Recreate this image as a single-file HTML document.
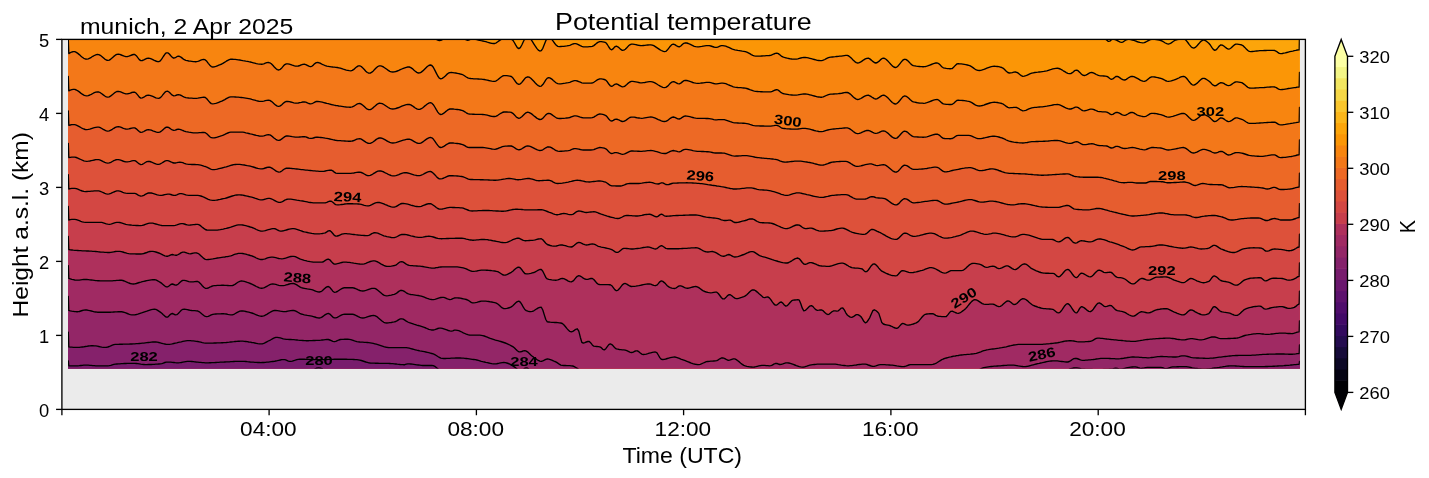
<!DOCTYPE html>
<html><head><meta charset="utf-8"><title>Potential temperature</title>
<style>html,body{margin:0;padding:0;background:#fff}body{width:1429px;height:478px;position:relative;overflow:hidden;font-family:"Liberation Sans",sans-serif}</style>
</head><body>
<svg width="1429" height="478" viewBox="0 0 1429 478" style="position:absolute;left:0;top:0;will-change:transform;transform:translateZ(0)">
<defs><clipPath id="dc"><rect x="68.0" y="39.4" width="1231.8" height="329.20000000000005"/></clipPath></defs>
<rect x="61.9" y="39.4" width="1243.5" height="370.0" fill="#ebebeb"/>
<g clip-path="url(#dc)">
<rect x="68.0" y="39.4" width="1231.8" height="329.20000000000005" fill="#fca50a"/>
<g stroke="#000" stroke-width="1.35" stroke-linejoin="round">
<path fill="#fb9606" d="M50,-34.3L68.3,-34.3L68.8,-20L70.3,-20L71.8,-20L73.3,-19.9L74.8,-19.9L76.3,-19.9L77.8,-19.9L79.3,-19.9L80.8,-19.9L82.3,-19.9L83.8,-19.8L85.3,-19.8L86.8,-19.8L88.3,-19.8L89.8,-19.8L91.3,-19.8L92.8,-19.7L94.3,-19.7L95.8,-19.7L97.3,-19.7L98.8,-19.7L100.3,-19.7L101.8,-19.7L103.3,-19.6L104.8,-19.6L106.3,-19.6L107.8,-19.6L109.3,-19.6L110.8,-19.6L112.3,-19.5L113.8,-19.5L115.3,-19.5L116.8,-19.5L118.3,-19.5L119.8,-19.4L121.3,-19.4L122.8,-19.4L124.3,-19.4L125.8,-19.4L127.3,-19.4L128.8,-19.3L130.3,-19.3L131.8,-19.3L133.3,-19.3L134.8,-19.3L136.3,-19.2L137.8,-19.2L139.3,-19.2L140.8,-19.2L142.3,-19.2L143.8,-19.1L145.3,-19.1L146.8,-19.1L148.3,-19.1L149.8,-19.1L151.3,-19L152.8,-19L154.3,-19L155.8,-19L157.3,-19L158.8,-18.9L160.3,-18.9L161.8,-18.9L163.3,-18.9L164.8,-18.9L166.3,-18.8L167.8,-18.8L169.3,-18.8L170.8,-18.8L172.3,-18.8L173.8,-18.7L175.3,-18.7L176.8,-18.7L178.3,-18.7L179.8,-18.7L181.3,-18.6L182.8,-18.6L184.3,-18.6L185.8,-18.6L187.3,-18.5L188.8,-18.5L190.3,-18.5L191.8,-18.5L193.3,-18.5L194.8,-18.4L196.3,-18.4L197.8,-18.4L199.3,-18.4L200.8,-18.3L202.3,-18.3L203.8,-18.3L205.3,-18.3L206.8,-18.3L208.3,-18.2L209.8,-18.2L211.3,-18.2L212.8,-18.2L214.3,-18.1L215.8,-18.1L217.3,-18.1L218.8,-18.1L220.3,-18L221.8,-18L223.3,-18L224.8,-18L226.3,-17.9L227.8,-17.9L229.3,-17.9L230.8,-17.9L232.3,-17.8L233.8,-17.8L235.3,-17.8L236.8,-17.8L238.3,-17.7L239.8,-17.7L241.3,-17.7L242.8,-17.7L244.3,-17.6L245.8,-17.6L247.3,-17.6L248.8,-17.6L250.3,-17.5L251.8,-17.5L253.3,-17.5L254.8,-17.5L256.3,-17.4L257.8,-17.4L259.3,-17.4L260.8,-17.4L262.3,-17.3L263.8,-17.3L265.3,-17.3L266.8,-17.3L268.3,-17.2L269.8,-17.2L271.3,-17.2L272.8,-17.2L274.3,-17.1L275.8,-17.1L277.3,-17.1L278.8,-17L280.3,-17L281.8,-17L283.3,-17L284.8,-16.9L286.3,-16.9L287.8,-16.9L289.3,-16.9L290.8,-16.8L292.3,-16.8L293.8,-16.8L295.3,-16.7L296.8,-16.7L298.3,-16.7L299.8,-16.7L301.3,-16.6L302.8,-16.6L304.3,-16.6L305.8,-16.6L307.3,-16.5L308.8,-16.5L310.3,-16.5L311.8,-16.4L313.3,-16.4L314.8,-16.4L316.3,-16.4L317.8,-16.3L319.3,-16.3L320.8,-16.3L322.3,-16.2L323.8,-16.2L325.3,-16.2L326.8,-16.1L328.3,-16.1L329.8,-16.1L331.3,-16.1L332.8,-16L334.3,-16L335.8,-16L337.3,-15.9L338.8,-15.9L340.3,-15.9L341.8,-15.9L343.3,-15.8L344.8,-15.8L346.3,-15.8L347.8,-15.7L349.3,-15.7L350.8,-15.7L352.3,-15.6L353.8,-15.6L355.3,-15.6L356.8,-15.6L358.3,-15.5L359.8,-15.5L361.3,-15.5L362.8,-15.4L364.3,-15.4L365.8,-15.4L367.3,-15.3L368.8,-15.3L370.3,-15.3L371.8,-15.2L373.3,-15.2L374.8,-15.2L376.3,-15.2L377.8,-15.1L379.3,-15.1L380.8,-15.1L382.3,-15L383.8,-15L385.3,-15L386.8,-14.9L388.3,-14.9L389.8,-14.9L391.3,-14.8L392.8,-14.8L394.3,-14.8L395.8,-14.7L397.3,-14.7L398.8,-14.7L400.3,-14.6L401.8,-14.6L403.3,-14.6L404.8,-14.6L406.3,-14.5L407.8,-14.5L409.3,-14.5L410.8,-14.4L412.3,-14.4L413.8,-14.4L415.3,-14.3L416.8,-14.3L418.3,-14.3L419.8,-14.2L421.3,-14.2L422.8,-14.2L424.3,-14.1L425.8,-14.1L427.3,-14.1L428.8,-14L430.3,-14L431.8,-14L433.3,-13.9L434.8,-13.9L436.3,-13.9L437.8,-13.8L439.3,-13.8L440.8,-13.8L442.3,-13.7L443.8,-13.7L445.3,-13.7L446.8,-13.6L448.3,-13.6L449.8,-13.6L451.3,-13.5L452.8,-13.5L454.3,-13.5L455.8,-13.4L457.3,-13.4L458.8,-13.4L460.3,-13.3L461.8,-13.3L463.3,-13.3L464.8,-13.2L466.3,-13.2L467.8,-13.2L469.3,-13.1L470.8,-13.1L472.3,-13.1L473.8,-13L475.3,-13L476.8,-12.9L478.3,-12.9L479.8,-12.9L481.3,-12.8L482.8,-12.8L484.3,-12.8L485.8,-12.7L487.3,-12.7L488.8,-12.7L490.3,-12.6L491.8,-12.6L493.3,-12.6L494.8,-12.5L496.3,-12.5L497.8,-12.5L499.3,-12.4L500.8,-12.4L502.3,-12.4L503.8,-12.3L505.3,-12.3L506.8,-12.2L508.3,-12.2L509.8,-12.2L511.3,-12.1L512.8,-12.1L514.3,-12.1L515.8,-12L517.3,-12L518.8,-12L520.3,-11.9L521.8,-11.9L523.3,-11.9L524.8,-11.8L526.3,-11.8L527.8,-11.8L529.3,-11.7L530.8,-11.7L532.3,-11.6L533.8,-11.6L535.3,-11.6L536.8,-11.5L538.3,-11.5L539.8,-11.5L541.3,-11.4L542.8,-11.4L544.3,-11.4L545.8,-11.3L547.3,-11.3L548.8,-11.2L550.3,-11.2L551.8,-11.2L553.3,-11.1L554.8,-11.1L556.3,-11.1L557.8,-11L559.3,-11L560.8,-11L562.3,-10.9L563.8,-10.9L565.3,-10.9L566.8,-10.8L568.3,-10.8L569.8,-10.7L571.3,-10.7L572.8,-10.7L574.3,-10.6L575.8,-10.6L577.3,-10.6L578.8,-10.5L580.3,-10.5L581.8,-10.4L583.3,-10.4L584.8,-10.4L586.3,-10.3L587.8,-10.3L589.3,-10.3L590.8,-10.2L592.3,-10.2L593.8,-10.2L595.3,-10.1L596.8,-10.1L598.3,-10L599.8,-10L601.3,-10L602.8,-9.9L604.3,-9.9L605.8,-9.9L607.3,-9.8L608.8,-9.8L610.3,-9.7L611.8,-9.7L613.3,-9.7L614.8,-9.6L616.3,-9.6L617.8,-9.5L619.3,-9.5L620.8,-9.5L622.3,-9.4L623.8,-9.4L625.3,-9.3L626.8,-9.3L628.3,-9.3L629.8,-9.2L631.3,-9.2L632.8,-9.1L634.3,-9.1L635.8,-9L637.3,-9L638.8,-9L640.3,-8.9L641.8,-8.9L643.3,-8.8L644.8,-8.8L646.3,-8.7L647.8,-8.7L649.3,-8.6L650.8,-8.6L652.3,-8.5L653.8,-8.5L655.3,-8.5L656.8,-8.4L658.3,-8.4L659.8,-8.3L661.3,-8.3L662.8,-8.2L664.3,-8.2L665.8,-8.1L667.3,-8.1L668.8,-8L670.3,-8L671.8,-7.9L673.3,-7.9L674.8,-7.8L676.3,-7.8L677.8,-7.7L679.3,-7.7L680.8,-7.6L682.3,-7.6L683.8,-7.5L685.3,-7.5L686.8,-7.4L688.3,-7.4L689.8,-7.4L691.3,-7.3L692.8,-7.2L694.3,-7.2L695.8,-7.1L697.3,-7.1L698.8,-7L700.3,-7L701.8,-6.9L703.3,-6.9L704.8,-6.8L706.3,-6.8L707.8,-6.7L709.3,-6.7L710.8,-6.6L712.3,-6.6L713.8,-6.5L715.3,-6.5L716.8,-6.4L718.3,-6.4L719.8,-6.3L721.3,-6.3L722.8,-6.2L724.3,-6.2L725.8,-6.1L727.3,-6.1L728.8,-6L730.3,-6L731.8,-5.9L733.3,-5.8L734.8,-5.8L736.3,-5.7L737.8,-5.7L739.3,-5.6L740.8,-5.6L742.3,-5.5L743.8,-5.5L745.3,-5.4L746.8,-5.4L748.3,-5.3L749.8,-5.3L751.3,-5.2L752.8,-5.1L754.3,-5.1L755.8,-5L757.3,-5L758.8,-4.9L760.3,-4.9L761.8,-4.8L763.3,-4.8L764.8,-4.7L766.3,-4.7L767.8,-4.6L769.3,-4.6L770.8,-4.5L772.3,-4.4L773.8,-4.4L775.3,-4.3L776.8,-4.3L778.3,-4.2L779.8,-4.2L781.3,-4.1L782.8,-4.1L784.3,-4L785.8,-4L787.3,-3.9L788.8,-3.8L790.3,-3.8L791.8,-3.7L793.3,-3.7L794.8,-3.6L796.3,-3.6L797.8,-3.5L799.3,-3.5L800.8,-3.4L802.3,-3.4L803.8,-3.3L805.3,-3.2L806.8,-3.2L808.3,-3.1L809.8,-3.1L811.3,-3L812.8,-3L814.3,-2.9L815.8,-2.9L817.3,-2.8L818.8,-2.8L820.3,-2.7L821.8,-2.7L823.3,-2.6L824.8,-2.5L826.3,-2.5L827.8,-2.4L829.3,-2.4L830.8,-2.3L832.3,-2.3L833.8,-2.2L835.3,-2.2L836.8,-2.1L838.3,-2.1L839.8,-2L841.3,-2L842.8,-1.9L844.3,-1.9L845.8,-1.8L847.3,-1.8L848.8,-1.7L850.3,-1.6L851.8,-1.6L853.3,-1.5L854.8,-1.5L856.3,-1.4L857.8,-1.4L859.3,-1.3L860.8,-1.3L862.3,-1.2L863.8,-1.2L865.3,-1.1L866.8,-1.1L868.3,-1L869.8,-1L871.3,-0.9L872.8,-0.9L874.3,-0.8L875.8,-0.8L877.3,-0.7L878.8,-0.7L880.3,-0.6L881.8,-0.6L883.3,-0.5L884.8,-0.5L886.3,-0.4L887.8,-0.4L889.3,-0.3L890.8,-0.3L892.3,-0.2L893.8,-0.2L895.3,-0.1L896.8,-0.1L898.3,-0.1L899.8,-0L901.3,0L902.8,0.1L904.3,0.1L905.8,0.2L907.3,0.2L908.8,0.3L910.3,0.3L911.8,0.4L913.3,0.4L914.8,0.4L916.3,0.5L917.8,0.5L919.3,0.6L920.8,0.6L922.3,0.7L923.8,0.7L925.3,0.7L926.8,0.8L928.3,0.8L929.8,0.9L931.3,0.9L932.8,0.9L934.3,1L935.8,1L937.3,1.1L938.8,1.1L940.3,1.1L941.8,1.2L943.3,1.2L944.8,1.3L946.3,1.3L947.8,1.3L949.3,1.4L950.8,1.4L952.3,1.5L953.8,1.5L955.3,1.5L956.8,1.6L958.3,1.6L959.8,1.7L961.3,1.7L962.8,1.8L964.3,1.8L965.8,1.8L967.3,1.9L968.8,1.9L970.3,2L971.8,2L973.3,2.1L974.8,2.1L976.3,2.2L977.8,2.2L979.3,2.3L980.8,2.3L982.3,2.4L983.8,2.4L985.3,2.5L986.8,2.5L988.3,2.6L989.8,2.6L991.3,2.7L992.8,2.7L994.3,2.8L995.8,2.8L997.3,2.9L998.8,3L1000.3,3L1001.8,3.1L1003.3,3.1L1004.8,3.2L1006.3,3.2L1007.8,3.3L1009.3,3.3L1010.8,3.4L1012.3,3.4L1013.8,3.4L1015.3,3.5L1016.8,3.5L1018.3,3.5L1019.8,3.6L1021.3,3.6L1022.8,3.6L1024.3,3.7L1025.8,3.7L1027.3,3.8L1028.8,3.8L1030.3,3.8L1031.8,3.9L1033.3,3.9L1034.8,3.9L1036.3,4L1037.8,4L1039.3,4.1L1040.8,4.1L1042.3,4.2L1043.8,4.2L1045.3,4.3L1046.8,4.3L1048.3,4.4L1049.8,4.4L1051.3,4.5L1052.8,4.6L1054.3,4.6L1055.8,4.7L1057.3,4.8L1058.8,4.9L1060.3,5L1061.8,5.1L1063.3,5.2L1064.8,5.3L1066.3,5.4L1067.8,5.5L1069.3,5.6L1070.8,5.8L1072.3,5.9L1073.8,6L1075.3,6.2L1076.8,6.3L1078.3,6.5L1079.8,6.7L1081.3,6.8L1082.8,7L1084.3,7.2L1085.8,7.4L1087.3,7.6L1088.8,7.8L1090.3,8.2L1091.8,12.4L1093.3,20.2L1094.8,28.9L1096.3,36.1L1097.8,39L1099.3,39L1100.8,39L1102.3,39L1103.8,39L1105.3,39L1106.8,40.1L1108.3,41.4L1109.8,41.2L1111.3,39.8L1112.8,39L1114.3,39.3L1115.8,39.9L1117.3,40.6L1118.8,41.4L1120.3,42.1L1121.8,42.3L1123.3,41.8L1124.8,40.8L1126.3,39.8L1127.8,39.3L1129.3,39.3L1130.8,39.6L1132.3,40L1133.8,40.4L1135.3,40.9L1136.8,41.5L1138.3,42L1139.8,42.4L1141.3,42.7L1142.8,42.8L1144.3,42.6L1145.8,42L1147.3,41.2L1148.8,40.3L1150.3,39.6L1151.8,39.3L1153.3,39.3L1154.8,39.4L1156.3,39.7L1157.8,39.9L1159.3,40.2L1160.8,40.5L1162.3,41.1L1163.8,42L1165.3,43L1166.8,43.7L1168.3,44.1L1169.8,43.7L1171.3,42.9L1172.8,41.8L1174.3,40.7L1175.8,40L1177.3,39.7L1178.8,39.3L1180.3,39L1181.8,38.9L1183.3,38.8L1184.8,39.2L1186.3,40.6L1187.8,42.5L1189.3,44.6L1190.8,46.4L1192.3,47.7L1193.8,48.1L1195.3,47.4L1196.8,46.1L1198.3,44.3L1199.8,42.6L1201.3,41.1L1202.8,40.2L1204.3,40.1L1205.8,40.8L1207.3,42L1208.8,43.2L1210.3,45L1211.8,47.4L1213.3,49.4L1214.8,50.4L1216.3,49.7L1217.8,47.9L1219.3,46L1220.8,44.9L1222.3,45.1L1223.8,46L1225.3,47.2L1226.8,48.4L1228.3,49.1L1229.8,48.8L1231.3,47.8L1232.8,46.3L1234.3,44.9L1235.8,44.1L1237.3,44.1L1238.8,44.3L1240.3,44.6L1241.8,45L1243.3,45.9L1244.8,47.4L1246.3,49.1L1247.8,50.5L1249.3,51.4L1250.8,51.6L1252.3,51.5L1253.8,51.4L1255.3,51.2L1256.8,51L1258.3,50.9L1259.8,50.7L1261.3,50.6L1262.8,50.6L1264.3,50.5L1265.8,50.5L1267.3,50.4L1268.8,50.4L1270.3,50.4L1271.8,50.4L1273.3,50.4L1274.8,50.5L1276.3,51.3L1277.8,52.4L1279.3,53.4L1280.8,53.6L1282.3,53.5L1283.8,53.2L1285.3,52.9L1286.8,52.5L1288.3,52.1L1289.8,51.7L1291.3,51.4L1292.8,51.1L1294.3,50.7L1295.8,50.4L1297.3,50L1298.8,49.9L1299.2,49.9L1299.5,35.1L1320,35.1L1320,500L50,500Z"/>
<path fill="#f8850f" d="M50,-0.3L68.3,-0.3L68.8,14L70.3,14L71.8,14L73.3,14L74.8,14L76.3,14L77.8,14L79.3,14L80.8,14L82.3,14L83.8,14L85.3,14L86.8,14.1L88.3,14.1L89.8,14.1L91.3,14.1L92.8,14.1L94.3,14.1L95.8,14.1L97.3,14.1L98.8,14.1L100.3,14.2L101.8,14.2L103.3,14.2L104.8,14.2L106.3,14.2L107.8,14.2L109.3,14.3L110.8,14.3L112.3,14.3L113.8,14.3L115.3,14.3L116.8,14.3L118.3,14.4L119.8,14.4L121.3,14.4L122.8,14.4L124.3,14.5L125.8,14.5L127.3,14.5L128.8,14.5L130.3,14.6L131.8,14.6L133.3,14.6L134.8,14.6L136.3,14.7L137.8,14.7L139.3,14.7L140.8,14.7L142.3,14.8L143.8,14.8L145.3,14.8L146.8,14.9L148.3,14.9L149.8,14.9L151.3,15L152.8,15L154.3,15L155.8,15.1L157.3,15.1L158.8,15.1L160.3,15.2L161.8,15.2L163.3,15.2L164.8,15.3L166.3,15.3L167.8,15.4L169.3,15.4L170.8,15.4L172.3,15.5L173.8,15.5L175.3,15.5L176.8,15.6L178.3,15.6L179.8,15.7L181.3,15.7L182.8,15.8L184.3,15.8L185.8,15.8L187.3,15.9L188.8,15.9L190.3,16L191.8,16L193.3,16.1L194.8,16.1L196.3,16.1L197.8,16.2L199.3,16.2L200.8,16.3L202.3,16.3L203.8,16.4L205.3,16.4L206.8,16.5L208.3,16.5L209.8,16.6L211.3,16.6L212.8,16.7L214.3,16.7L215.8,16.8L217.3,16.8L218.8,16.9L220.3,16.9L221.8,17L223.3,17L224.8,17.1L226.3,17.1L227.8,17.2L229.3,17.2L230.8,17.3L232.3,17.3L233.8,17.4L235.3,17.5L236.8,17.5L238.3,17.6L239.8,17.6L241.3,17.7L242.8,17.7L244.3,17.8L245.8,17.8L247.3,17.9L248.8,18L250.3,18L251.8,18.1L253.3,18.1L254.8,18.2L256.3,18.2L257.8,18.3L259.3,18.4L260.8,18.4L262.3,18.5L263.8,18.5L265.3,18.6L266.8,18.6L268.3,18.7L269.8,18.8L271.3,18.8L272.8,18.9L274.3,18.9L275.8,19L277.3,19.1L278.8,19.1L280.3,19.2L281.8,19.2L283.3,19.3L284.8,19.4L286.3,19.4L287.8,19.5L289.3,19.6L290.8,19.6L292.3,19.7L293.8,19.7L295.3,19.8L296.8,19.9L298.3,19.9L299.8,20L301.3,20.1L302.8,20.1L304.3,20.2L305.8,20.2L307.3,20.3L308.8,20.4L310.3,20.5L311.8,20.5L313.3,20.6L314.8,20.7L316.3,20.7L317.8,20.8L319.3,20.9L320.8,21L322.3,21L323.8,21.1L325.3,21.2L326.8,21.3L328.3,21.4L329.8,21.4L331.3,21.5L332.8,21.6L334.3,21.7L335.8,21.8L337.3,21.9L338.8,22L340.3,22.1L341.8,22.2L343.3,22.3L344.8,22.4L346.3,22.5L347.8,22.6L349.3,22.7L350.8,22.8L352.3,22.9L353.8,23L355.3,23.1L356.8,23.2L358.3,23.3L359.8,23.4L361.3,23.6L362.8,23.7L364.3,23.8L365.8,23.9L367.3,24.1L368.8,24.2L370.3,24.3L371.8,24.4L373.3,24.6L374.8,24.7L376.3,24.9L377.8,25L379.3,25.1L380.8,25.3L382.3,25.4L383.8,25.6L385.3,25.7L386.8,25.9L388.3,26L389.8,26.2L391.3,26.4L392.8,26.5L394.3,26.7L395.8,26.9L397.3,27L398.8,27.2L400.3,27.4L401.8,27.6L403.3,27.8L404.8,28L406.3,28.1L407.8,28.3L409.3,28.5L410.8,28.7L412.3,28.9L413.8,29.1L415.3,29.3L416.8,29.5L418.3,29.8L419.8,30L421.3,30.2L422.8,30.4L424.3,30.7L425.8,31L427.3,31.3L428.8,31.7L430.3,32.3L431.8,32.9L433.3,34.5L434.8,37.4L436.3,39.4L437.8,40.1L439.3,40.5L440.8,40.4L442.3,39.7L443.8,39L445.3,39L446.8,39L448.3,39L449.8,39L451.3,39L452.8,39L454.3,39L455.8,39L457.3,39L458.8,39L460.3,39L461.8,39L463.3,39L464.8,39.1L466.3,39.8L467.8,40.3L469.3,39.9L470.8,39.2L472.3,39L473.8,39.1L475.3,39.3L476.8,39.6L478.3,40L479.8,40.3L481.3,40.7L482.8,41L484.3,41.3L485.8,41.7L487.3,42.2L488.8,42.6L490.3,43L491.8,43.3L493.3,43.5L494.8,43.5L496.3,42.8L497.8,41.7L499.3,40.6L500.8,39.7L502.3,38.6L503.8,37.8L505.3,37.3L506.8,37.4L508.3,37.7L509.8,38.4L511.3,39.1L512.8,40.2L514.3,42.5L515.8,45.2L517.3,47.6L518.8,48.6L520.3,47.6L521.8,45L523.3,41.8L524.8,38.8L526.3,36.8L527.8,36.6L529.3,37.5L530.8,39.2L532.3,41.4L533.8,43.8L535.3,46.2L536.8,48.4L538.3,50.1L539.8,51L541.3,50.7L542.8,48.3L544.3,44.6L545.8,40.8L547.3,37.9L548.8,37L550.3,37.8L551.8,39.4L553.3,41.4L554.8,43.5L556.3,45.3L557.8,46.4L559.3,46.6L560.8,46.5L562.3,46.4L563.8,46.3L565.3,46.1L566.8,45.9L568.3,45.6L569.8,45.3L571.3,44.7L572.8,44L574.3,43.6L575.8,43.6L577.3,44.1L578.8,44.9L580.3,45.7L581.8,46.4L583.3,46.8L584.8,46.8L586.3,46.8L587.8,46.8L589.3,46.7L590.8,46.6L592.3,46.4L593.8,45.6L595.3,44.4L596.8,43.1L598.3,42.1L599.8,41.6L601.3,41.6L602.8,41.8L604.3,42.1L605.8,42.6L607.3,44.5L608.8,47L610.3,49.2L611.8,49.8L613.3,48.6L614.8,46.8L616.3,46.1L617.8,46.8L619.3,48.1L620.8,49.4L622.3,50.3L623.8,50.2L625.3,49.2L626.8,47.7L628.3,46.1L629.8,44.8L631.3,44.1L632.8,44.1L634.3,44.3L635.8,44.6L637.3,45L638.8,45.3L640.3,45.5L641.8,45.6L643.3,45.5L644.8,45.4L646.3,45.2L647.8,45L649.3,44.9L650.8,44.8L652.3,45.1L653.8,45.7L655.3,46.6L656.8,47.6L658.3,48.6L659.8,49.6L661.3,50.5L662.8,51.2L664.3,51.6L665.8,51.4L667.3,50.1L668.8,48.2L670.3,46.2L671.8,44.6L673.3,44.1L674.8,44.6L676.3,45.6L677.8,46.5L679.3,46.8L680.8,46L682.3,44.6L683.8,43.3L685.3,42.8L686.8,43L688.3,43.5L689.8,44.2L691.3,44.9L692.8,45.6L694.3,46.3L695.8,46.7L697.3,46.8L698.8,46.8L700.3,46.6L701.8,46.4L703.3,46.1L704.8,45.9L706.3,45.7L707.8,45.6L709.3,45.6L710.8,46L712.3,46.5L713.8,47L715.3,47.3L716.8,47.3L718.3,46.8L719.8,46.2L721.3,45.7L722.8,45.6L724.3,45.8L725.8,46.2L727.3,46.8L728.8,47.4L730.3,48.1L731.8,48.8L733.3,49.4L734.8,49.8L736.3,50.1L737.8,50.4L739.3,50.6L740.8,50.8L742.3,51.1L743.8,51.3L745.3,51.7L746.8,52.2L748.3,52.9L749.8,53.7L751.3,54.6L752.8,55.3L754.3,55.8L755.8,56.1L757.3,56.1L758.8,56.1L760.3,56.1L761.8,56L763.3,55.9L764.8,55.9L766.3,55.7L767.8,55.6L769.3,55.5L770.8,55.3L772.3,54.7L773.8,54L775.3,53.4L776.8,53.1L778.3,53.6L779.8,54.8L781.3,56.1L782.8,56.9L784.3,57.4L785.8,57.8L787.3,58.2L788.8,58.5L790.3,58.8L791.8,59L793.3,59.1L794.8,59.2L796.3,59.1L797.8,58.8L799.3,58.4L800.8,58L802.3,57.6L803.8,57.4L805.3,57.5L806.8,57.6L808.3,57.9L809.8,58.3L811.3,58.7L812.8,59.1L814.3,59.5L815.8,59.9L817.3,60.3L818.8,60.5L820.3,60.7L821.8,60.6L823.3,60.2L824.8,59.5L826.3,58.6L827.8,57.9L829.3,57.4L830.8,57.2L832.3,57L833.8,56.8L835.3,56.7L836.8,56.5L838.3,56.4L839.8,56.2L841.3,56.1L842.8,55.8L844.3,55.6L845.8,55.4L847.3,55.4L848.8,56L850.3,57.2L851.8,58.6L853.3,60.2L854.8,61.6L856.3,62.6L857.8,63L859.3,62.6L860.8,61.9L862.3,60.9L863.8,59.8L865.3,58.9L866.8,58.3L868.3,58.2L869.8,58.9L871.3,60.1L872.8,61.4L874.3,62.5L875.8,63L877.3,62.5L878.8,61.4L880.3,59.9L881.8,58.7L883.3,58.2L884.8,58.5L886.3,59.5L887.8,60.9L889.3,62.6L890.8,64.3L892.3,65.9L893.8,67L895.3,67.5L896.8,67.1L898.3,65.7L899.8,63.8L901.3,61.9L902.8,60.2L904.3,59.3L905.8,59.4L907.3,60.3L908.8,61.8L910.3,63.4L911.8,64.8L913.3,65.6L914.8,65.9L916.3,66.2L917.8,66.4L919.3,66.5L920.8,66.6L922.3,66.7L923.8,66.7L925.3,66.6L926.8,66.2L928.3,65.7L929.8,65.1L931.3,64.5L932.8,63.9L934.3,63.4L935.8,63L937.3,63L938.8,63.7L940.3,65.1L941.8,66.7L943.3,67.8L944.8,68.1L946.3,68.4L947.8,68.6L949.3,68.7L950.8,68.7L952.3,68.5L953.8,67.1L955.3,65.4L956.8,64L958.3,63.7L959.8,63.8L961.3,63.9L962.8,64.1L964.3,64.4L965.8,64.7L967.3,65L968.8,65.4L970.3,65.9L971.8,66.8L973.3,67.9L974.8,69L976.3,69.9L977.8,70.4L979.3,70.5L980.8,70.3L982.3,69.9L983.8,69.4L985.3,68.8L986.8,68.2L988.3,67.6L989.8,67.1L991.3,66.6L992.8,66.3L994.3,66.2L995.8,66.3L997.3,66.5L998.8,66.7L1000.3,67.1L1001.8,67.5L1003.3,68.3L1004.8,69.7L1006.3,71.2L1007.8,72.5L1009.3,73L1010.8,72.9L1012.3,72.6L1013.8,72.2L1015.3,72L1016.8,72.3L1018.3,73.2L1019.8,74.5L1021.3,75.6L1022.8,76.3L1024.3,76.2L1025.8,75.7L1027.3,75.1L1028.8,74.3L1030.3,73.6L1031.8,73.1L1033.3,72.8L1034.8,72.5L1036.3,72.3L1037.8,72.2L1039.3,72L1040.8,71.8L1042.3,71.6L1043.8,71.4L1045.3,71.1L1046.8,70.8L1048.3,70.3L1049.8,69.8L1051.3,69.4L1052.8,68.9L1054.3,68.6L1055.8,68.3L1057.3,68.2L1058.8,68.5L1060.3,69L1061.8,69.8L1063.3,70.8L1064.8,71.7L1066.3,72.6L1067.8,73.3L1069.3,73.7L1070.8,73.6L1072.3,72.7L1073.8,71.4L1075.3,70.3L1076.8,70.1L1078.3,70.9L1079.8,72.4L1081.3,74L1082.8,75.2L1084.3,75.5L1085.8,75.1L1087.3,74.3L1088.8,73.4L1090.3,72.7L1091.8,72.5L1093.3,72.9L1094.8,73.6L1096.3,74.5L1097.8,75.2L1099.3,75.6L1100.8,75.8L1102.3,75.9L1103.8,76L1105.3,76.1L1106.8,76.3L1108.3,77.2L1109.8,78.5L1111.3,79.3L1112.8,78.9L1114.3,77.7L1115.8,76.5L1117.3,76.4L1118.8,77L1120.3,78.1L1121.8,79.2L1123.3,79.9L1124.8,80L1126.3,79.4L1127.8,78.3L1129.3,77.3L1130.8,76.5L1132.3,76.3L1133.8,76.6L1135.3,77.3L1136.8,78.1L1138.3,78.9L1139.8,79.8L1141.3,80.6L1142.8,81.1L1144.3,81.3L1145.8,80.9L1147.3,79.8L1148.8,78.5L1150.3,77.4L1151.8,76.8L1153.3,76.9L1154.8,77L1156.3,77.3L1157.8,77.6L1159.3,78L1160.8,78.3L1162.3,78.9L1163.8,79.7L1165.3,80.5L1166.8,81.1L1168.3,81.3L1169.8,81.2L1171.3,80.9L1172.8,80.4L1174.3,79.9L1175.8,79.3L1177.3,78.7L1178.8,78L1180.3,77.2L1181.8,76.6L1183.3,76.3L1184.8,76.7L1186.3,78L1187.8,79.8L1189.3,81.8L1190.8,83.6L1192.3,84.8L1193.8,85.1L1195.3,84.5L1196.8,83.4L1198.3,82L1199.8,80.5L1201.3,79.2L1202.8,78.4L1204.3,78.4L1205.8,79L1207.3,80L1208.8,81L1210.3,82.3L1211.8,83.9L1213.3,85.2L1214.8,85.9L1216.3,85.5L1217.8,84.4L1219.3,83.3L1220.8,82.6L1222.3,82.8L1223.8,83.4L1225.3,84.3L1226.8,85.1L1228.3,85.6L1229.8,85.4L1231.3,84.6L1232.8,83.5L1234.3,82.5L1235.8,81.9L1237.3,81.9L1238.8,82.1L1240.3,82.4L1241.8,82.7L1243.3,83.6L1244.8,84.8L1246.3,86.1L1247.8,87.3L1249.3,88L1250.8,88.1L1252.3,88.1L1253.8,88.1L1255.3,88L1256.8,87.9L1258.3,87.8L1259.8,87.7L1261.3,87.6L1262.8,87.6L1264.3,87.5L1265.8,87.3L1267.3,87.2L1268.8,87.1L1270.3,87L1271.8,86.9L1273.3,86.9L1274.8,87L1276.3,87.7L1277.8,88.6L1279.3,89.4L1280.8,89.6L1282.3,89.5L1283.8,89.4L1285.3,89.1L1286.8,88.8L1288.3,88.5L1289.8,88.3L1291.3,88.1L1292.8,87.9L1294.3,87.7L1295.8,87.5L1297.3,87.2L1298.8,87.1L1299.2,87.1L1299.5,72.3L1320,72.3L1320,500L50,500Z"/>
<path fill="#f37819" d="M50,39.3L68.3,39.3L68.8,53.6L70.3,52.7L71.8,52L73.3,51.6L74.8,51.7L76.3,52.4L77.8,53.4L79.3,54.6L80.8,56L82.3,57.3L83.8,58.3L85.3,59L86.8,59.2L88.3,58.8L89.8,58.2L91.3,57.3L92.8,56.3L94.3,55.5L95.8,54.8L97.3,54.4L98.8,54.6L100.3,55.3L101.8,56.5L103.3,57.8L104.8,59.1L106.3,60L107.8,60.4L109.3,60.1L110.8,59.1L112.3,57.8L113.8,56.4L115.3,55.2L116.8,54.4L118.3,54.1L119.8,54.4L121.3,55L122.8,55.6L124.3,56.2L125.8,56.6L127.3,56.6L128.8,56.2L130.3,55.6L131.8,55L133.3,54.5L134.8,54.5L136.3,55.7L137.8,57.7L139.3,59.6L140.8,60.6L142.3,60.5L143.8,59.9L145.3,59.1L146.8,58.4L148.3,58.2L149.8,58.4L151.3,58.9L152.8,59.6L154.3,60.4L155.8,61L157.3,61.5L158.8,61.7L160.3,60.9L161.8,58.9L163.3,56.5L164.8,54.3L166.3,52.8L167.8,52.8L169.3,54L170.8,55.8L172.3,57.4L173.8,58.2L175.3,57.7L176.8,56.7L178.3,56.2L179.8,56.5L181.3,57.4L182.8,58.6L184.3,59.7L185.8,60.4L187.3,60.7L188.8,61L190.3,61.2L191.8,61.4L193.3,61.6L194.8,61.7L196.3,61.7L197.8,61.4L199.3,60.9L200.8,60.2L202.3,59.7L203.8,59.4L205.3,59.9L206.8,61.3L208.3,63.3L209.8,65.2L211.3,66.6L212.8,67L214.3,66.8L215.8,66.4L217.3,65.8L218.8,65.2L220.3,64.6L221.8,64L223.3,63.1L224.8,62.2L226.3,61.2L227.8,60.3L229.3,59.6L230.8,59.2L232.3,59.2L233.8,59.3L235.3,59.4L236.8,59.6L238.3,59.8L239.8,60L241.3,60.3L242.8,60.6L244.3,60.8L245.8,61.1L247.3,61.3L248.8,61.7L250.3,62L251.8,62.4L253.3,62.8L254.8,63.2L256.3,63.6L257.8,63.9L259.3,64.1L260.8,64.2L262.3,64.2L263.8,63.8L265.3,63.2L266.8,62.7L268.3,62.5L269.8,62.8L271.3,63.8L272.8,65.3L274.3,67L275.8,68.5L277.3,69.6L278.8,70L280.3,69.3L281.8,67.9L283.3,66.1L284.8,64.6L286.3,63.8L287.8,63.8L289.3,64.1L290.8,64.6L292.3,65.2L293.8,65.7L295.3,66.1L296.8,66.2L298.3,66L299.8,65.5L301.3,64.9L302.8,64.4L304.3,64.2L305.8,64.6L307.3,65.4L308.8,66.2L310.3,66.7L311.8,66.3L313.3,65.1L314.8,63.6L316.3,62.6L317.8,62.5L319.3,62.9L320.8,63.5L322.3,64.3L323.8,65L325.3,65.7L326.8,66.2L328.3,66.4L329.8,66.6L331.3,66.8L332.8,67L334.3,67.1L335.8,67.3L337.3,67.5L338.8,67.8L340.3,68.2L341.8,68.7L343.3,69.2L344.8,69.6L346.3,70.1L347.8,70.4L349.3,70.7L350.8,70.8L352.3,70.4L353.8,69.4L355.3,68L356.8,66.8L358.3,65.9L359.8,65.8L361.3,66.5L362.8,67.9L364.3,69.5L365.8,71.2L367.3,72.5L368.8,73.2L370.3,73.1L371.8,72.2L373.3,70.9L374.8,69.3L376.3,67.8L377.8,66.5L379.3,65.8L380.8,65.8L382.3,66.3L383.8,67.2L385.3,68.2L386.8,69.3L388.3,70.4L389.8,71.3L391.3,71.9L392.8,72L394.3,71.8L395.8,71.5L397.3,71L398.8,70.4L400.3,69.7L401.8,69L403.3,68.3L404.8,67.8L406.3,67.3L407.8,67L409.3,67L410.8,67.6L412.3,68.6L413.8,70L415.3,71.3L416.8,72.4L418.3,73L419.8,72.9L421.3,72.1L422.8,70.9L424.3,69.4L425.8,67.9L427.3,66.5L428.8,65.5L430.3,65L431.8,65.5L433.3,67.3L434.8,70.1L436.3,73.1L437.8,76L439.3,78.1L440.8,78.8L442.3,78.4L443.8,77.3L445.3,75.9L446.8,74.4L448.3,73.2L449.8,72.6L451.3,72.5L452.8,72.6L454.3,72.8L455.8,73L457.3,73.3L458.8,73.6L460.3,74L461.8,74.3L463.3,75L464.8,76L466.3,77L467.8,77.9L469.3,78.3L470.8,78.5L472.3,78.6L473.8,78.8L475.3,78.8L476.8,78.9L478.3,79L479.8,79.1L481.3,79.2L482.8,79.3L484.3,79.5L485.8,79.8L487.3,80.1L488.8,80.5L490.3,80.8L491.8,81.1L493.3,81.3L494.8,81.3L496.3,80.8L497.8,79.8L499.3,78.5L500.8,77.3L502.3,76.2L503.8,75.6L505.3,75.6L506.8,75.7L508.3,75.9L509.8,76.1L511.3,76.5L512.8,77.8L514.3,79.8L515.8,82L517.3,83.7L518.8,84.4L520.3,83.8L521.8,82.4L523.3,80.5L524.8,78.6L526.3,77.3L527.8,76.8L529.3,77.2L530.8,78.3L532.3,79.7L533.8,81.3L535.3,83L536.8,84.5L538.3,85.6L539.8,86.3L541.3,86.1L542.8,84.6L544.3,82.3L545.8,79.9L547.3,78.1L548.8,77.6L550.3,78.1L551.8,79.1L553.3,80.5L554.8,81.8L556.3,83L557.8,83.7L559.3,83.9L560.8,83.8L562.3,83.6L563.8,83.4L565.3,83.2L566.8,82.9L568.3,82.7L569.8,82.3L571.3,81.7L572.8,81.1L574.3,80.6L575.8,80.6L577.3,81L578.8,81.6L580.3,82.2L581.8,82.8L583.3,83.1L584.8,83.1L586.3,83.1L587.8,83.1L589.3,83.1L590.8,83.1L592.3,83L593.8,82.3L595.3,81.3L596.8,80.2L598.3,79.3L599.8,78.8L601.3,78.9L602.8,79.1L604.3,79.5L605.8,80.1L607.3,81.8L608.8,84L610.3,85.8L611.8,86.3L613.3,85.5L614.8,84.3L616.3,83.9L617.8,84.4L619.3,85.3L620.8,86.2L622.3,86.8L623.8,86.7L625.3,85.8L626.8,84.5L628.3,83.1L629.8,82L631.3,81.4L632.8,81.4L634.3,81.6L635.8,81.9L637.3,82.2L638.8,82.5L640.3,82.8L641.8,82.9L643.3,82.7L644.8,82.5L646.3,82.2L647.8,81.9L649.3,81.7L650.8,81.6L652.3,81.8L653.8,82.4L655.3,83.1L656.8,84L658.3,85L659.8,85.9L661.3,86.7L662.8,87.3L664.3,87.6L665.8,87.4L667.3,86.4L668.8,84.9L670.3,83.3L671.8,82.1L673.3,81.6L674.8,82L676.3,82.8L677.8,83.6L679.3,83.8L680.8,83.1L682.3,81.9L683.8,80.7L685.3,80.3L686.8,80.5L688.3,80.9L689.8,81.4L691.3,81.9L692.8,82.5L694.3,82.9L695.8,83.2L697.3,83.4L698.8,83.3L700.3,83.2L701.8,83L703.3,82.8L704.8,82.6L706.3,82.4L707.8,82.4L709.3,82.4L710.8,82.7L712.3,83.1L713.8,83.5L715.3,83.8L716.8,83.8L718.3,83.6L719.8,83.4L721.3,83.2L722.8,83.1L724.3,83.3L725.8,83.7L727.3,84.3L728.8,85L730.3,85.6L731.8,86.2L733.3,86.8L734.8,87.1L736.3,87.3L737.8,87.5L739.3,87.6L740.8,87.7L742.3,87.8L743.8,88L745.3,88.2L746.8,88.5L748.3,89L749.8,89.6L751.3,90.1L752.8,90.7L754.3,91.1L755.8,91.4L757.3,91.5L758.8,91.6L760.3,91.7L761.8,91.7L763.3,91.8L764.8,91.8L766.3,91.9L767.8,91.9L769.3,91.9L770.8,91.8L772.3,91.4L773.8,90.6L775.3,90L776.8,89.7L778.3,90.2L779.8,91.4L781.3,92.7L782.8,93.5L784.3,93.8L785.8,94.1L787.3,94.4L788.8,94.7L790.3,94.9L791.8,95L793.3,95.1L794.8,95.2L796.3,95.1L797.8,94.9L799.3,94.6L800.8,94.3L802.3,94.1L803.8,93.9L805.3,94L806.8,94.2L808.3,94.4L809.8,94.8L811.3,95.2L812.8,95.6L814.3,96L815.8,96.4L817.3,96.8L818.8,97L820.3,97.2L821.8,97.2L823.3,96.8L824.8,96.2L826.3,95.5L827.8,94.8L829.3,94.4L830.8,94.2L832.3,94.1L833.8,94L835.3,93.9L836.8,93.8L838.3,93.7L839.8,93.5L841.3,93.3L842.8,93L844.3,92.7L845.8,92.5L847.3,92.5L848.8,93L850.3,94.1L851.8,95.4L853.3,96.9L854.8,98.2L856.3,99.1L857.8,99.5L859.3,99.2L860.8,98.5L862.3,97.6L863.8,96.7L865.3,95.9L866.8,95.3L868.3,95.2L869.8,95.8L871.3,96.7L872.8,97.7L874.3,98.6L875.8,99L877.3,98.6L878.8,97.7L880.3,96.6L881.8,95.6L883.3,95.2L884.8,95.5L886.3,96.5L887.8,97.8L889.3,99.4L890.8,101L892.3,102.5L893.8,103.5L895.3,104L896.8,103.6L898.3,102.3L899.8,100.5L901.3,98.6L902.8,96.9L904.3,96L905.8,96.1L907.3,97L908.8,98.3L910.3,99.8L911.8,101.1L913.3,101.9L914.8,102.2L916.3,102.5L917.8,102.8L919.3,103L920.8,103.1L922.3,103.2L923.8,103.3L925.3,103.1L926.8,102.7L928.3,102.2L929.8,101.6L931.3,101L932.8,100.4L934.3,99.9L935.8,99.6L937.3,99.5L938.8,100.2L940.3,101.5L941.8,102.9L943.3,103.9L944.8,104.1L946.3,104.3L947.8,104.4L949.3,104.5L950.8,104.5L952.3,104.3L953.8,103.2L955.3,101.7L956.8,100.5L958.3,100.2L959.8,100.3L961.3,100.4L962.8,100.5L964.3,100.7L965.8,100.9L967.3,101.2L968.8,101.4L970.3,101.9L971.8,102.6L973.3,103.6L974.8,104.6L976.3,105.4L977.8,105.9L979.3,106L980.8,105.8L982.3,105.5L983.8,105.1L985.3,104.5L986.8,104L988.3,103.5L989.8,103L991.3,102.6L992.8,102.3L994.3,102.2L995.8,102.3L997.3,102.5L998.8,102.8L1000.3,103.1L1001.8,103.5L1003.3,104.2L1004.8,105.3L1006.3,106.4L1007.8,107.4L1009.3,107.8L1010.8,107.7L1012.3,107.6L1013.8,107.4L1015.3,107.3L1016.8,107.5L1018.3,108.3L1019.8,109.3L1021.3,110.2L1022.8,110.8L1024.3,110.7L1025.8,110.3L1027.3,109.6L1028.8,108.9L1030.3,108.3L1031.8,107.8L1033.3,107.6L1034.8,107.4L1036.3,107.3L1037.8,107.1L1039.3,107L1040.8,106.9L1042.3,106.8L1043.8,106.6L1045.3,106.4L1046.8,106.2L1048.3,105.9L1049.8,105.6L1051.3,105.3L1052.8,105L1054.3,104.7L1055.8,104.6L1057.3,104.5L1058.8,104.7L1060.3,105.2L1061.8,105.8L1063.3,106.6L1064.8,107.4L1066.3,108.1L1067.8,108.7L1069.3,109L1070.8,109L1072.3,108.5L1073.8,107.8L1075.3,107.2L1076.8,107.1L1078.3,107.6L1079.8,108.7L1081.3,109.8L1082.8,110.6L1084.3,110.8L1085.8,110.5L1087.3,110.1L1088.8,109.6L1090.3,109.2L1091.8,109.1L1093.3,109.4L1094.8,110L1096.3,110.7L1097.8,111.3L1099.3,111.6L1100.8,111.7L1102.3,111.8L1103.8,111.8L1105.3,111.9L1106.8,112.1L1108.3,112.8L1109.8,113.9L1111.3,114.6L1112.8,114.3L1114.3,113.4L1115.8,112.5L1117.3,112.4L1118.8,112.9L1120.3,113.7L1121.8,114.6L1123.3,115.2L1124.8,115.3L1126.3,114.8L1127.8,114L1129.3,113.1L1130.8,112.5L1132.3,112.4L1133.8,112.9L1135.3,113.8L1136.8,114.8L1138.3,115.4L1139.8,115.8L1141.3,116.2L1142.8,116.5L1144.3,116.6L1145.8,116.3L1147.3,115.5L1148.8,114.6L1150.3,113.7L1151.8,113.3L1153.3,113.4L1154.8,113.5L1156.3,113.7L1157.8,114L1159.3,114.3L1160.8,114.6L1162.3,115.1L1163.8,115.7L1165.3,116.4L1166.8,116.9L1168.3,117.1L1169.8,117L1171.3,116.7L1172.8,116.3L1174.3,115.8L1175.8,115.4L1177.3,114.9L1178.8,114.4L1180.3,113.9L1181.8,113.5L1183.3,113.3L1184.8,113.7L1186.3,114.7L1187.8,116.2L1189.3,117.7L1190.8,119.1L1192.3,120.1L1193.8,120.4L1195.3,119.9L1196.8,118.9L1198.3,117.7L1199.8,116.4L1201.3,115.3L1202.8,114.7L1204.3,114.7L1205.8,115.1L1207.3,115.9L1208.8,116.7L1210.3,118L1211.8,119.6L1213.3,121L1214.8,121.6L1216.3,121.2L1217.8,120L1219.3,118.7L1220.8,117.9L1222.3,118.1L1223.8,118.9L1225.3,120L1226.8,121L1228.3,121.6L1229.8,121.4L1231.3,120.7L1232.8,119.6L1234.3,118.5L1235.8,117.9L1237.3,117.9L1238.8,118.3L1240.3,118.8L1241.8,119.3L1243.3,120L1244.8,121L1246.3,122L1247.8,122.8L1249.3,123.3L1250.8,123.4L1252.3,123.4L1253.8,123.3L1255.3,123.3L1256.8,123.2L1258.3,123.1L1259.8,123L1261.3,122.9L1262.8,122.8L1264.3,122.7L1265.8,122.6L1267.3,122.5L1268.8,122.4L1270.3,122.3L1271.8,122.2L1273.3,122.2L1274.8,122.2L1276.3,122.9L1277.8,123.9L1279.3,124.7L1280.8,124.9L1282.3,124.8L1283.8,124.6L1285.3,124.4L1286.8,124.1L1288.3,123.8L1289.8,123.6L1291.3,123.3L1292.8,123.1L1294.3,122.8L1295.8,122.6L1297.3,122.3L1298.8,122.1L1299.2,122.1L1299.5,107.3L1320,107.3L1320,500L50,500Z"/>
<path fill="#ed6925" d="M50,76.5L68.3,76.5L68.8,90.8L70.3,90.1L71.8,89.6L73.3,89.3L74.8,89.4L76.3,90L77.8,90.8L79.3,91.9L80.8,93.1L82.3,94.2L83.8,95.1L85.3,95.7L86.8,95.9L88.3,95.6L89.8,95L91.3,94.3L92.8,93.5L94.3,92.7L95.8,92.2L97.3,91.9L98.8,92L100.3,92.7L101.8,93.7L103.3,94.9L104.8,96L106.3,96.8L107.8,97.1L109.3,96.8L110.8,95.9L112.3,94.7L113.8,93.5L115.3,92.3L116.8,91.5L118.3,91.3L119.8,91.6L121.3,92.2L122.8,92.8L124.3,93.4L125.8,93.8L127.3,93.8L128.8,93.5L130.3,93.1L131.8,92.5L133.3,92.2L134.8,92.2L136.3,93.3L137.8,95.2L139.3,97.1L140.8,98.1L142.3,97.9L143.8,97.2L145.3,96.2L146.8,95.4L148.3,95.1L149.8,95.3L151.3,95.8L152.8,96.4L154.3,97.1L155.8,97.8L157.3,98.2L158.8,98.4L160.3,97.7L161.8,96.1L163.3,94.2L164.8,92.4L166.3,91.3L167.8,91.2L169.3,92.3L170.8,93.8L172.3,95.2L173.8,95.9L175.3,95.6L176.8,95L178.3,94.6L179.8,94.9L181.3,95.5L182.8,96.4L184.3,97.1L185.8,97.6L187.3,97.8L188.8,98L190.3,98.1L191.8,98.2L193.3,98.3L194.8,98.4L196.3,98.4L197.8,98.2L199.3,97.9L200.8,97.6L202.3,97.3L203.8,97.1L205.3,97.5L206.8,98.8L208.3,100.6L209.8,102.4L211.3,103.6L212.8,103.9L214.3,103.7L215.8,103.4L217.3,102.9L218.8,102.3L220.3,101.7L221.8,101.2L223.3,100.4L224.8,99.6L226.3,98.7L227.8,97.9L229.3,97.2L230.8,96.9L232.3,96.9L233.8,96.9L235.3,97L236.8,97.1L238.3,97.2L239.8,97.4L241.3,97.5L242.8,97.7L244.3,97.9L245.8,98.1L247.3,98.3L248.8,98.6L250.3,98.9L251.8,99.4L253.3,99.8L254.8,100.2L256.3,100.7L257.8,101L259.3,101.3L260.8,101.4L262.3,101.4L263.8,101.1L265.3,100.7L266.8,100.3L268.3,100.2L269.8,100.4L271.3,101.3L272.8,102.6L274.3,103.9L275.8,105.2L277.3,106.1L278.8,106.4L280.3,105.9L281.8,104.7L283.3,103.3L284.8,102.1L286.3,101.4L287.8,101.5L289.3,101.7L290.8,102L292.3,102.4L293.8,102.8L295.3,103.1L296.8,103.2L298.3,103L299.8,102.7L301.3,102.4L302.8,102L304.3,101.9L305.8,102.2L307.3,102.8L308.8,103.5L310.3,103.9L311.8,103.7L313.3,103L314.8,102.1L316.3,101.5L317.8,101.4L319.3,101.6L320.8,101.9L322.3,102.2L323.8,102.6L325.3,103L326.8,103.4L328.3,103.7L329.8,104.1L331.3,104.5L332.8,104.8L334.3,105.2L335.8,105.5L337.3,105.7L338.8,106L340.3,106.2L341.8,106.4L343.3,106.6L344.8,106.8L346.3,107L347.8,107.1L349.3,107.2L350.8,107.2L352.3,106.9L353.8,106.2L355.3,105.2L356.8,104.2L358.3,103.6L359.8,103.5L361.3,104.1L362.8,105.2L364.3,106.6L365.8,108L367.3,109.1L368.8,109.7L370.3,109.6L371.8,108.8L373.3,107.6L374.8,106.3L376.3,104.9L377.8,103.8L379.3,103.2L380.8,103.3L382.3,103.7L383.8,104.5L385.3,105.5L386.8,106.5L388.3,107.5L389.8,108.3L391.3,108.8L392.8,109L394.3,108.8L395.8,108.5L397.3,108L398.8,107.5L400.3,106.9L401.8,106.2L403.3,105.6L404.8,105.1L406.3,104.7L407.8,104.5L409.3,104.5L410.8,104.9L412.3,105.8L413.8,106.9L415.3,108L416.8,108.9L418.3,109.4L419.8,109.3L421.3,108.7L422.8,107.7L424.3,106.4L425.8,105.2L427.3,104L428.8,103.1L430.3,102.7L431.8,103.1L433.3,104.7L434.8,107L436.3,109.7L437.8,112.1L439.3,113.9L440.8,114.5L442.3,114.1L443.8,113.2L445.3,111.9L446.8,110.7L448.3,109.6L449.8,109L451.3,109L452.8,109L454.3,109.2L455.8,109.3L457.3,109.5L458.8,109.7L460.3,110L461.8,110.3L463.3,110.9L464.8,111.8L466.3,112.8L467.8,113.6L469.3,114L470.8,114.1L472.3,114.2L473.8,114.2L475.3,114.3L476.8,114.3L478.3,114.3L479.8,114.4L481.3,114.4L482.8,114.5L484.3,114.6L485.8,114.9L487.3,115.2L488.8,115.6L490.3,116L491.8,116.3L493.3,116.5L494.8,116.5L496.3,116.1L497.8,115.3L499.3,114.3L500.8,113.3L502.3,112.5L503.8,112L505.3,112L506.8,112L508.3,112.1L509.8,112.2L511.3,112.4L512.8,113.3L514.3,114.8L515.8,116.4L517.3,117.7L518.8,118.3L520.3,117.8L521.8,116.7L523.3,115.2L524.8,113.7L526.3,112.6L527.8,112.2L529.3,112.6L530.8,113.4L532.3,114.4L533.8,115.7L535.3,116.9L536.8,118.1L538.3,119L539.8,119.5L541.3,119.4L542.8,118.3L544.3,116.6L545.8,114.9L547.3,113.7L548.8,113.3L550.3,113.7L551.8,114.6L553.3,115.7L554.8,116.8L556.3,117.8L557.8,118.4L559.3,118.5L560.8,118.5L562.3,118.4L563.8,118.3L565.3,118.2L566.8,118L568.3,117.8L569.8,117.5L571.3,116.9L572.8,116.3L574.3,115.8L575.8,115.8L577.3,116.1L578.8,116.6L580.3,117.1L581.8,117.5L583.3,117.8L584.8,117.8L586.3,117.8L587.8,117.8L589.3,117.8L590.8,117.8L592.3,117.7L593.8,117.1L595.3,116.2L596.8,115.2L598.3,114.4L599.8,114L601.3,114.1L602.8,114.4L604.3,114.9L605.8,115.6L607.3,117.1L608.8,119L610.3,120.6L611.8,121L613.3,120.4L614.8,119.4L616.3,119.1L617.8,119.5L619.3,120.2L620.8,121L622.3,121.5L623.8,121.4L625.3,120.7L626.8,119.6L628.3,118.5L629.8,117.5L631.3,117.1L632.8,117.1L634.3,117.2L635.8,117.5L637.3,117.8L638.8,118L640.3,118.2L641.8,118.3L643.3,118.2L644.8,117.9L646.3,117.6L647.8,117.3L649.3,117.1L650.8,117L652.3,117.2L653.8,117.6L655.3,118.2L656.8,118.9L658.3,119.6L659.8,120.2L661.3,120.8L662.8,121.3L664.3,121.5L665.8,121.4L667.3,120.7L668.8,119.5L670.3,118.3L671.8,117.4L673.3,117L674.8,117.4L676.3,118.1L677.8,118.8L679.3,119L680.8,118.4L682.3,117.3L683.8,116.4L685.3,116L686.8,116.1L688.3,116.4L689.8,116.7L691.3,117.1L692.8,117.5L694.3,117.9L695.8,118.2L697.3,118.3L698.8,118.3L700.3,118.4L701.8,118.4L703.3,118.4L704.8,118.4L706.3,118.5L707.8,118.5L709.3,118.6L710.8,118.9L712.3,119.2L713.8,119.6L715.3,119.8L716.8,119.8L718.3,119.7L719.8,119.6L721.3,119.6L722.8,119.6L724.3,119.7L725.8,120.1L727.3,120.6L728.8,121.1L730.3,121.7L731.8,122.2L733.3,122.6L734.8,122.8L736.3,122.9L737.8,123L739.3,123.1L740.8,123.1L742.3,123.2L743.8,123.2L745.3,123.4L746.8,123.6L748.3,123.9L749.8,124.4L751.3,124.8L752.8,125.3L754.3,125.6L755.8,125.8L757.3,125.9L758.8,125.9L760.3,126L761.8,126L763.3,126L764.8,126.1L766.3,126.1L767.8,126.1L769.3,126.1L770.8,126.1L772.3,125.9L773.8,125.7L775.3,125.4L776.8,125.3L778.3,125.8L779.8,126.8L781.3,127.8L782.8,128.4L784.3,128.5L785.8,128.7L787.3,128.8L788.8,128.9L790.3,129L791.8,129.1L793.3,129.1L794.8,129.1L796.3,129.1L797.8,129L799.3,128.8L800.8,128.6L802.3,128.4L803.8,128.4L805.3,128.4L806.8,128.6L808.3,128.9L809.8,129.2L811.3,129.6L812.8,130L814.3,130.5L815.8,130.9L817.3,131.2L818.8,131.5L820.3,131.6L821.8,131.6L823.3,131.4L824.8,130.9L826.3,130.4L827.8,130L829.3,129.6L830.8,129.4L832.3,129.2L833.8,129L835.3,128.9L836.8,128.7L838.3,128.6L839.8,128.4L841.3,128.3L842.8,128.1L844.3,128L845.8,127.9L847.3,127.9L848.8,128.3L850.3,129.2L851.8,130.3L853.3,131.5L854.8,132.6L856.3,133.4L857.8,133.7L859.3,133.4L860.8,132.9L862.3,132.2L863.8,131.5L865.3,130.9L866.8,130.5L868.3,130.4L869.8,130.8L871.3,131.6L872.8,132.4L874.3,133.1L875.8,133.4L877.3,133.2L878.8,132.6L880.3,131.8L881.8,131.2L883.3,130.9L884.8,131.2L886.3,132L887.8,133.1L889.3,134.5L890.8,135.9L892.3,137.1L893.8,138L895.3,138.4L896.8,138.1L898.3,136.9L899.8,135.2L901.3,133.5L902.8,132L904.3,131.2L905.8,131.3L907.3,132.1L908.8,133.4L910.3,134.8L911.8,135.9L913.3,136.6L914.8,136.8L916.3,136.9L917.8,137L919.3,137.1L920.8,137.1L922.3,137.2L923.8,137.2L925.3,137.1L926.8,136.8L928.3,136.4L929.8,135.9L931.3,135.4L932.8,134.9L934.3,134.5L935.8,134.2L937.3,134.2L938.8,134.8L940.3,136.1L941.8,137.4L943.3,138.3L944.8,138.5L946.3,138.6L947.8,138.6L949.3,138.7L950.8,138.7L952.3,138.5L953.8,137.7L955.3,136.5L956.8,135.6L958.3,135.4L959.8,135.4L961.3,135.4L962.8,135.4L964.3,135.4L965.8,135.4L967.3,135.4L968.8,135.4L970.3,135.6L971.8,136.1L973.3,136.8L974.8,137.5L976.3,138.2L977.8,138.6L979.3,138.7L980.8,138.6L982.3,138.3L983.8,138L985.3,137.7L986.8,137.3L988.3,137L989.8,136.7L991.3,136.4L992.8,136.2L994.3,136.2L995.8,136.3L997.3,136.6L998.8,137L1000.3,137.5L1001.8,137.9L1003.3,138.5L1004.8,139.2L1006.3,140L1007.8,140.7L1009.3,141.2L1010.8,141.5L1012.3,141.8L1013.8,142.1L1015.3,142.3L1016.8,142.5L1018.3,142.7L1019.8,142.8L1021.3,142.9L1022.8,143L1024.3,142.9L1025.8,142.7L1027.3,142.5L1028.8,142.2L1030.3,141.9L1031.8,141.7L1033.3,141.6L1034.8,141.6L1036.3,141.5L1037.8,141.5L1039.3,141.4L1040.8,141.4L1042.3,141.3L1043.8,141.2L1045.3,141.2L1046.8,141.1L1048.3,141L1049.8,140.8L1051.3,140.7L1052.8,140.6L1054.3,140.5L1055.8,140.5L1057.3,140.5L1058.8,140.6L1060.3,140.9L1061.8,141.3L1063.3,141.8L1064.8,142.4L1066.3,142.8L1067.8,143.2L1069.3,143.4L1070.8,143.4L1072.3,143L1073.8,142.4L1075.3,141.8L1076.8,141.7L1078.3,142.2L1079.8,143L1081.3,143.9L1082.8,144.6L1084.3,144.7L1085.8,144.6L1087.3,144.3L1088.8,144L1090.3,143.8L1091.8,143.7L1093.3,143.9L1094.8,144.4L1096.3,144.8L1097.8,145.3L1099.3,145.5L1100.8,145.6L1102.3,145.7L1103.8,145.8L1105.3,145.9L1106.8,146L1108.3,146.6L1109.8,147.5L1111.3,148L1112.8,147.8L1114.3,147.1L1115.8,146.4L1117.3,146.3L1118.8,146.7L1120.3,147.3L1121.8,148L1123.3,148.4L1124.8,148.5L1126.3,148.3L1127.8,148.1L1129.3,147.8L1130.8,147.6L1132.3,147.5L1133.8,147.7L1135.3,147.9L1136.8,148.3L1138.3,148.7L1139.8,149.1L1141.3,149.4L1142.8,149.7L1144.3,149.8L1145.8,149.6L1147.3,149L1148.8,148.4L1150.3,147.8L1151.8,147.5L1153.3,147.5L1154.8,147.6L1156.3,147.6L1157.8,147.8L1159.3,147.9L1160.8,148L1162.3,148.3L1163.8,148.8L1165.3,149.4L1166.8,149.8L1168.3,150L1169.8,149.9L1171.3,149.7L1172.8,149.4L1174.3,149.1L1175.8,148.8L1177.3,148.5L1178.8,148.2L1180.3,147.8L1181.8,147.6L1183.3,147.5L1184.8,147.8L1186.3,148.6L1187.8,149.7L1189.3,151L1190.8,152.1L1192.3,152.8L1193.8,153L1195.3,152.7L1196.8,152.1L1198.3,151.3L1199.8,150.5L1201.3,149.8L1202.8,149.3L1204.3,149.3L1205.8,149.6L1207.3,150.1L1208.8,150.6L1210.3,151.2L1211.8,152L1213.3,152.7L1214.8,153L1216.3,152.8L1217.8,152.3L1219.3,151.7L1220.8,151.3L1222.3,151.5L1223.8,152.3L1225.3,153.4L1226.8,154.4L1228.3,155L1229.8,154.9L1231.3,154.4L1232.8,153.7L1234.3,153L1235.8,152.6L1237.3,152.6L1238.8,152.7L1240.3,152.9L1241.8,153.1L1243.3,153.5L1244.8,154L1246.3,154.5L1247.8,155L1249.3,155.4L1250.8,155.6L1252.3,155.8L1253.8,155.9L1255.3,156.1L1256.8,156.2L1258.3,156.2L1259.8,156.3L1261.3,156.3L1262.8,156.3L1264.3,156.1L1265.8,155.9L1267.3,155.7L1268.8,155.4L1270.3,155.1L1271.8,154.9L1273.3,154.8L1274.8,154.9L1276.3,155.6L1277.8,156.6L1279.3,157.4L1280.8,157.6L1282.3,157.5L1283.8,157.4L1285.3,157.3L1286.8,157.1L1288.3,156.9L1289.8,156.7L1291.3,156.5L1292.8,156.2L1294.3,155.8L1295.8,155.5L1297.3,155L1298.8,154.8L1299.2,154.8L1299.5,140L1320,140L1320,500L50,500Z"/>
<path fill="#e65d2f" d="M50,111L68.3,111L68.8,125.3L70.3,125L71.8,124.7L73.3,124.6L74.8,124.7L76.3,125.1L77.8,125.8L79.3,126.6L80.8,127.5L82.3,128.3L83.8,129L85.3,129.5L86.8,129.6L88.3,129.4L89.8,129.1L91.3,128.6L92.8,128.1L94.3,127.7L95.8,127.3L97.3,127.1L98.8,127.2L100.3,127.7L101.8,128.5L103.3,129.4L104.8,130.2L106.3,130.9L107.8,131.1L109.3,130.9L110.8,130.2L112.3,129.3L113.8,128.3L115.3,127.4L116.8,126.8L118.3,126.6L119.8,126.9L121.3,127.4L122.8,128.1L124.3,128.6L125.8,129L127.3,129.1L128.8,128.9L130.3,128.5L131.8,128.2L133.3,127.9L134.8,127.9L136.3,128.8L137.8,130.2L139.3,131.6L140.8,132.4L142.3,132.2L143.8,131.5L145.3,130.6L146.8,129.9L148.3,129.6L149.8,129.8L151.3,130.2L152.8,130.8L154.3,131.3L155.8,131.9L157.3,132.3L158.8,132.4L160.3,131.9L161.8,130.8L163.3,129.4L164.8,128.1L166.3,127.2L167.8,127.2L169.3,127.9L170.8,129L172.3,129.9L173.8,130.4L175.3,130.1L176.8,129.5L178.3,129.1L179.8,129.3L181.3,129.8L182.8,130.5L184.3,131.1L185.8,131.6L187.3,131.9L188.8,132.2L190.3,132.4L191.8,132.6L193.3,132.8L194.8,132.9L196.3,132.9L197.8,132.8L199.3,132.7L200.8,132.6L202.3,132.5L203.8,132.4L205.3,132.7L206.8,133.8L208.3,135.2L209.8,136.7L211.3,137.7L212.8,137.9L214.3,137.8L215.8,137.5L217.3,137.1L218.8,136.6L220.3,136.2L221.8,135.7L223.3,135.1L224.8,134.4L226.3,133.6L227.8,133L229.3,132.4L230.8,132.2L232.3,132.1L233.8,132.1L235.3,132.1L236.8,132.1L238.3,132.1L239.8,132.1L241.3,132.1L242.8,132.2L244.3,132.4L245.8,132.8L247.3,133.1L248.8,133.5L250.3,133.9L251.8,134.2L253.3,134.6L254.8,135L256.3,135.4L257.8,135.7L259.3,136L260.8,136.2L262.3,136.1L263.8,135.8L265.3,135.3L266.8,134.9L268.3,134.7L269.8,134.9L271.3,135.7L272.8,136.9L274.3,138.2L275.8,139.3L277.3,140.2L278.8,140.4L280.3,140L281.8,138.9L283.3,137.7L284.8,136.6L286.3,136L287.8,136L289.3,136.1L290.8,136.4L292.3,136.7L293.8,136.9L295.3,137.1L296.8,137.2L298.3,137.1L299.8,137L301.3,136.9L302.8,136.7L304.3,136.7L305.8,136.9L307.3,137.5L308.8,138.1L310.3,138.4L311.8,138.3L313.3,138L314.8,137.5L316.3,137.2L317.8,137.2L319.3,137.3L320.8,137.5L322.3,137.7L323.8,137.9L325.3,138.2L326.8,138.4L328.3,138.7L329.8,139L331.3,139.3L332.8,139.7L334.3,140L335.8,140.3L337.3,140.5L338.8,140.6L340.3,140.7L341.8,140.8L343.3,140.9L344.8,141L346.3,141.1L347.8,141.2L349.3,141.2L350.8,141.2L352.3,141L353.8,140.5L355.3,139.9L356.8,139.2L358.3,138.8L359.8,138.7L361.3,139.2L362.8,140.1L364.3,141.1L365.8,142.1L367.3,143L368.8,143.4L370.3,143.3L371.8,142.7L373.3,141.7L374.8,140.6L376.3,139.4L377.8,138.5L379.3,138L380.8,138L382.3,138.4L383.8,139.1L385.3,139.9L386.8,140.8L388.3,141.7L389.8,142.4L391.3,142.8L392.8,143L394.3,142.8L395.8,142.6L397.3,142.2L398.8,141.7L400.3,141.2L401.8,140.7L403.3,140.2L404.8,139.8L406.3,139.4L407.8,139.2L409.3,139.2L410.8,139.6L412.3,140.4L413.8,141.3L415.3,142.2L416.8,143L418.3,143.4L419.8,143.4L421.3,142.8L422.8,141.9L424.3,140.8L425.8,139.6L427.3,138.6L428.8,137.8L430.3,137.4L431.8,137.8L433.3,139.1L434.8,141.1L436.3,143.4L437.8,145.4L439.3,147L440.8,147.5L442.3,147.2L443.8,146.4L445.3,145.4L446.8,144.3L448.3,143.5L449.8,143L451.3,143L452.8,143L454.3,143.2L455.8,143.3L457.3,143.5L458.8,143.7L460.3,144L461.8,144.3L463.3,144.8L464.8,145.7L466.3,146.6L467.8,147.3L469.3,147.5L470.8,147.5L472.3,147.5L473.8,147.5L475.3,147.5L476.8,147.5L478.3,147.5L479.8,147.5L481.3,147.5L482.8,147.5L484.3,147.6L485.8,147.8L487.3,148.1L488.8,148.4L490.3,148.7L491.8,149L493.3,149.2L494.8,149.3L496.3,149L497.8,148.5L499.3,147.9L500.8,147.3L502.3,146.7L503.8,146.3L505.3,146.2L506.8,146.1L508.3,146L509.8,146L511.3,146L512.8,146.6L514.3,147.5L515.8,148.6L517.3,149.4L518.8,149.8L520.3,149.5L521.8,148.8L523.3,147.8L524.8,146.9L526.3,146.2L527.8,146L529.3,146.2L530.8,146.7L532.3,147.4L533.8,148.1L535.3,148.9L536.8,149.6L538.3,150.2L539.8,150.5L541.3,150.4L542.8,149.8L544.3,148.8L545.8,147.8L547.3,147L548.8,146.8L550.3,147.1L551.8,147.9L553.3,148.8L554.8,149.8L556.3,150.7L557.8,151.2L559.3,151.3L560.8,151.2L562.3,151.2L563.8,151.1L565.3,150.9L566.8,150.8L568.3,150.6L569.8,150.3L571.3,149.7L572.8,149L574.3,148.6L575.8,148.6L577.3,148.8L578.8,149.1L580.3,149.5L581.8,149.8L583.3,150L584.8,150L586.3,150L587.8,150L589.3,150L590.8,150L592.3,149.9L593.8,149.6L595.3,149L596.8,148.3L598.3,147.8L599.8,147.5L601.3,147.6L602.8,147.8L604.3,148.2L605.8,148.8L607.3,150.1L608.8,151.8L610.3,153.1L611.8,153.5L613.3,153.2L614.8,152.7L616.3,152.6L617.8,152.8L619.3,153.4L620.8,153.9L622.3,154.3L623.8,154.2L625.3,153.7L626.8,152.9L628.3,152.1L629.8,151.4L631.3,151L632.8,151L634.3,151.1L635.8,151.1L637.3,151.2L638.8,151.2L640.3,151.3L641.8,151.3L643.3,151.2L644.8,151.1L646.3,150.9L647.8,150.7L649.3,150.6L650.8,150.5L652.3,150.7L653.8,150.9L655.3,151.3L656.8,151.7L658.3,152.2L659.8,152.7L661.3,153.1L662.8,153.4L664.3,153.5L665.8,153.5L667.3,152.9L668.8,152.2L670.3,151.4L671.8,150.8L673.3,150.5L674.8,150.8L676.3,151.2L677.8,151.6L679.3,151.8L680.8,151.3L682.3,150.4L683.8,149.6L685.3,149.3L686.8,149.4L688.3,149.6L689.8,149.9L691.3,150.2L692.8,150.6L694.3,150.9L695.8,151.1L697.3,151.3L698.8,151.4L700.3,151.4L701.8,151.5L703.3,151.5L704.8,151.6L706.3,151.7L707.8,151.7L709.3,151.9L710.8,152.2L712.3,152.5L713.8,152.8L715.3,153L716.8,153L718.3,153L719.8,153L721.3,153L722.8,153.1L724.3,153.2L725.8,153.6L727.3,154.1L728.8,154.6L730.3,155.1L731.8,155.6L733.3,155.9L734.8,156.1L736.3,156L737.8,156L739.3,155.9L740.8,155.8L742.3,155.7L743.8,155.6L745.3,155.6L746.8,155.7L748.3,155.8L749.8,156.1L751.3,156.4L752.8,156.7L754.3,157L755.8,157.3L757.3,157.5L758.8,157.6L760.3,157.8L761.8,158L763.3,158.1L764.8,158.3L766.3,158.4L767.8,158.6L769.3,158.7L770.8,158.9L772.3,159L773.8,159.2L775.3,159.3L776.8,159.7L778.3,160.2L779.8,160.8L781.3,161.3L782.8,161.8L784.3,162L785.8,162.1L787.3,162L788.8,161.9L790.3,161.7L791.8,161.5L793.3,161.4L794.8,161.2L796.3,161.1L797.8,161.1L799.3,161.1L800.8,161.2L802.3,161.4L803.8,161.6L805.3,161.8L806.8,162L808.3,162.3L809.8,162.5L811.3,162.8L812.8,163.1L814.3,163.6L815.8,164L817.3,164.4L818.8,164.8L820.3,165L821.8,165.1L823.3,165L824.8,164.6L826.3,164.1L827.8,163.6L829.3,163L830.8,162.5L832.3,162.2L833.8,162L835.3,161.9L836.8,161.7L838.3,161.6L839.8,161.5L841.3,161.4L842.8,161.4L844.3,161.3L845.8,161.3L847.3,161.6L848.8,162.3L850.3,163.2L851.8,164.2L853.3,165.1L854.8,165.9L856.3,166.3L857.8,166.3L859.3,166.2L860.8,165.9L862.3,165.5L863.8,165.1L865.3,164.7L866.8,164.4L868.3,164.1L869.8,163.9L871.3,163.9L872.8,164.3L874.3,164.9L875.8,165.4L877.3,165.6L878.8,165.4L880.3,165.1L881.8,164.8L883.3,164.6L884.8,164.9L886.3,165.6L887.8,166.7L889.3,168L890.8,169.3L892.3,170.6L893.8,171.5L895.3,172.1L896.8,172L898.3,171L899.8,169.4L901.3,167.6L902.8,166.1L904.3,165.2L905.8,165.3L907.3,165.9L908.8,166.9L910.3,168L911.8,168.9L913.3,169.4L914.8,169.4L916.3,169.3L917.8,169.3L919.3,169.2L920.8,169.1L922.3,169L923.8,168.9L925.3,168.7L926.8,168.5L928.3,168.2L929.8,167.9L931.3,167.7L932.8,167.4L934.3,167.2L935.8,167.1L937.3,167.3L938.8,168L940.3,169.2L941.8,170.4L943.3,171.4L944.8,171.9L946.3,171.9L947.8,171.6L949.3,171.3L950.8,170.9L952.3,170.5L953.8,170.2L955.3,169.9L956.8,169.6L958.3,169.3L959.8,169L961.3,168.7L962.8,168.4L964.3,168.2L965.8,167.9L967.3,167.8L968.8,167.7L970.3,167.6L971.8,167.8L973.3,168.3L974.8,168.9L976.3,169.6L977.8,170.2L979.3,170.6L980.8,170.6L982.3,170.5L983.8,170.3L985.3,170L986.8,169.6L988.3,169.3L989.8,169L991.3,168.9L992.8,168.9L994.3,169.1L995.8,169.5L997.3,169.9L998.8,170.5L1000.3,171L1001.8,171.6L1003.3,172.1L1004.8,172.6L1006.3,172.9L1007.8,173.1L1009.3,173.3L1010.8,173.4L1012.3,173.4L1013.8,173.5L1015.3,173.6L1016.8,173.6L1018.3,173.7L1019.8,173.7L1021.3,173.8L1022.8,173.8L1024.3,173.9L1025.8,174L1027.3,174.1L1028.8,174.3L1030.3,174.4L1031.8,174.5L1033.3,174.7L1034.8,174.8L1036.3,174.9L1037.8,175L1039.3,175.1L1040.8,175.2L1042.3,175.2L1043.8,175.2L1045.3,175.1L1046.8,175.1L1048.3,175L1049.8,174.9L1051.3,174.8L1052.8,174.7L1054.3,174.6L1055.8,174.5L1057.3,174.4L1058.8,174.3L1060.3,174.2L1061.8,174.1L1063.3,174L1064.8,174L1066.3,173.9L1067.8,173.9L1069.3,174.2L1070.8,174.8L1072.3,175.5L1073.8,176.1L1075.3,176.5L1076.8,176.7L1078.3,176.8L1079.8,177L1081.3,177.1L1082.8,177.2L1084.3,177.2L1085.8,177.2L1087.3,177.2L1088.8,177.2L1090.3,177.2L1091.8,177.2L1093.3,177.2L1094.8,177.2L1096.3,177.2L1097.8,177.2L1099.3,177.3L1100.8,177.5L1102.3,177.7L1103.8,178.1L1105.3,178.4L1106.8,178.8L1108.3,179.2L1109.8,179.6L1111.3,179.9L1112.8,180.3L1114.3,180.8L1115.8,181.2L1117.3,181.7L1118.8,182.1L1120.3,182.4L1121.8,182.6L1123.3,182.7L1124.8,182.7L1126.3,182.6L1127.8,182.4L1129.3,182.3L1130.8,182.3L1132.3,182.4L1133.8,182.6L1135.3,182.8L1136.8,183L1138.3,183L1139.8,183L1141.3,183L1142.8,183L1144.3,183L1145.8,183L1147.3,182.5L1148.8,181.9L1150.3,181.5L1151.8,181.5L1153.3,181.5L1154.8,181.5L1156.3,181.5L1157.8,181.6L1159.3,181.6L1160.8,181.7L1162.3,181.7L1163.8,182L1165.3,182.4L1166.8,182.7L1168.3,182.7L1169.8,182.7L1171.3,182.7L1172.8,182.6L1174.3,182.5L1175.8,182.5L1177.3,182.4L1178.8,182.3L1180.3,182.2L1181.8,182.1L1183.3,182L1184.8,182L1186.3,182.3L1187.8,182.7L1189.3,183.1L1190.8,183.8L1192.3,184.6L1193.8,185.3L1195.3,185.5L1196.8,185.2L1198.3,184.7L1199.8,184.1L1201.3,183.6L1202.8,183.5L1204.3,183.6L1205.8,183.8L1207.3,184.1L1208.8,184.3L1210.3,184.5L1211.8,184.5L1213.3,184.6L1214.8,184.6L1216.3,184.6L1217.8,184.7L1219.3,184.7L1220.8,184.7L1222.3,184.9L1223.8,185.5L1225.3,186.2L1226.8,186.9L1228.3,187.5L1229.8,187.8L1231.3,187.7L1232.8,187.6L1234.3,187.4L1235.8,187.1L1237.3,186.9L1238.8,186.7L1240.3,186.6L1241.8,186.5L1243.3,186.6L1244.8,186.6L1246.3,186.7L1247.8,186.8L1249.3,186.9L1250.8,187L1252.3,187.1L1253.8,187.2L1255.3,187.3L1256.8,187.4L1258.3,187.5L1259.8,187.6L1261.3,187.8L1262.8,188L1264.3,188.4L1265.8,188.8L1267.3,189L1268.8,188.9L1270.3,188.4L1271.8,187.8L1273.3,187.4L1274.8,187.4L1276.3,187.9L1277.8,188.7L1279.3,189.4L1280.8,189.5L1282.3,189.5L1283.8,189.5L1285.3,189.4L1286.8,189.3L1288.3,189.1L1289.8,189L1291.3,188.8L1292.8,188.5L1294.3,188.1L1295.8,187.7L1297.3,187.3L1298.8,187L1299.2,187L1299.5,173.1L1320,173.1L1320,500L50,500Z"/>
<path fill="#dd513a" d="M50,143.3L68.3,143.3L68.8,157.6L70.3,157.3L71.8,157.1L73.3,157.1L74.8,157.1L76.3,157.5L77.8,158.1L79.3,158.8L80.8,159.5L82.3,160.2L83.8,160.8L85.3,161.2L86.8,161.3L88.3,161.2L89.8,161L91.3,160.6L92.8,160.3L94.3,160L95.8,159.7L97.3,159.6L98.8,159.7L100.3,160.1L101.8,160.8L103.3,161.6L104.8,162.3L106.3,162.9L107.8,163.1L109.3,162.9L110.8,162.3L112.3,161.5L113.8,160.7L115.3,160L116.8,159.6L118.3,159.6L119.8,159.9L121.3,160.4L122.8,161L124.3,161.5L125.8,161.8L127.3,161.8L128.8,161.6L130.3,161.3L131.8,160.9L133.3,160.6L134.8,160.6L136.3,161.4L137.8,162.7L139.3,163.9L140.8,164.6L142.3,164.4L143.8,163.5L145.3,162.5L146.8,161.7L148.3,161.3L149.8,161.5L151.3,162L152.8,162.7L154.3,163.3L155.8,163.9L157.3,164.3L158.8,164.3L160.3,163.8L161.8,163L163.3,162.1L164.8,161.2L166.3,160.7L167.8,160.6L169.3,161.1L170.8,161.8L172.3,162.5L173.8,163L175.3,163L176.8,162.7L178.3,162.3L179.8,162.1L181.3,162.3L182.8,162.7L184.3,163.3L185.8,163.8L187.3,164.2L188.8,164.4L190.3,164.4L191.8,164.5L193.3,164.5L194.8,164.5L196.3,164.6L197.8,164.6L199.3,164.9L200.8,165.2L202.3,165.6L203.8,166.1L205.3,166.5L206.8,167.2L208.3,167.9L209.8,168.7L211.3,169.3L212.8,169.6L214.3,169.6L215.8,169.4L217.3,169.1L218.8,168.7L220.3,168.3L221.8,168L223.3,167.6L224.8,167.2L226.3,166.8L227.8,166.3L229.3,165.9L230.8,165.4L232.3,165L233.8,164.7L235.3,164.5L236.8,164.4L238.3,164.4L239.8,164.4L241.3,164.6L242.8,164.8L244.3,165L245.8,165.3L247.3,165.6L248.8,165.8L250.3,166.2L251.8,166.6L253.3,167L254.8,167.5L256.3,168L257.8,168.4L259.3,168.7L260.8,168.9L262.3,168.8L263.8,168.5L265.3,168L266.8,167.5L268.3,167.2L269.8,167.2L271.3,167.8L272.8,168.7L274.3,169.8L275.8,170.9L277.3,171.7L278.8,172.1L280.3,171.9L281.8,171L283.3,169.8L284.8,168.8L286.3,168.2L287.8,168.2L289.3,168.2L290.8,168.3L292.3,168.5L293.8,168.6L295.3,168.8L296.8,169L298.3,169.2L299.8,169.4L301.3,169.6L302.8,169.7L304.3,169.9L305.8,170.1L307.3,170.2L308.8,170.4L310.3,170.5L311.8,170.6L313.3,170.8L314.8,170.9L316.3,171.1L317.8,171.2L319.3,171.3L320.8,171.4L322.3,171.4L323.8,171.3L325.3,171L326.8,170.7L328.3,170.4L329.8,170.2L331.3,170.2L332.8,170.9L334.3,172.1L335.8,173.1L337.3,173.4L338.8,173.4L340.3,173.4L341.8,173.4L343.3,173.4L344.8,173.4L346.3,173.4L347.8,173.4L349.3,173.4L350.8,173.4L352.3,173.2L353.8,173L355.3,172.7L356.8,172.4L358.3,172.2L359.8,172.2L361.3,172.5L362.8,173.1L364.3,174L365.8,174.9L367.3,175.5L368.8,175.7L370.3,175.4L371.8,174.7L373.3,173.7L374.8,172.8L376.3,171.9L377.8,171.2L379.3,170.9L380.8,171L382.3,171.4L383.8,172L385.3,172.8L386.8,173.5L388.3,174.3L389.8,175L391.3,175.6L392.8,175.9L394.3,175.9L395.8,175.7L397.3,175.2L398.8,174.6L400.3,173.9L401.8,173.3L403.3,172.9L404.8,172.7L406.3,172.7L407.8,173L409.3,173.3L410.8,173.8L412.3,174.3L413.8,174.8L415.3,175.2L416.8,175.5L418.3,175.7L419.8,175.6L421.3,175.2L422.8,174.5L424.3,173.7L425.8,172.8L427.3,172.1L428.8,171.6L430.3,171.4L431.8,172L433.3,173.2L434.8,174.8L436.3,176.4L437.8,177.9L439.3,178.8L440.8,178.9L442.3,178.6L443.8,178L445.3,177.3L446.8,176.6L448.3,176L449.8,175.7L451.3,175.7L452.8,175.7L454.3,175.8L455.8,175.9L457.3,176L458.8,176.1L460.3,176.3L461.8,176.5L463.3,176.8L464.8,177.5L466.3,178.2L467.8,178.8L469.3,179.3L470.8,179.5L472.3,179.5L473.8,179.6L475.3,179.6L476.8,179.6L478.3,179.6L479.8,179.7L481.3,179.7L482.8,179.7L484.3,179.8L485.8,179.8L487.3,179.9L488.8,180L490.3,180.1L491.8,180.1L493.3,180.2L494.8,180.2L496.3,180.2L497.8,180.1L499.3,179.9L500.8,179.7L502.3,179.4L503.8,179.1L505.3,178.9L506.8,178.6L508.3,178.5L509.8,178.5L511.3,178.6L512.8,178.9L514.3,179.2L515.8,179.5L517.3,179.7L518.8,179.7L520.3,179.6L521.8,179.4L523.3,179.1L524.8,178.8L526.3,178.6L527.8,178.5L529.3,178.5L530.8,178.8L532.3,179.2L533.8,179.7L535.3,180.2L536.8,180.6L538.3,180.7L539.8,180.7L541.3,180.6L542.8,180.5L544.3,180.4L545.8,180.3L547.3,180.2L548.8,180.2L550.3,180.6L551.8,181.2L553.3,182.1L554.8,182.8L556.3,183.4L557.8,183.5L559.3,183.4L560.8,183.3L562.3,183.1L563.8,182.8L565.3,182.6L566.8,182.3L568.3,182.1L569.8,181.7L571.3,181.4L572.8,181L574.3,180.6L575.8,180.3L577.3,180.2L578.8,180.3L580.3,180.5L581.8,180.8L583.3,181.1L584.8,181.5L586.3,181.8L587.8,181.9L589.3,182L590.8,181.9L592.3,181.7L593.8,181.5L595.3,181.3L596.8,181.1L598.3,181L599.8,181L601.3,181.2L602.8,181.4L604.3,181.8L605.8,182.2L607.3,183.2L608.8,184.4L610.3,185.4L611.8,185.8L613.3,185.9L614.8,185.9L616.3,186L617.8,186L619.3,186L620.8,186L622.3,185.7L623.8,185.2L625.3,184.5L626.8,183.9L628.3,183.6L629.8,183.5L631.3,183.5L632.8,183.5L634.3,183.5L635.8,183.5L637.3,183.5L638.8,183.5L640.3,183.4L641.8,183.2L643.3,182.9L644.8,182.7L646.3,182.5L647.8,182.3L649.3,182.2L650.8,182.4L652.3,182.7L653.8,183.2L655.3,183.6L656.8,183.9L658.3,184L659.8,183.5L661.3,182.8L662.8,182.9L664.3,183.7L665.8,184.5L667.3,184.7L668.8,184.5L670.3,184L671.8,183.5L673.3,183.2L674.8,183.1L676.3,183.1L677.8,183L679.3,182.9L680.8,182.9L682.3,182.8L683.8,182.8L685.3,182.8L686.8,182.7L688.3,182.8L689.8,182.8L691.3,182.9L692.8,183L694.3,183.1L695.8,183.2L697.3,183.3L698.8,183.4L700.3,183.6L701.8,183.7L703.3,183.9L704.8,184.1L706.3,184.3L707.8,184.6L709.3,184.8L710.8,185L712.3,185.3L713.8,185.5L715.3,185.7L716.8,186L718.3,186.2L719.8,186.4L721.3,186.7L722.8,186.9L724.3,187.2L725.8,187.5L727.3,187.8L728.8,188.1L730.3,188.5L731.8,188.7L733.3,189L734.8,189L736.3,189L737.8,188.9L739.3,188.8L740.8,188.6L742.3,188.4L743.8,188.3L745.3,188.1L746.8,187.9L748.3,187.8L749.8,187.8L751.3,187.9L752.8,188.1L754.3,188.5L755.8,188.9L757.3,189.3L758.8,189.6L760.3,189.8L761.8,189.9L763.3,190L764.8,190.1L766.3,190.2L767.8,190.3L769.3,190.6L770.8,190.9L772.3,191.3L773.8,191.7L775.3,192.1L776.8,192.6L778.3,193.1L779.8,193.7L781.3,194.3L782.8,194.7L784.3,195.1L785.8,195.3L787.3,195.3L788.8,195.1L790.3,194.7L791.8,194.2L793.3,193.7L794.8,193.3L796.3,192.9L797.8,192.8L799.3,192.9L800.8,193.1L802.3,193.5L803.8,193.8L805.3,194.2L806.8,194.6L808.3,194.9L809.8,195.2L811.3,195.6L812.8,196L814.3,196.3L815.8,196.6L817.3,196.9L818.8,197.2L820.3,197.3L821.8,197.4L823.3,197.3L824.8,197L826.3,196.7L827.8,196.4L829.3,196L830.8,195.7L832.3,195.4L833.8,195.3L835.3,195.1L836.8,195L838.3,194.9L839.8,194.8L841.3,194.7L842.8,194.6L844.3,194.6L845.8,194.6L847.3,194.8L848.8,195.4L850.3,196.3L851.8,197.1L853.3,198L854.8,198.7L856.3,199.1L857.8,199.1L859.3,199.1L860.8,199.1L862.3,199.1L863.8,199.1L865.3,199L866.8,198.6L868.3,197.9L869.8,197.2L871.3,196.7L872.8,196.7L874.3,197L875.8,197.6L877.3,197.9L878.8,198L880.3,198.1L881.8,198.2L883.3,198.3L884.8,198.7L886.3,199.4L887.8,200.4L889.3,201.5L890.8,202.6L892.3,203.6L893.8,204.4L895.3,204.9L896.8,204.8L898.3,203.9L899.8,202.4L901.3,200.8L902.8,199.5L904.3,198.7L905.8,198.8L907.3,199.4L908.8,200.4L910.3,201.5L911.8,202.4L913.3,202.9L914.8,202.9L916.3,202.7L917.8,202.5L919.3,202.3L920.8,202.1L922.3,201.8L923.8,201.6L925.3,201.4L926.8,201.3L928.3,201.1L929.8,200.9L931.3,200.7L932.8,200.5L934.3,200.4L935.8,200.4L937.3,200.5L938.8,201.1L940.3,202L941.8,202.9L943.3,203.7L944.8,204.1L946.3,204.1L947.8,204L949.3,203.8L950.8,203.5L952.3,203.2L953.8,202.9L955.3,202.6L956.8,202.3L958.3,202L959.8,201.7L961.3,201.3L962.8,200.9L964.3,200.5L965.8,200.1L967.3,199.9L968.8,199.7L970.3,199.6L971.8,199.7L973.3,200.1L974.8,200.5L976.3,201L977.8,201.5L979.3,201.9L980.8,202.1L982.3,202.1L983.8,202L985.3,201.8L986.8,201.6L988.3,201.4L989.8,201.2L991.3,201.1L992.8,201.2L994.3,201.3L995.8,201.5L997.3,201.8L998.8,202.2L1000.3,202.6L1001.8,203L1003.3,203.4L1004.8,203.8L1006.3,204.2L1007.8,204.5L1009.3,204.7L1010.8,204.9L1012.3,204.9L1013.8,204.8L1015.3,204.6L1016.8,204.3L1018.3,204L1019.8,203.8L1021.3,203.7L1022.8,203.7L1024.3,203.7L1025.8,203.9L1027.3,204.1L1028.8,204.4L1030.3,204.7L1031.8,205L1033.3,205.3L1034.8,205.7L1036.3,206L1037.8,206.3L1039.3,206.6L1040.8,206.8L1042.3,207L1043.8,207.1L1045.3,207.2L1046.8,207.2L1048.3,207.3L1049.8,207.3L1051.3,207.4L1052.8,207.4L1054.3,207.4L1055.8,207.4L1057.3,207.4L1058.8,207.3L1060.3,207L1061.8,206.6L1063.3,206.2L1064.8,205.8L1066.3,205.5L1067.8,205.4L1069.3,205.9L1070.8,206.8L1072.3,207.9L1073.8,208.8L1075.3,209.2L1076.8,209.4L1078.3,209.5L1079.8,209.6L1081.3,209.7L1082.8,209.8L1084.3,209.9L1085.8,209.9L1087.3,209.9L1088.8,209.9L1090.3,209.7L1091.8,209.4L1093.3,209.1L1094.8,208.8L1096.3,208.5L1097.8,208.4L1099.3,208.5L1100.8,208.7L1102.3,209L1103.8,209.4L1105.3,209.8L1106.8,210.2L1108.3,210.7L1109.8,211.1L1111.3,211.4L1112.8,211.8L1114.3,212.2L1115.8,212.5L1117.3,212.9L1118.8,213.3L1120.3,213.7L1121.8,214L1123.3,214.3L1124.8,214.6L1126.3,215L1127.8,215.3L1129.3,215.6L1130.8,215.8L1132.3,216L1133.8,216L1135.3,215.9L1136.8,215.9L1138.3,215.7L1139.8,215.6L1141.3,215.4L1142.8,215.3L1144.3,215.1L1145.8,215L1147.3,214.8L1148.8,214.6L1150.3,214.3L1151.8,214L1153.3,213.8L1154.8,213.5L1156.3,213.3L1157.8,213.1L1159.3,213L1160.8,213L1162.3,213L1163.8,213.2L1165.3,213.5L1166.8,213.7L1168.3,214L1169.8,214.3L1171.3,214.6L1172.8,214.7L1174.3,214.8L1175.8,214.8L1177.3,214.8L1178.8,214.8L1180.3,214.9L1181.8,214.9L1183.3,214.9L1184.8,214.9L1186.3,215L1187.8,215.3L1189.3,215.7L1190.8,216.2L1192.3,216.8L1193.8,217.2L1195.3,217.5L1196.8,217.5L1198.3,217.3L1199.8,217L1201.3,216.6L1202.8,216.3L1204.3,216.2L1205.8,216L1207.3,215.9L1208.8,215.7L1210.3,215.6L1211.8,215.5L1213.3,215.5L1214.8,215.5L1216.3,215.7L1217.8,216L1219.3,216.3L1220.8,216.7L1222.3,217L1223.8,217.6L1225.3,218.2L1226.8,218.9L1228.3,219.5L1229.8,219.9L1231.3,220L1232.8,220L1234.3,219.8L1235.8,219.6L1237.3,219.4L1238.8,219.1L1240.3,218.9L1241.8,218.7L1243.3,218.6L1244.8,218.4L1246.3,218.3L1247.8,218.2L1249.3,218.1L1250.8,218L1252.3,218L1253.8,218L1255.3,218L1256.8,218L1258.3,218L1259.8,218.1L1261.3,218.6L1262.8,219.3L1264.3,220L1265.8,220.5L1267.3,220.5L1268.8,220.1L1270.3,219.5L1271.8,219L1273.3,218.6L1274.8,218.5L1276.3,218.8L1277.8,219.2L1279.3,219.7L1280.8,220L1282.3,220L1283.8,220L1285.3,220L1286.8,220L1288.3,220L1289.8,220L1291.3,219.8L1292.8,219.5L1294.3,219L1295.8,218.5L1297.3,217.8L1298.8,217.5L1299.2,217.5L1299.5,203.6L1320,203.6L1320,500L50,500Z"/>
<path fill="#d34743" d="M50,174.7L68.3,174.7L68.8,189L70.3,188.7L71.8,188.4L73.3,188.3L74.8,188.4L76.3,188.7L77.8,189.2L79.3,189.8L80.8,190.5L82.3,191L83.8,191.4L85.3,191.6L86.8,191.5L88.3,191.4L89.8,191.3L91.3,191.2L92.8,191.1L94.3,190.9L95.8,190.9L97.3,190.8L98.8,190.9L100.3,191.3L101.8,192L103.3,192.7L104.8,193.4L106.3,193.9L107.8,194.1L109.3,193.9L110.8,193.4L112.3,192.7L113.8,192L115.3,191.4L116.8,190.9L118.3,190.8L119.8,191.1L121.3,191.6L122.8,192.3L124.3,192.8L125.8,193.2L127.3,193.3L128.8,193.3L130.3,193.3L131.8,193.3L133.3,193.3L134.8,193.4L136.3,193.9L137.8,194.8L139.3,195.6L140.8,196.1L142.3,195.9L143.8,195.3L145.3,194.4L146.8,193.6L148.3,193L149.8,192.8L151.3,193L152.8,193.4L154.3,193.8L155.8,194.3L157.3,194.8L158.8,195.1L160.3,195.3L161.8,195.3L163.3,195L164.8,194.6L166.3,194.3L167.8,194.1L169.3,194.2L170.8,194.5L172.3,195L173.8,195.3L175.3,195.3L176.8,194.8L178.3,194.2L179.8,193.7L181.3,193.6L182.8,193.9L184.3,194.3L185.8,194.8L187.3,195.2L188.8,195.3L190.3,195.3L191.8,195.3L193.3,195.3L194.8,195.3L196.3,195.3L197.8,195.4L199.3,195.6L200.8,196L202.3,196.5L203.8,197.2L205.3,197.9L206.8,198.6L208.3,199.3L209.8,199.8L211.3,200.2L212.8,200.4L214.3,200.3L215.8,200.2L217.3,200L218.8,199.7L220.3,199.4L221.8,199L223.3,198.7L224.8,198.4L226.3,198L227.8,197.5L229.3,197L230.8,196.5L232.3,196L233.8,195.6L235.3,195.2L236.8,195L238.3,194.8L239.8,194.9L241.3,195L242.8,195.2L244.3,195.5L245.8,195.8L247.3,196.1L248.8,196.5L250.3,196.8L251.8,197.2L253.3,197.6L254.8,198.2L256.3,198.7L257.8,199.2L259.3,199.6L260.8,199.8L262.3,199.8L263.8,199.5L265.3,199.1L266.8,198.7L268.3,198.4L269.8,198.4L271.3,198.8L272.8,199.5L274.3,200.3L275.8,201.2L277.3,201.9L278.8,202.3L280.3,202.3L281.8,201.8L283.3,201.1L284.8,200.2L286.3,199.5L287.8,199.1L289.3,199.1L290.8,199.2L292.3,199.4L293.8,199.6L295.3,199.8L296.8,200.1L298.3,200.3L299.8,200.6L301.3,200.8L302.8,201L304.3,201.3L305.8,201.6L307.3,201.9L308.8,202.3L310.3,202.5L311.8,202.7L313.3,202.9L314.8,202.9L316.3,202.9L317.8,202.9L319.3,202.9L320.8,202.9L322.3,202.9L323.8,202.9L325.3,202.8L326.8,202.4L328.3,201.7L329.8,201.2L331.3,201.2L332.8,202.2L334.3,203.6L335.8,204.7L337.3,204.9L338.8,204.8L340.3,204.7L341.8,204.5L343.3,204.3L344.8,204L346.3,203.9L347.8,203.7L349.3,203.7L350.8,203.7L352.3,203.7L353.8,203.8L355.3,203.8L356.8,203.9L358.3,204L359.8,204.2L361.3,204.4L362.8,204.8L364.3,205.3L365.8,205.7L367.3,205.9L368.8,205.8L370.3,205.4L371.8,204.7L373.3,203.9L374.8,203.2L376.3,202.6L377.8,202.4L379.3,202.5L380.8,202.8L382.3,203.3L383.8,203.9L385.3,204.6L386.8,205.2L388.3,205.9L389.8,206.4L391.3,206.9L392.8,207.1L394.3,207.1L395.8,206.7L397.3,205.8L398.8,204.9L400.3,204L401.8,203.5L403.3,203.4L404.8,203.6L406.3,203.8L407.8,204.2L409.3,204.6L410.8,205.1L412.3,205.5L413.8,205.9L415.3,206.3L416.8,206.5L418.3,206.7L419.8,206.6L421.3,206.3L422.8,205.7L424.3,205.1L425.8,204.5L427.3,204L428.8,203.7L430.3,203.7L431.8,204.2L433.3,205.2L434.8,206.3L436.3,207.5L437.8,208.5L439.3,209.1L440.8,209.2L442.3,209L443.8,208.7L445.3,208.3L446.8,207.9L448.3,207.6L449.8,207.4L451.3,207.4L452.8,207.5L454.3,207.5L455.8,207.6L457.3,207.6L458.8,207.7L460.3,207.8L461.8,207.9L463.3,208.2L464.8,208.8L466.3,209.4L467.8,210L469.3,210.6L470.8,210.9L472.3,211L473.8,210.9L475.3,210.9L476.8,210.8L478.3,210.7L479.8,210.6L481.3,210.6L482.8,210.5L484.3,210.5L485.8,210.5L487.3,210.5L488.8,210.5L490.3,210.6L491.8,210.7L493.3,210.8L494.8,210.9L496.3,211L497.8,211L499.3,211.1L500.8,211.2L502.3,211.2L503.8,211.2L505.3,211.1L506.8,210.8L508.3,210.5L509.8,210.1L511.3,209.8L512.8,209.5L514.3,209.3L515.8,209.2L517.3,209.2L518.8,209.3L520.3,209.4L521.8,209.5L523.3,209.7L524.8,209.8L526.3,209.9L527.8,209.9L529.3,209.9L530.8,209.9L532.3,209.9L533.8,209.9L535.3,209.8L536.8,209.8L538.3,209.7L539.8,209.7L541.3,209.7L542.8,209.9L544.3,210.3L545.8,210.9L547.3,211.5L548.8,212.1L550.3,212.6L551.8,213.2L553.3,213.8L554.8,214.3L556.3,214.7L557.8,214.7L559.3,214.4L560.8,214L562.3,213.6L563.8,213.5L565.3,213.6L566.8,213.9L568.3,214.3L569.8,214.6L571.3,214.7L572.8,214.3L574.3,213.4L575.8,212.2L577.3,211.3L578.8,211L580.3,211.1L581.8,211.5L583.3,211.9L584.8,212.3L586.3,212.5L587.8,212.4L589.3,212.2L590.8,212L592.3,211.8L593.8,211.7L595.3,211.9L596.8,212.3L598.3,213L599.8,213.6L601.3,214.2L602.8,214.7L604.3,215.2L605.8,215.6L607.3,216.1L608.8,216.5L610.3,217L611.8,217.3L613.3,217.7L614.8,218.1L616.3,218.4L617.8,218.5L619.3,218.3L620.8,217.7L622.3,217L623.8,216.2L625.3,215.7L626.8,215.5L628.3,215.5L629.8,215.6L631.3,215.7L632.8,215.8L634.3,215.9L635.8,216L637.3,216L638.8,215.9L640.3,215.6L641.8,215.4L643.3,215L644.8,214.7L646.3,214.5L647.8,214.3L649.3,214.2L650.8,214.5L652.3,215.1L653.8,215.9L655.3,216.5L656.8,216.8L658.3,216.1L659.8,214.9L661.3,214.2L662.8,214.7L664.3,215.8L665.8,216.2L667.3,216.2L668.8,216.1L670.3,216L671.8,215.9L673.3,215.7L674.8,215.6L676.3,215.5L677.8,215.5L679.3,215.4L680.8,215.3L682.3,215.3L683.8,215.2L685.3,215.2L686.8,215.1L688.3,215.1L689.8,215L691.3,215L692.8,215L694.3,215L695.8,215L697.3,215.2L698.8,215.4L700.3,215.7L701.8,216.1L703.3,216.5L704.8,216.8L706.3,217.1L707.8,217.3L709.3,217.5L710.8,217.7L712.3,217.9L713.8,218L715.3,218.2L716.8,218.4L718.3,218.7L719.8,219.2L721.3,219.8L722.8,220.2L724.3,220.5L725.8,220.5L727.3,220.3L728.8,220.1L730.3,220.1L731.8,220.8L733.3,221.9L734.8,222.5L736.3,222.5L737.8,222.3L739.3,222L740.8,221.6L742.3,221.2L743.8,220.8L745.3,220.5L746.8,220L748.3,219.4L749.8,219L751.3,218.8L752.8,219L754.3,219.7L755.8,220.6L757.3,221.5L758.8,222.2L760.3,222.6L761.8,222.7L763.3,222.7L764.8,222.8L766.3,222.8L767.8,222.9L769.3,223L770.8,223.1L772.3,223.5L773.8,224L775.3,224.6L776.8,225.3L778.3,226L779.8,226.7L781.3,227.4L782.8,227.9L784.3,228.3L785.8,228.6L787.3,228.5L788.8,228.2L790.3,227.6L791.8,226.9L793.3,226.1L794.8,225.5L796.3,225L797.8,224.8L799.3,225.2L800.8,226.1L802.3,227.2L803.8,228.2L805.3,228.6L806.8,228.5L808.3,228.3L809.8,228.1L811.3,228.2L812.8,228.5L814.3,229.1L815.8,229.8L817.3,230.4L818.8,230.9L820.3,231.1L821.8,231.1L823.3,231.1L824.8,231L826.3,230.9L827.8,230.8L829.3,230.7L830.8,230.6L832.3,230.3L833.8,230L835.3,229.5L836.8,229L838.3,228.6L839.8,228.3L841.3,228.1L842.8,228.2L844.3,228.5L845.8,229.1L847.3,229.9L848.8,230.7L850.3,231.5L851.8,232.2L853.3,232.6L854.8,233L856.3,233.3L857.8,233.6L859.3,233.9L860.8,234.1L862.3,234.3L863.8,234.4L865.3,234.2L866.8,233.3L868.3,231.9L869.8,230.5L871.3,229.5L872.8,229.4L874.3,229.9L875.8,230.6L877.3,231.4L878.8,232L880.3,232.7L881.8,233.5L883.3,234.3L884.8,235.2L886.3,236.1L887.8,236.9L889.3,237.6L890.8,238.3L892.3,238.8L893.8,239.2L895.3,239.4L896.8,239.3L898.3,238.4L899.8,236.9L901.3,235.4L902.8,234L904.3,233.2L905.8,233.2L907.3,233.7L908.8,234.5L910.3,235.3L911.8,236L913.3,236.4L914.8,236.4L916.3,236.2L917.8,235.9L919.3,235.6L920.8,235.2L922.3,234.8L923.8,234.4L925.3,234L926.8,233.7L928.3,233.4L929.8,233.2L931.3,233.1L932.8,233.3L934.3,233.7L935.8,234.4L937.3,235.1L938.8,236L940.3,236.7L941.8,237.4L943.3,237.9L944.8,238.2L946.3,238.1L947.8,238L949.3,237.8L950.8,237.6L952.3,237.3L953.8,236.9L955.3,236.6L956.8,236.2L958.3,235.8L959.8,235.4L961.3,234.9L962.8,234.2L964.3,233.5L965.8,232.8L967.3,232.1L968.8,231.6L970.3,231.2L971.8,231.1L973.3,231.2L974.8,231.5L976.3,231.9L977.8,232.3L979.3,232.8L980.8,233.3L982.3,233.7L983.8,234.1L985.3,234.3L986.8,234.4L988.3,234.2L989.8,233.9L991.3,233.6L992.8,233.2L994.3,233.1L995.8,233.2L997.3,233.4L998.8,233.6L1000.3,233.9L1001.8,234.3L1003.3,234.7L1004.8,235.1L1006.3,235.6L1007.8,235.9L1009.3,236.3L1010.8,236.6L1012.3,236.8L1013.8,236.9L1015.3,236.8L1016.8,236.4L1018.3,235.9L1019.8,235.2L1021.3,234.7L1022.8,234.4L1024.3,234.4L1025.8,234.6L1027.3,234.9L1028.8,235.2L1030.3,235.7L1031.8,236.2L1033.3,236.7L1034.8,237.2L1036.3,237.7L1037.8,238.2L1039.3,238.6L1040.8,239L1042.3,239.3L1043.8,239.4L1045.3,239.4L1046.8,239.4L1048.3,239.4L1049.8,239.4L1051.3,239.4L1052.8,239.5L1054.3,240.1L1055.8,241L1057.3,241.7L1058.8,241.9L1060.3,241.5L1061.8,240.6L1063.3,239.5L1064.8,238.4L1066.3,237.6L1067.8,237.4L1069.3,238.2L1070.8,239.7L1072.3,241.4L1073.8,242.7L1075.3,243.2L1076.8,242.8L1078.3,241.9L1079.8,241.1L1081.3,240.7L1082.8,240.8L1084.3,241L1085.8,241.3L1087.3,241.6L1088.8,241.9L1090.3,241.9L1091.8,241.7L1093.3,241.1L1094.8,240.3L1096.3,239.6L1097.8,239.1L1099.3,238.9L1100.8,239L1102.3,239.3L1103.8,239.7L1105.3,240.2L1106.8,240.7L1108.3,241.3L1109.8,241.8L1111.3,242.2L1112.8,242.7L1114.3,243.2L1115.8,243.7L1117.3,244.2L1118.8,244.7L1120.3,245.3L1121.8,245.8L1123.3,246.3L1124.8,247L1126.3,247.7L1127.8,248.5L1129.3,249.1L1130.8,249.7L1132.3,250L1133.8,249.9L1135.3,249.4L1136.8,248.6L1138.3,247.8L1139.8,247.1L1141.3,246.9L1142.8,246.8L1144.3,246.8L1145.8,246.7L1147.3,246.6L1148.8,246.6L1150.3,246.5L1151.8,246.4L1153.3,246.1L1154.8,245.8L1156.3,245.5L1157.8,245.2L1159.3,245L1160.8,245L1162.3,245L1163.8,245.2L1165.3,245.4L1166.8,245.7L1168.3,246L1169.8,246.3L1171.3,246.5L1172.8,246.8L1174.3,247.1L1175.8,247.3L1177.3,247.6L1178.8,247.9L1180.3,248L1181.8,248.2L1183.3,248.2L1184.8,248.1L1186.3,247.8L1187.8,247.5L1189.3,247.1L1190.8,247L1192.3,247.1L1193.8,247.4L1195.3,247.8L1196.8,248.2L1198.3,248.6L1199.8,248.9L1201.3,249L1202.8,248.9L1204.3,248.8L1205.8,248.7L1207.3,248.5L1208.8,248.2L1210.3,247.4L1211.8,246.3L1213.3,245.4L1214.8,245.3L1216.3,245.9L1217.8,246.9L1219.3,247.9L1220.8,248.8L1222.3,249.4L1223.8,250L1225.3,250.6L1226.8,251.1L1228.3,251.6L1229.8,252L1231.3,252.3L1232.8,252.5L1234.3,252.5L1235.8,252.2L1237.3,251.6L1238.8,250.9L1240.3,250.1L1241.8,249.4L1243.3,248.9L1244.8,248.6L1246.3,248.4L1247.8,248.2L1249.3,248L1250.8,247.9L1252.3,247.8L1253.8,247.7L1255.3,247.8L1256.8,247.8L1258.3,247.9L1259.8,248L1261.3,248.2L1262.8,248.8L1264.3,250.1L1265.8,251.1L1267.3,251.2L1268.8,250.8L1270.3,250.1L1271.8,249.5L1273.3,249.1L1274.8,249L1276.3,249.1L1277.8,249.1L1279.3,249.3L1280.8,249.4L1282.3,249.6L1283.8,249.8L1285.3,250.2L1286.8,250.5L1288.3,250.7L1289.8,250.7L1291.3,250.5L1292.8,250L1294.3,249.4L1295.8,248.5L1297.3,247.5L1298.8,247L1299.2,247L1299.5,234.2L1320,234.2L1320,500L50,500Z"/>
<path fill="#c73e4c" d="M50,206.5L68.3,206.5L68.8,220L70.3,219.7L71.8,219.4L73.3,219.3L74.8,219.3L76.3,219.6L77.8,220.1L79.3,220.7L80.8,221.3L82.3,221.8L83.8,222.2L85.3,222.3L86.8,222.3L88.3,222.3L89.8,222.3L91.3,222.3L92.8,222.3L94.3,222.3L95.8,222.3L97.3,222.3L98.8,222.3L100.3,222.3L101.8,222.4L103.3,222.8L104.8,223.3L106.3,223.8L107.8,224.2L109.3,224.3L110.8,224.1L112.3,223.7L113.8,223.2L115.3,222.7L116.8,222.4L118.3,222.3L119.8,222.5L121.3,222.9L122.8,223.4L124.3,223.9L125.8,224.4L127.3,224.7L128.8,224.9L130.3,225L131.8,225.2L133.3,225.3L134.8,225.4L136.3,225.5L137.8,225.5L139.3,225.6L140.8,225.6L142.3,225.4L143.8,225L145.3,224.4L146.8,223.9L148.3,223.4L149.8,223.1L151.3,223.1L152.8,223.2L154.3,223.6L155.8,224L157.3,224.4L158.8,224.8L160.3,225.2L161.8,225.5L163.3,225.6L164.8,225.6L166.3,225.6L167.8,225.6L169.3,225.6L170.8,225.6L172.3,225.6L173.8,225.6L175.3,225.3L176.8,224.9L178.3,224.4L179.8,223.9L181.3,223.6L182.8,223.6L184.3,224L185.8,224.5L187.3,224.9L188.8,225.1L190.3,225L191.8,224.8L193.3,224.6L194.8,224.5L196.3,224.3L197.8,224.4L199.3,224.9L200.8,225.9L202.3,227.2L203.8,228.4L205.3,229.5L206.8,230L208.3,230.1L209.8,230.1L211.3,230.1L212.8,230.1L214.3,230.1L215.8,230.1L217.3,230.1L218.8,229.9L220.3,229.7L221.8,229.4L223.3,229.1L224.8,228.7L226.3,228.4L227.8,228L229.3,227.6L230.8,227.2L232.3,226.6L233.8,226.1L235.3,225.6L236.8,225.2L238.3,224.9L239.8,224.8L241.3,224.9L242.8,225L244.3,225.3L245.8,225.7L247.3,226.1L248.8,226.5L250.3,227L251.8,227.4L253.3,228L254.8,228.7L256.3,229.5L257.8,230.2L259.3,230.7L260.8,231.1L262.3,231.1L263.8,230.9L265.3,230.6L266.8,230.1L268.3,229.7L269.8,229.3L271.3,228.9L272.8,228.7L274.3,228.6L275.8,229L277.3,229.9L278.8,230.7L280.3,231.1L281.8,231L283.3,230.8L284.8,230.4L286.3,230L287.8,229.5L289.3,229.1L290.8,228.8L292.3,228.6L293.8,228.6L295.3,228.9L296.8,229.3L298.3,229.8L299.8,230.4L301.3,230.9L302.8,231.5L304.3,231.9L305.8,232.2L307.3,232.5L308.8,232.8L310.3,233.1L311.8,233.4L313.3,233.6L314.8,233.8L316.3,233.9L317.8,233.9L319.3,233.8L320.8,233.7L322.3,233.5L323.8,233.2L325.3,232.8L326.8,231.9L328.3,230.9L329.8,230.6L331.3,231.7L332.8,233.5L334.3,235.3L335.8,236.1L337.3,236L338.8,235.5L340.3,234.9L341.8,234.2L343.3,233.8L344.8,233.6L346.3,233.7L347.8,233.8L349.3,233.9L350.8,234.1L352.3,234.3L353.8,234.5L355.3,234.7L356.8,234.8L358.3,235L359.8,235.1L361.3,235.3L362.8,235.4L364.3,235.5L365.8,235.6L367.3,235.6L368.8,235.3L370.3,234.6L371.8,233.7L373.3,233L374.8,232.6L376.3,232.8L377.8,233.2L379.3,233.8L380.8,234.5L382.3,235.2L383.8,235.8L385.3,236.2L386.8,236.6L388.3,236.9L389.8,237.2L391.3,237.5L392.8,237.6L394.3,237.6L395.8,237.2L397.3,236.5L398.8,235.7L400.3,234.9L401.8,234.5L403.3,234.4L404.8,234.5L406.3,234.7L407.8,235L409.3,235.4L410.8,235.8L412.3,236.1L413.8,236.5L415.3,236.9L416.8,237.1L418.3,237.3L419.8,237.4L421.3,237.3L422.8,237.1L424.3,236.8L425.8,236.5L427.3,236.3L428.8,236.1L430.3,236.3L431.8,236.6L433.3,237L434.8,237.5L436.3,238L437.8,238.4L439.3,238.6L440.8,238.7L442.3,238.7L443.8,238.6L445.3,238.6L446.8,238.5L448.3,238.5L449.8,238.4L451.3,238.4L452.8,238.3L454.3,238.3L455.8,238.2L457.3,238.2L458.8,238.2L460.3,238.2L461.8,238.2L463.3,238.4L464.8,238.7L466.3,239.1L467.8,239.4L469.3,239.8L470.8,240L472.3,240.2L473.8,240.2L475.3,240.1L476.8,239.9L478.3,239.8L479.8,239.6L481.3,239.5L482.8,239.4L484.3,239.5L485.8,239.6L487.3,239.7L488.8,240L490.3,240.2L491.8,240.5L493.3,240.8L494.8,241L496.3,241.3L497.8,241.6L499.3,241.9L500.8,242.3L502.3,242.5L503.8,242.7L505.3,242.6L506.8,242.4L508.3,241.8L509.8,241.2L511.3,240.5L512.8,239.7L514.3,239.1L515.8,238.6L517.3,238.2L518.8,238.2L520.3,238.8L521.8,239.6L523.3,240.4L524.8,240.7L526.3,240.7L527.8,240.6L529.3,240.5L530.8,240.4L532.3,240.3L533.8,240.1L535.3,239.8L536.8,239.4L538.3,239L539.8,238.8L541.3,238.7L542.8,239.7L544.3,241.5L545.8,243.3L547.3,244.5L548.8,245L550.3,245.5L551.8,245.9L553.3,246.1L554.8,246.2L556.3,246L557.8,245.6L559.3,245.2L560.8,245L562.3,245L563.8,245.3L565.3,245.7L566.8,246.2L568.3,246.6L569.8,246.9L571.3,247L572.8,246.5L574.3,245.3L575.8,244L577.3,242.9L578.8,242.4L580.3,242.7L581.8,243.3L583.3,244.1L584.8,244.7L586.3,245L587.8,244.8L589.3,244.5L590.8,244.2L592.3,244L593.8,244.1L595.3,244.7L596.8,245.5L598.3,246.3L599.8,246.7L601.3,247.1L602.8,247.4L604.3,247.7L605.8,248L607.3,248.3L608.8,248.7L610.3,249.1L611.8,249.6L613.3,250.5L614.8,251.6L616.3,252.4L617.8,252.4L619.3,251.5L620.8,250.2L622.3,248.9L623.8,248.3L625.3,248.3L626.8,248.5L628.3,248.7L629.8,248.9L631.3,249L632.8,249L634.3,248.9L635.8,248.7L637.3,248.5L638.8,248.3L640.3,248.1L641.8,247.8L643.3,247.5L644.8,247.3L646.3,247.1L647.8,247L649.3,247.1L650.8,247.6L652.3,248.2L653.8,248.7L655.3,249L656.8,248.6L658.3,247.5L659.8,246.3L661.3,245.7L662.8,246.2L664.3,247.3L665.8,248.4L667.3,248.7L668.8,248.7L670.3,248.7L671.8,248.7L673.3,248.7L674.8,248.7L676.3,248.7L677.8,248.7L679.3,248.7L680.8,248.6L682.3,248.5L683.8,248.4L685.3,248.3L686.8,248.3L688.3,248.2L689.8,248.1L691.3,247.9L692.8,247.8L694.3,247.8L695.8,247.7L697.3,247.9L698.8,248.4L700.3,249.2L701.8,250L703.3,250.8L704.8,251.5L706.3,251.9L707.8,252L709.3,251.8L710.8,251.6L712.3,251.5L713.8,251.8L715.3,252.4L716.8,253.2L718.3,254.1L719.8,255L721.3,255.8L722.8,256.2L724.3,256.2L725.8,255.6L727.3,254.8L728.8,254.5L730.3,255L731.8,255.8L733.3,256.6L734.8,257L736.3,256.9L737.8,256.6L739.3,256.2L740.8,255.6L742.3,255L743.8,254.5L745.3,253.9L746.8,253.2L748.3,252.5L749.8,251.9L751.3,251.6L752.8,251.6L754.3,252.1L755.8,253.1L757.3,254.1L758.8,255.1L760.3,255.9L761.8,256.4L763.3,256.8L764.8,257.2L766.3,257.6L767.8,258.1L769.3,258.6L770.8,259.1L772.3,259.7L773.8,260.2L775.3,260.6L776.8,261L778.3,261.5L779.8,261.9L781.3,262.3L782.8,262.7L784.3,262.9L785.8,263L787.3,263L788.8,262.5L790.3,261.7L791.8,260.8L793.3,259.8L794.8,258.9L796.3,258.3L797.8,258L799.3,258.8L800.8,260.5L802.3,262.5L803.8,264L805.3,264.3L806.8,263.8L808.3,263.1L809.8,262.6L811.3,262.6L812.8,263L814.3,263.6L815.8,264.2L817.3,264.9L818.8,265.5L820.3,265.8L821.8,266L823.3,266.1L824.8,266.2L826.3,266.3L827.8,266.3L829.3,266.3L830.8,266L832.3,265.6L833.8,265.1L835.3,264.6L836.8,264.1L838.3,263.6L839.8,263.3L841.3,263.1L842.8,263.2L844.3,263.6L845.8,264.4L847.3,265.3L848.8,266.3L850.3,267L851.8,267.6L853.3,267.8L854.8,268L856.3,268.1L857.8,268.2L859.3,268.4L860.8,268.6L862.3,269L863.8,270.4L865.3,271.7L866.8,271.5L868.3,270L869.8,267.9L871.3,265.7L872.8,264.2L874.3,263.9L875.8,264.7L877.3,266.2L878.8,268.1L880.3,269.8L881.8,271.2L883.3,271.9L884.8,272.7L886.3,273.4L887.8,274L889.3,274.6L890.8,275.1L892.3,275.5L893.8,275.7L895.3,275.9L896.8,275.7L898.3,274.3L899.8,272.5L901.3,271L902.8,270.6L904.3,270.9L905.8,271.3L907.3,271.8L908.8,272.3L910.3,272.6L911.8,272.6L913.3,272.5L914.8,272.2L916.3,271.9L917.8,271.5L919.3,271.1L920.8,270.7L922.3,270.3L923.8,269.8L925.3,269.2L926.8,268.6L928.3,268.1L929.8,267.7L931.3,267.6L932.8,267.8L934.3,268.3L935.8,269L937.3,269.8L938.8,270.7L940.3,271.6L941.8,272.3L943.3,272.9L944.8,273.1L946.3,272.9L947.8,272.2L949.3,271.3L950.8,270.7L952.3,270.6L953.8,270.6L955.3,270.6L956.8,270.6L958.3,270.6L959.8,270.6L961.3,270.6L962.8,270.4L964.3,269.5L965.8,268.3L967.3,266.8L968.8,265.4L970.3,264.3L971.8,263.5L973.3,263.3L974.8,263.4L976.3,263.6L977.8,263.9L979.3,264.2L980.8,264.6L982.3,265.4L983.8,266.3L985.3,267.1L986.8,267.3L988.3,267.1L989.8,266.7L991.3,266.3L992.8,266.1L994.3,266.4L995.8,267.2L997.3,268.1L998.8,268.6L1000.3,268.4L1001.8,267.9L1003.3,267.1L1004.8,266.4L1006.3,265.9L1007.8,265.9L1009.3,266.6L1010.8,267.6L1012.3,268.6L1013.8,269.4L1015.3,269.6L1016.8,269L1018.3,267.9L1019.8,266.6L1021.3,265.3L1022.8,264.3L1024.3,263.8L1025.8,264.1L1027.3,265L1028.8,266.3L1030.3,267.6L1031.8,268.7L1033.3,269.4L1034.8,270.1L1036.3,270.8L1037.8,271.4L1039.3,272L1040.8,272.5L1042.3,272.8L1043.8,273.1L1045.3,273.2L1046.8,273.2L1048.3,273.2L1049.8,273.3L1051.3,273.3L1052.8,273.4L1054.3,273.7L1055.8,275L1057.3,276.4L1058.8,276.9L1060.3,276.1L1061.8,274.6L1063.3,272.8L1064.8,271L1066.3,269.8L1067.8,269.4L1069.3,270.2L1070.8,271.9L1072.3,274L1073.8,276L1075.3,277.3L1076.8,277.6L1078.3,276.2L1079.8,274.2L1081.3,273.1L1082.8,273.4L1084.3,274.1L1085.8,275L1087.3,275.9L1088.8,276.6L1090.3,276.9L1091.8,276.3L1093.3,275L1094.8,273.3L1096.3,271.7L1097.8,270.5L1099.3,270.1L1100.8,270.6L1102.3,271.4L1103.8,272.3L1105.3,272.6L1106.8,272.5L1108.3,272.3L1109.8,272.1L1111.3,272.4L1112.8,273.6L1114.3,275.3L1115.8,276.7L1117.3,277.3L1118.8,277.6L1120.3,277.7L1121.8,277.9L1123.3,278.3L1124.8,279L1126.3,280L1127.8,281.2L1129.3,282.4L1130.8,283.3L1132.3,283.9L1133.8,283.9L1135.3,283.1L1136.8,281.8L1138.3,280.4L1139.8,279.2L1141.3,278.5L1142.8,278.5L1144.3,279L1145.8,279.6L1147.3,280.1L1148.8,280.1L1150.3,279.8L1151.8,279.1L1153.3,278.4L1154.8,277.7L1156.3,277.2L1157.8,277.1L1159.3,277.1L1160.8,277L1162.3,277L1163.8,276.9L1165.3,276.9L1166.8,277L1168.3,277.4L1169.8,278L1171.3,278.7L1172.8,279.5L1174.3,280.1L1175.8,280.6L1177.3,281.2L1178.8,281.7L1180.3,282.2L1181.8,282.6L1183.3,282.7L1184.8,282.3L1186.3,281.3L1187.8,280.1L1189.3,279L1190.8,278.4L1192.3,278.6L1193.8,279.3L1195.3,280L1196.8,280.8L1198.3,281.3L1199.8,281.9L1201.3,282.4L1202.8,282.7L1204.3,282.7L1205.8,282.4L1207.3,281.9L1208.8,281.4L1210.3,279.9L1211.8,277.8L1213.3,276.2L1214.8,276L1216.3,276.8L1217.8,278.1L1219.3,279.5L1220.8,280.5L1222.3,281L1223.8,281.3L1225.3,281.5L1226.8,281.8L1228.3,282.1L1229.8,282.6L1231.3,283.3L1232.8,284.1L1234.3,284.8L1235.8,285.2L1237.3,285.1L1238.8,284.3L1240.3,283.2L1241.8,281.9L1243.3,280.7L1244.8,279.8L1246.3,279.3L1247.8,278.9L1249.3,278.5L1250.8,278.2L1252.3,278.1L1253.8,278L1255.3,277.9L1256.8,277.8L1258.3,277.7L1259.8,277.7L1261.3,278L1262.8,279.3L1264.3,280.6L1265.8,280.9L1267.3,280.5L1268.8,279.7L1270.3,278.9L1271.8,278.3L1273.3,278.2L1274.8,278.2L1276.3,278.2L1277.8,278.3L1279.3,278.3L1280.8,278.4L1282.3,278.5L1283.8,278.8L1285.3,279.3L1286.8,279.8L1288.3,280.1L1289.8,280.2L1291.3,279.9L1292.8,279.5L1294.3,278.9L1295.8,278.1L1297.3,277L1298.8,276.4L1299.2,276.4L1299.5,262.9L1320,262.9L1320,500L50,500Z"/>
<path fill="#ae305c" d="M50,236.5L68.3,236.5L68.8,249.5L70.3,249.8L71.8,250L73.3,250.2L74.8,250.3L76.3,250.4L77.8,250.5L79.3,250.6L80.8,250.7L82.3,250.8L83.8,250.8L85.3,250.9L86.8,251L88.3,251L89.8,251.1L91.3,251.2L92.8,251.3L94.3,251.4L95.8,251.5L97.3,251.6L98.8,251.8L100.3,252L101.8,252.1L103.3,252.2L104.8,252.4L106.3,252.4L107.8,252.5L109.3,252.5L110.8,252.4L112.3,252.1L113.8,251.8L115.3,251.5L116.8,251.3L118.3,251.3L119.8,251.4L121.3,251.7L122.8,252L124.3,252.5L125.8,252.9L127.3,253.3L128.8,253.6L130.3,253.8L131.8,253.8L133.3,253.9L134.8,253.9L136.3,254L137.8,254L139.3,254L140.8,254L142.3,253.9L143.8,253.5L145.3,253L146.8,252.5L148.3,251.9L149.8,251.5L151.3,251.3L152.8,251.3L154.3,251.6L155.8,252L157.3,252.5L158.8,253L160.3,253.6L161.8,254.3L163.3,255.1L164.8,255.8L166.3,256.2L167.8,256.2L169.3,255.6L170.8,254.8L172.3,254.5L173.8,254.9L175.3,255.2L176.8,255.2L178.3,254.5L179.8,253.6L181.3,252.6L182.8,252.1L184.3,252.1L185.8,252.6L187.3,253.2L188.8,253.7L190.3,253.8L191.8,253.5L193.3,253.2L194.8,252.9L196.3,252.8L197.8,253.3L199.3,254.3L200.8,255.7L202.3,257.1L203.8,258.4L205.3,259.3L206.8,259.6L208.3,259.5L209.8,259.4L211.3,259.1L212.8,258.9L214.3,258.6L215.8,258.3L217.3,258L218.8,257.8L220.3,257.6L221.8,257.4L223.3,257.2L224.8,257L226.3,256.7L227.8,256.5L229.3,256.2L230.8,255.8L232.3,255.3L233.8,254.7L235.3,254.2L236.8,253.8L238.3,253.4L239.8,253.3L241.3,253.3L242.8,253.5L244.3,253.8L245.8,254.1L247.3,254.6L248.8,255L250.3,255.5L251.8,255.9L253.3,256.5L254.8,257.2L256.3,258L257.8,258.7L259.3,259.2L260.8,259.5L262.3,259.5L263.8,259.2L265.3,258.8L266.8,258.2L268.3,257.7L269.8,257.3L271.3,257.1L272.8,257.1L274.3,257.4L275.8,257.7L277.3,258.1L278.8,258.5L280.3,258.7L281.8,258.8L283.3,258.7L284.8,258.3L286.3,257.9L287.8,257.4L289.3,256.9L290.8,256.5L292.3,256.3L293.8,256.4L295.3,256.7L296.8,257.4L298.3,258.1L299.8,258.8L301.3,259.4L302.8,259.8L304.3,260.3L305.8,260.7L307.3,261.1L308.8,261.4L310.3,261.7L311.8,261.9L313.3,262.1L314.8,262.1L316.3,262.1L317.8,262.1L319.3,262.1L320.8,262.1L322.3,262.1L323.8,261.5L325.3,260.4L326.8,259.5L328.3,259.1L329.8,259.8L331.3,261.5L332.8,263.1L334.3,264.1L335.8,264L337.3,263.7L338.8,263.3L340.3,262.9L341.8,262.5L343.3,262.2L344.8,262.1L346.3,262.1L347.8,262.3L349.3,262.4L350.8,262.7L352.3,262.9L353.8,263.2L355.3,263.4L356.8,263.6L358.3,263.8L359.8,264L361.3,264.1L362.8,264.1L364.3,263.8L365.8,263.3L367.3,262.7L368.8,262.1L370.3,261.5L371.8,261.1L373.3,260.8L374.8,260.9L376.3,261.4L377.8,262L379.3,262.9L380.8,263.8L382.3,264.6L383.8,265.4L385.3,266L386.8,266.3L388.3,266.4L389.8,266.3L391.3,266.1L392.8,265.8L394.3,265.5L395.8,265.1L397.3,264L398.8,262.8L400.3,261.8L401.8,261.6L403.3,262.2L404.8,263.1L406.3,264.2L407.8,265L409.3,265.4L410.8,265.6L412.3,265.7L413.8,265.8L415.3,265.9L416.8,266L418.3,266.1L419.8,266.2L421.3,266.3L422.8,266.5L424.3,266.8L425.8,267.1L427.3,267.4L428.8,267.7L430.3,267.9L431.8,268.1L433.3,268.1L434.8,268L436.3,267.7L437.8,267.5L439.3,267.2L440.8,267L442.3,266.8L443.8,266.8L445.3,266.8L446.8,266.8L448.3,266.8L449.8,266.8L451.3,266.8L452.8,266.8L454.3,266.8L455.8,266.8L457.3,266.9L458.8,267.1L460.3,267.3L461.8,267.6L463.3,267.9L464.8,268.3L466.3,268.8L467.8,269.6L469.3,270.3L470.8,271L472.3,271.3L473.8,271.3L475.3,271.2L476.8,271L478.3,270.7L479.8,270.4L481.3,270.2L482.8,270.1L484.3,270.1L485.8,270.2L487.3,270.2L488.8,270.4L490.3,270.5L491.8,270.7L493.3,270.8L494.8,271L496.3,271.3L497.8,271.6L499.3,272.5L500.8,273.5L502.3,274.5L503.8,275.1L505.3,275.1L506.8,274.6L508.3,273.9L509.8,273.1L511.3,272.3L512.8,271.2L514.3,269.8L515.8,268.5L517.3,267.5L518.8,267.1L520.3,267.9L521.8,269.7L523.3,271.8L524.8,273.5L526.3,273.9L527.8,273.8L529.3,273.6L530.8,273.3L532.3,272.9L533.8,272.5L535.3,271.9L536.8,271L538.3,270.2L539.8,269.5L541.3,269.4L542.8,271.2L544.3,274.3L545.8,277.4L547.3,278.9L548.8,279.3L550.3,279.6L551.8,279.9L553.3,280.1L554.8,280.2L556.3,280.2L557.8,279.9L559.3,279.3L560.8,278.7L562.3,278.4L563.8,278.7L565.3,279.3L566.8,280.2L568.3,281.1L569.8,281.7L571.3,281.9L572.8,281.2L574.3,279.7L575.8,277.8L577.3,276.3L578.8,275.7L580.3,276.1L581.8,277L583.3,278.1L584.8,279L586.3,279.4L587.8,279.3L589.3,278.9L590.8,278.5L592.3,278.5L593.8,279.5L595.3,281.3L596.8,283.1L598.3,284.3L599.8,284.5L601.3,284.6L602.8,284.6L604.3,284.6L605.8,284.6L607.3,284.6L608.8,284.7L610.3,284.7L611.8,285.7L613.3,287.6L614.8,289.6L616.3,290.7L617.8,290.3L619.3,288.8L620.8,286.8L622.3,284.9L623.8,283.7L625.3,283.5L626.8,284.2L628.3,285.1L629.8,286L631.3,286.5L632.8,286.4L634.3,286.3L635.8,286.1L637.3,285.8L638.8,285.6L640.3,285.3L641.8,285L643.3,284.7L644.8,284.4L646.3,284.2L647.8,284L649.3,284L650.8,284.2L652.3,284.8L653.8,285.4L655.3,285.7L656.8,285.2L658.3,283.6L659.8,281.8L661.3,280.9L662.8,281.4L664.3,282.6L665.8,284.1L667.3,285.7L668.8,286.9L670.3,287.6L671.8,288.1L673.3,288.4L674.8,288.5L676.3,287.8L677.8,286.7L679.3,285.9L680.8,285.8L682.3,286.3L683.8,287.1L685.3,287.8L686.8,288.2L688.3,288.2L689.8,287.8L691.3,287.4L692.8,287L694.3,286.6L695.8,286.5L697.3,286.8L698.8,287.6L700.3,288.7L701.8,289.9L703.3,290.9L704.8,291.5L706.3,292L707.8,292.4L709.3,292.7L710.8,292.8L712.3,292.7L713.8,292.3L715.3,292.1L716.8,292.2L718.3,293.5L719.8,295.5L721.3,297.5L722.8,298.9L724.3,298.9L725.8,297.6L727.3,295.9L728.8,294.7L730.3,294.7L731.8,295.7L733.3,297L734.8,298.1L736.3,298.6L737.8,298.5L739.3,298.2L740.8,297.7L742.3,297.2L743.8,296.6L745.3,295.9L746.8,294.8L748.3,293.3L749.8,291.7L751.3,290.4L752.8,289.8L754.3,290L755.8,290.9L757.3,292.1L758.8,293.5L760.3,294.7L761.8,296.1L763.3,297.4L764.8,297.6L766.3,297.1L767.8,296.9L769.3,297.8L770.8,299.7L772.3,301.9L773.8,303.9L775.3,305.1L776.8,305L778.3,303.8L779.8,302.4L781.3,302L782.8,303.1L784.3,305L785.8,306.1L787.3,305.6L788.8,304L790.3,302.2L791.8,300.7L793.3,300.2L794.8,300L796.3,299.8L797.8,299.7L799.3,300.2L800.8,303.7L802.3,308.2L803.8,310.8L805.3,310.4L806.8,309.1L808.3,307.5L809.8,306.1L811.3,305.6L812.8,306.4L814.3,308.1L815.8,309.7L817.3,310.3L818.8,310.2L820.3,310L821.8,310L823.3,310.9L824.8,312.4L826.3,313.8L827.8,314.5L829.3,314.1L830.8,312.8L832.3,311.5L833.8,310.8L835.3,310.9L836.8,311.1L838.3,310.8L839.8,309.4L841.3,308.1L842.8,308L844.3,309.9L845.8,312.8L847.3,315L848.8,316.2L850.3,317.1L851.8,317.3L853.3,316.7L854.8,315.6L856.3,314.7L857.8,314.6L859.3,315.4L860.8,316.5L862.3,318.6L863.8,321.3L865.3,322.9L866.8,322.1L868.3,320L869.8,317.6L871.3,314L872.8,310.7L874.3,309.8L875.8,310.5L877.3,311.7L878.8,313.4L880.3,317.9L881.8,322.6L883.3,324L884.8,324.5L886.3,324.8L887.8,325.1L889.3,325.4L890.8,326L892.3,326.7L893.8,327.5L895.3,328L896.8,328.3L898.3,327.6L899.8,325.9L901.3,324.2L902.8,323.4L904.3,323.8L905.8,324.6L907.3,325.1L908.8,325L910.3,324.8L911.8,324.4L913.3,324L914.8,323.4L916.3,322.9L917.8,321.9L919.3,320.4L920.8,318.6L922.3,316.8L923.8,315.3L925.3,314.3L926.8,314L928.3,313.8L929.8,313.7L931.3,313.7L932.8,313.7L934.3,314.4L935.8,315.3L937.3,316L938.8,316.3L940.3,316.4L941.8,316.6L943.3,316.6L944.8,316.7L946.3,316.5L947.8,314.9L949.3,312.9L950.8,311.3L952.3,311.2L953.8,311.8L955.3,312.5L956.8,313.1L958.3,313.3L959.8,312.9L961.3,312L962.8,310.9L964.3,309.8L965.8,308.4L967.3,306.7L968.8,304.8L970.3,303L971.8,301.4L973.3,300.2L974.8,299.7L976.3,299.9L977.8,300.6L979.3,301.6L980.8,302.6L982.3,303.6L983.8,304.2L985.3,304.4L986.8,304.4L988.3,304.3L989.8,304.2L991.3,304.1L992.8,304.1L994.3,304.5L995.8,305.3L997.3,306.1L998.8,306.6L1000.3,306.4L1001.8,305.5L1003.3,304.1L1004.8,302.7L1006.3,301.5L1007.8,300.9L1009.3,301.2L1010.8,302.3L1012.3,303.6L1013.8,304.5L1015.3,304.4L1016.8,303.5L1018.3,302.1L1019.8,300.6L1021.3,299.3L1022.8,298.6L1024.3,298.8L1025.8,299.5L1027.3,300.6L1028.8,302L1030.3,303.3L1031.8,304.5L1033.3,305.4L1034.8,306L1036.3,306.5L1037.8,307.1L1039.3,307.5L1040.8,308L1042.3,308.3L1043.8,308.6L1045.3,308.7L1046.8,308.8L1048.3,308.9L1049.8,309L1051.3,309.1L1052.8,309.3L1054.3,310.3L1055.8,311.5L1057.3,312.6L1058.8,312.9L1060.3,312L1061.8,310.1L1063.3,307.8L1064.8,305.7L1066.3,304.1L1067.8,303.6L1069.3,304.6L1070.8,306.5L1072.3,308.8L1073.8,311L1075.3,312.6L1076.8,312.8L1078.3,310.9L1079.8,308.2L1081.3,306.6L1082.8,307L1084.3,307.9L1085.8,309.1L1087.3,310.4L1088.8,311.3L1090.3,311.7L1091.8,310.9L1093.3,309.2L1094.8,307L1096.3,304.9L1097.8,303.3L1099.3,302.9L1100.8,303.6L1102.3,304.8L1103.8,306.1L1105.3,306.6L1106.8,306.4L1108.3,305.8L1109.8,305.4L1111.3,305.6L1112.8,306.9L1114.3,308.5L1115.8,309.9L1117.3,310.6L1118.8,310.9L1120.3,311.2L1121.8,311.4L1123.3,311.8L1124.8,312.4L1126.3,313.2L1127.8,314.2L1129.3,315L1130.8,315.7L1132.3,316.2L1133.8,316.1L1135.3,315.5L1136.8,314.4L1138.3,313.3L1139.8,312.3L1141.3,311.7L1142.8,311.8L1144.3,312.1L1145.8,312.5L1147.3,312.9L1148.8,312.9L1150.3,312.5L1151.8,311.9L1153.3,311.1L1154.8,310.4L1156.3,309.8L1157.8,309.5L1159.3,309.3L1160.8,309L1162.3,308.9L1163.8,308.7L1165.3,308.7L1166.8,308.7L1168.3,309.2L1169.8,309.8L1171.3,310.6L1172.8,311.4L1174.3,312.1L1175.8,312.6L1177.3,313.3L1178.8,313.9L1180.3,314.4L1181.8,314.8L1183.3,314.9L1184.8,314.5L1186.3,313.3L1187.8,311.8L1189.3,310.5L1190.8,309.9L1192.3,310.2L1193.8,310.9L1195.3,311.9L1196.8,312.7L1198.3,313.4L1199.8,314L1201.3,314.6L1202.8,314.9L1204.3,314.9L1205.8,314.7L1207.3,314.2L1208.8,313.6L1210.3,311.8L1211.8,309.1L1213.3,307L1214.8,306.7L1216.3,307.6L1217.8,309L1219.3,310.5L1220.8,311.5L1222.3,311.9L1223.8,312.2L1225.3,312.4L1226.8,312.6L1228.3,312.8L1229.8,313.2L1231.3,313.8L1232.8,314.5L1234.3,315.1L1235.8,315.4L1237.3,315.3L1238.8,314.5L1240.3,313.2L1241.8,311.7L1243.3,310.4L1244.8,309.3L1246.3,308.7L1247.8,308.1L1249.3,307.6L1250.8,307.3L1252.3,307L1253.8,306.7L1255.3,306.5L1256.8,306.3L1258.3,306.2L1259.8,306.1L1261.3,306.5L1262.8,307.7L1264.3,308.9L1265.8,309.1L1267.3,308.9L1268.8,308.5L1270.3,308L1271.8,307.6L1273.3,307.3L1274.8,307.1L1276.3,307L1277.8,306.8L1279.3,306.7L1280.8,306.6L1282.3,306.7L1283.8,307L1285.3,307.5L1286.8,308L1288.3,308.3L1289.8,308.4L1291.3,308.2L1292.8,307.8L1294.3,307.4L1295.8,306.4L1297.3,305L1298.8,304.1L1299.2,304.1L1299.5,291.1L1320,291.1L1320,500L50,500Z"/>
<path fill="#a02a63" d="M50,265.6L68.3,265.6L68.8,278.4L70.3,278.9L71.8,279.4L73.3,279.7L74.8,280L76.3,280.1L77.8,280.2L79.3,280.1L80.8,279.9L82.3,279.7L83.8,279.5L85.3,279.4L86.8,279.5L88.3,279.6L89.8,279.8L91.3,280L92.8,280.2L94.3,280.4L95.8,280.6L97.3,280.7L98.8,280.7L100.3,280.8L101.8,280.8L103.3,280.9L104.8,280.9L106.3,280.9L107.8,280.9L109.3,280.9L110.8,280.9L112.3,280.9L113.8,280.7L115.3,280.6L116.8,280.4L118.3,280.3L119.8,280.2L121.3,280.2L122.8,280.5L124.3,281L125.8,281.7L127.3,282.3L128.8,283L130.3,283.5L131.8,283.9L133.3,284L134.8,283.8L136.3,283.5L137.8,283L139.3,282.5L140.8,282.1L142.3,281.6L143.8,281.3L145.3,281L146.8,280.7L148.3,280.4L149.8,280.1L151.3,279.9L152.8,279.7L154.3,279.7L155.8,279.9L157.3,280.6L158.8,281.5L160.3,282.4L161.8,283.4L163.3,284.7L164.8,286L166.3,286.9L167.8,286.8L169.3,285.7L170.8,284.5L172.3,284L173.8,284.5L175.3,285.1L176.8,285L178.3,284L179.8,282.6L181.3,281.2L182.8,280.3L184.3,280.3L185.8,280.6L187.3,281.1L188.8,281.6L190.3,281.9L191.8,281.9L193.3,281.8L194.8,281.6L196.3,281.5L197.8,281.5L199.3,282.4L200.8,283.9L202.3,285.7L203.8,287.3L205.3,288.3L206.8,288.4L208.3,288L209.8,287.2L211.3,286.5L212.8,285.9L214.3,285.7L215.8,285.6L217.3,285.4L218.8,285.4L220.3,285.3L221.8,285.2L223.3,285.2L224.8,285.3L226.3,285.4L227.8,285.5L229.3,285.6L230.8,285.7L232.3,285.6L233.8,285L235.3,284.1L236.8,283L238.3,282L239.8,281.3L241.3,280.9L242.8,281.1L244.3,281.4L245.8,281.8L247.3,282.4L248.8,282.9L250.3,283.5L251.8,284.1L253.3,284.8L254.8,285.6L256.3,286.5L257.8,287.2L259.3,287.9L260.8,288.2L262.3,288.2L263.8,287.8L265.3,287.1L266.8,286.3L268.3,285.5L269.8,284.7L271.3,284.2L272.8,284L274.3,284.1L275.8,284.4L277.3,284.9L278.8,285.3L280.3,285.6L281.8,285.7L283.3,285.6L284.8,285.3L286.3,284.9L287.8,284.5L289.3,284L290.8,283.7L292.3,283.5L293.8,283.5L295.3,284.1L296.8,284.9L298.3,285.9L299.8,286.8L301.3,287.6L302.8,288L304.3,288.3L305.8,288.6L307.3,288.9L308.8,289.1L310.3,289.4L311.8,289.7L313.3,290.2L314.8,290.8L316.3,291.4L317.8,291.8L319.3,292L320.8,291.7L322.3,290.7L323.8,289.3L325.3,287.9L326.8,286.9L328.3,286.5L329.8,287.4L331.3,289.2L332.8,291.2L334.3,292.3L335.8,292.1L337.3,291.5L338.8,290.5L340.3,289.5L341.8,288.6L343.3,288L344.8,287.7L346.3,287.7L347.8,287.7L349.3,287.7L350.8,287.7L352.3,287.7L353.8,288L355.3,288.5L356.8,289.2L358.3,289.9L359.8,290.5L361.3,290.9L362.8,291L364.3,290.8L365.8,290.4L367.3,289.9L368.8,289.3L370.3,288.8L371.8,288.4L373.3,288.3L374.8,288.4L376.3,289.1L377.8,290.2L379.3,291.5L380.8,292.8L382.3,294.1L383.8,295.1L385.3,295.7L386.8,295.8L388.3,295.7L389.8,295.4L391.3,295.1L392.8,294.7L394.3,294.3L395.8,293.7L397.3,292.6L398.8,291.4L400.3,290.5L401.8,290.3L403.3,290.8L404.8,291.7L406.3,292.8L407.8,293.6L409.3,294.1L410.8,294.5L412.3,294.7L413.8,294.9L415.3,295.1L416.8,295.3L418.3,295.5L419.8,295.8L421.3,296.1L422.8,296.6L424.3,297.2L425.8,297.8L427.3,298.4L428.8,298.9L430.3,299.3L431.8,299.5L433.3,299.6L434.8,299.3L436.3,298.9L437.8,298.4L439.3,297.9L440.8,297.5L442.3,297.3L443.8,297.4L445.3,297.9L446.8,298.6L448.3,299.2L449.8,299.6L451.3,299.4L452.8,298.7L454.3,298L455.8,297.8L457.3,297.9L458.8,298L460.3,298.2L461.8,298.5L463.3,298.8L464.8,299.1L466.3,299.5L467.8,300.1L469.3,301L470.8,302.1L472.3,302.8L473.8,302.8L475.3,302.6L476.8,302.3L478.3,301.9L479.8,301.5L481.3,301.2L482.8,301.1L484.3,301.1L485.8,301.2L487.3,301.3L488.8,301.5L490.3,301.8L491.8,302L493.3,302.3L494.8,302.7L496.3,303.1L497.8,304L499.3,305.3L500.8,306.7L502.3,307.9L503.8,308.6L505.3,308.6L506.8,308.4L508.3,308L509.8,307.5L511.3,306.9L512.8,305.8L514.3,304.3L515.8,302.8L517.3,301.6L518.8,301.1L520.3,302.1L521.8,304.4L523.3,307.2L524.8,309.5L526.3,310.6L527.8,311.1L529.3,311.5L530.8,311.7L532.3,311.4L533.8,310.8L535.3,309.8L536.8,308.8L538.3,307.9L539.8,307.3L541.3,307.2L542.8,310L544.3,314.9L545.8,319.5L547.3,321.8L548.8,322L550.3,322.2L551.8,322.3L553.3,322.4L554.8,322.5L556.3,322.5L557.8,322.6L559.3,322.8L560.8,323L562.3,323.5L563.8,324.8L565.3,326.5L566.8,328.4L568.3,330.1L569.8,331.4L571.3,331.8L572.8,331.3L574.3,330.4L575.8,329.3L577.3,328.8L578.8,331.2L580.3,337.2L581.8,342.3L583.3,343.1L584.8,342.6L586.3,342L587.8,341.5L589.3,341.5L590.8,342.9L592.3,344.9L593.8,346.2L595.3,346.4L596.8,346.5L598.3,346.7L599.8,346.9L601.3,347.7L602.8,349.3L604.3,349.9L605.8,348.7L607.3,346.7L608.8,344.7L610.3,343.9L611.8,344.6L613.3,346.1L614.8,347.8L616.3,348.9L617.8,349.2L619.3,349.5L620.8,349.6L622.3,349.8L623.8,349.9L625.3,350.2L626.8,350.7L628.3,351.4L629.8,352.1L631.3,352.5L632.8,352.3L634.3,351.5L635.8,350.9L637.3,350.8L638.8,351.7L640.3,353L641.8,354.1L643.3,354.5L644.8,354.4L646.3,354.1L647.8,353.7L649.3,353.2L650.8,352.8L652.3,352.4L653.8,352.1L655.3,352L656.8,352.7L658.3,355L659.8,357.6L661.3,359.3L662.8,359.5L664.3,359.3L665.8,359L667.3,358.5L668.8,358.1L670.3,357.7L671.8,357.3L673.3,357.1L674.8,357L676.3,357.3L677.8,357.8L679.3,358.4L680.8,359.1L682.3,359.6L683.8,360.1L685.3,360.7L686.8,361.3L688.3,361.9L689.8,362.5L691.3,363.1L692.8,363.6L694.3,364L695.8,364.3L697.3,364.5L698.8,364.6L700.3,364.3L701.8,363.7L703.3,363L704.8,362.3L706.3,361.7L707.8,361.5L709.3,361.3L710.8,361.2L712.3,361.1L713.8,361L715.3,360.9L716.8,360.6L718.3,359.8L719.8,358.8L721.3,358L722.8,357.8L724.3,358.3L725.8,359.2L727.3,360L728.8,360.3L730.3,359.9L731.8,359.3L733.3,358.8L734.8,358.9L736.3,359.6L737.8,360.7L739.3,361.9L740.8,363.2L742.3,364.4L743.8,365.4L745.3,365.9L746.8,366.3L748.3,366.6L749.8,366.9L751.3,367L752.8,367.1L754.3,367L755.8,366.7L757.3,366.3L758.8,365.9L760.3,365.6L761.8,365.4L763.3,365.3L764.8,365.4L766.3,365.6L767.8,365.7L769.3,365.8L770.8,365.7L772.3,365.1L773.8,364.2L775.3,363.5L776.8,363.4L778.3,364L779.8,364.5L781.3,364.4L782.8,363.9L784.3,363.3L785.8,362.9L787.3,362.8L788.8,363L790.3,363.4L791.8,363.9L793.3,364.4L794.8,365L796.3,365.6L797.8,366.1L799.3,366.6L800.8,366.9L802.3,367.1L803.8,367L805.3,366.7L806.8,366.2L808.3,365.6L809.8,365.2L811.3,364.9L812.8,364.7L814.3,364.5L815.8,364.3L817.3,364.2L818.8,364.1L820.3,364.1L821.8,364.1L823.3,364.1L824.8,364.1L826.3,364.1L827.8,364.1L829.3,364.1L830.8,364.1L832.3,364.1L833.8,364.1L835.3,364.2L836.8,364.3L838.3,364.6L839.8,364.8L841.3,365.1L842.8,365.3L844.3,365.5L845.8,365.7L847.3,365.8L848.8,365.8L850.3,365.7L851.8,365.6L853.3,365.4L854.8,365.2L856.3,365L857.8,364.7L859.3,364.5L860.8,364.3L862.3,364.2L863.8,364.1L865.3,364.1L866.8,364.4L868.3,365L869.8,365.5L871.3,366L872.8,366.3L874.3,366.3L875.8,365.9L877.3,365.4L878.8,364.9L880.3,364.6L881.8,364.6L883.3,364.6L884.8,364.7L886.3,364.8L887.8,364.9L889.3,365L890.8,365.1L892.3,365.2L893.8,365.4L895.3,365.6L896.8,365.9L898.3,366.1L899.8,366.3L901.3,366.5L902.8,366.6L904.3,366.5L905.8,366.2L907.3,365.6L908.8,365L910.3,364.6L911.8,364.6L913.3,364.6L914.8,364.6L916.3,364.6L917.8,364.6L919.3,364.6L920.8,364.6L922.3,364.6L923.8,364.6L925.3,364.6L926.8,364.6L928.3,364.6L929.8,364.6L931.3,364.6L932.8,364.4L934.3,364L935.8,363.3L937.3,362.5L938.8,361.5L940.3,360.6L941.8,359.7L943.3,359L944.8,358.4L946.3,358L947.8,357.6L949.3,357.2L950.8,356.9L952.3,356.5L953.8,356.2L955.3,356L956.8,355.7L958.3,355.5L959.8,355.2L961.3,355L962.8,354.8L964.3,354.7L965.8,354.6L967.3,354.4L968.8,354.3L970.3,354.2L971.8,354L973.3,353.9L974.8,353.6L976.3,353.3L977.8,352.8L979.3,352.3L980.8,351.8L982.3,351.2L983.8,350.7L985.3,350.3L986.8,349.9L988.3,349.7L989.8,349.4L991.3,349.2L992.8,349L994.3,348.8L995.8,348.6L997.3,348.4L998.8,348.2L1000.3,347.9L1001.8,347.7L1003.3,347.4L1004.8,347.1L1006.3,346.8L1007.8,346.4L1009.3,346L1010.8,345.7L1012.3,345.3L1013.8,345L1015.3,344.8L1016.8,344.6L1018.3,344.4L1019.8,344.4L1021.3,344.4L1022.8,344.4L1024.3,344.4L1025.8,344.4L1027.3,344.4L1028.8,344.4L1030.3,344.4L1031.8,344.4L1033.3,344.4L1034.8,344.4L1036.3,344.4L1037.8,344.4L1039.3,344.4L1040.8,344.3L1042.3,344.3L1043.8,344.2L1045.3,344.1L1046.8,343.9L1048.3,343.8L1049.8,343.7L1051.3,343.5L1052.8,343.4L1054.3,343.2L1055.8,343L1057.3,342.8L1058.8,342.5L1060.3,342.2L1061.8,341.8L1063.3,341.5L1064.8,341.2L1066.3,341L1067.8,340.8L1069.3,340.7L1070.8,340.7L1072.3,340.8L1073.8,341L1075.3,341.3L1076.8,341.6L1078.3,341.8L1079.8,341.9L1081.3,341.9L1082.8,341.9L1084.3,341.8L1085.8,341.7L1087.3,341.6L1088.8,341.5L1090.3,341.4L1091.8,340.9L1093.3,340.1L1094.8,339.2L1096.3,338.4L1097.8,338.1L1099.3,338.2L1100.8,338.3L1102.3,338.4L1103.8,338.6L1105.3,338.8L1106.8,339L1108.3,339.1L1109.8,339.3L1111.3,339.5L1112.8,339.6L1114.3,339.8L1115.8,339.9L1117.3,340.1L1118.8,340.3L1120.3,340.4L1121.8,340.5L1123.3,340.7L1124.8,340.8L1126.3,341L1127.8,341.1L1129.3,341.2L1130.8,341.3L1132.3,341.4L1133.8,341.4L1135.3,341.3L1136.8,341.1L1138.3,340.9L1139.8,340.7L1141.3,340.4L1142.8,340.2L1144.3,339.9L1145.8,339.7L1147.3,339.5L1148.8,339.3L1150.3,339.2L1151.8,339.1L1153.3,338.9L1154.8,338.8L1156.3,338.7L1157.8,338.6L1159.3,338.5L1160.8,338.4L1162.3,338.3L1163.8,338.2L1165.3,338.2L1166.8,338.1L1168.3,338.1L1169.8,338.2L1171.3,338.3L1172.8,338.5L1174.3,338.7L1175.8,339L1177.3,339.3L1178.8,339.5L1180.3,339.7L1181.8,339.8L1183.3,339.9L1184.8,339.8L1186.3,339.5L1187.8,339.1L1189.3,338.8L1190.8,338.6L1192.3,338.7L1193.8,338.9L1195.3,339.1L1196.8,339.4L1198.3,339.7L1199.8,339.8L1201.3,339.9L1202.8,339.7L1204.3,339.4L1205.8,338.9L1207.3,338.4L1208.8,337.9L1210.3,337.4L1211.8,337L1213.3,336.9L1214.8,337L1216.3,337.4L1217.8,337.9L1219.3,338.3L1220.8,338.6L1222.3,338.6L1223.8,338.6L1225.3,338.6L1226.8,338.6L1228.3,338.5L1229.8,338.5L1231.3,338.4L1232.8,338.3L1234.3,338.2L1235.8,338.2L1237.3,338L1238.8,337.7L1240.3,337.2L1241.8,336.6L1243.3,336L1244.8,335.5L1246.3,335.1L1247.8,334.9L1249.3,334.6L1250.8,334.4L1252.3,334.1L1253.8,333.9L1255.3,333.8L1256.8,333.7L1258.3,333.6L1259.8,333.6L1261.3,333.8L1262.8,334L1264.3,334.2L1265.8,334.3L1267.3,334.3L1268.8,334.3L1270.3,334.2L1271.8,334L1273.3,333.8L1274.8,333.6L1276.3,333.4L1277.8,333.3L1279.3,333.2L1280.8,333.1L1282.3,333.1L1283.8,333.1L1285.3,333.2L1286.8,333.3L1288.3,333.5L1289.8,333.5L1291.3,333.6L1292.8,333.5L1294.3,333.2L1295.8,332.7L1297.3,332.1L1298.8,331.8L1299.2,331.8L1299.5,320.8L1320,320.8L1320,500L50,500Z"/>
<path fill="#932667" d="M50,296.5L68.3,296.5L68.8,310.4L70.3,310.9L71.8,311.2L73.3,311.4L74.8,311.6L76.3,311.7L77.8,311.7L79.3,311.5L80.8,311L82.3,310.5L83.8,310.1L85.3,309.9L86.8,310L88.3,310.3L89.8,310.6L91.3,311L92.8,311.4L94.3,311.8L95.8,312L97.3,312.2L98.8,312.2L100.3,312.2L101.8,312.2L103.3,312.2L104.8,312.2L106.3,312.2L107.8,312.2L109.3,312.2L110.8,312.2L112.3,312.1L113.8,312L115.3,311.9L116.8,311.8L118.3,311.7L119.8,311.7L121.3,311.7L122.8,312L124.3,312.4L125.8,312.9L127.3,313.5L128.8,314.1L130.3,314.6L131.8,314.9L133.3,314.9L134.8,314.8L136.3,314.5L137.8,314.1L139.3,313.6L140.8,313.1L142.3,312.7L143.8,312.2L145.3,311.7L146.8,311.2L148.3,310.6L149.8,310.1L151.3,309.6L152.8,309.3L154.3,309.2L155.8,309.4L157.3,310.1L158.8,311.1L160.3,312.1L161.8,313.2L163.3,314.7L164.8,316.1L166.3,317.1L167.8,317L169.3,315.6L170.8,314.1L172.3,313.5L173.8,314.1L175.3,314.9L176.8,314.7L178.3,313.5L179.8,311.9L181.3,310.3L182.8,309.3L184.3,309.2L185.8,309.4L187.3,309.7L188.8,310L190.3,310.3L191.8,310.5L193.3,310.6L194.8,310.7L196.3,310.8L197.8,311L199.3,311.8L200.8,313L202.3,314.3L203.8,315.5L205.3,316.4L206.8,316.7L208.3,316.4L209.8,315.7L211.3,314.9L212.8,314.4L214.3,314.1L215.8,314L217.3,313.9L218.8,313.8L220.3,313.8L221.8,313.7L223.3,313.7L224.8,313.8L226.3,314L227.8,314.4L229.3,314.7L230.8,314.9L232.3,314.8L233.8,314.3L235.3,313.5L236.8,312.6L238.3,311.8L239.8,311.2L241.3,310.9L242.8,311L244.3,311.2L245.8,311.5L247.3,311.8L248.8,312.2L250.3,312.6L251.8,313L253.3,313.5L254.8,314.2L256.3,314.8L257.8,315.4L259.3,315.9L260.8,316.2L262.3,316.2L263.8,315.8L265.3,315.1L266.8,314.3L268.3,313.4L269.8,312.5L271.3,311.6L272.8,310.9L274.3,310.5L275.8,310.4L277.3,310.6L278.8,310.8L280.3,311.2L281.8,311.4L283.3,311.6L284.8,311.7L286.3,311.5L287.8,311.2L289.3,310.9L290.8,310.6L292.3,310.4L293.8,310.5L295.3,310.9L296.8,311.7L298.3,312.5L299.8,313.4L301.3,314L302.8,314.4L304.3,314.8L305.8,315.1L307.3,315.4L308.8,315.6L310.3,315.9L311.8,316.2L313.3,316.6L314.8,317L316.3,317.5L317.8,317.8L319.3,318L320.8,317.7L322.3,316.9L323.8,315.7L325.3,314.6L326.8,313.8L328.3,313.4L329.8,314.1L331.3,315.6L332.8,317.1L334.3,317.9L335.8,317.8L337.3,317.3L338.8,316.5L340.3,315.7L341.8,314.9L343.3,314.4L344.8,314.2L346.3,314.2L347.8,314.2L349.3,314.2L350.8,314.2L352.3,314.2L353.8,314.5L355.3,315.1L356.8,315.8L358.3,316.7L359.8,317.4L361.3,317.9L362.8,318L364.3,317.8L365.8,317.4L367.3,316.9L368.8,316.4L370.3,316L371.8,315.6L373.3,315.5L374.8,315.6L376.3,316.3L377.8,317.4L379.3,318.7L380.8,320L382.3,321.3L383.8,322.3L385.3,322.9L386.8,323L388.3,322.9L389.8,322.7L391.3,322.5L392.8,322.2L394.3,321.9L395.8,321.5L397.3,320.6L398.8,319.6L400.3,318.9L401.8,318.8L403.3,319.2L404.8,320.1L406.3,321.1L407.8,322L409.3,322.7L410.8,323.2L412.3,323.7L413.8,324.2L415.3,324.6L416.8,325.1L418.3,325.5L419.8,325.9L421.3,326.4L422.8,326.9L424.3,327.4L425.8,328L427.3,328.7L428.8,329.3L430.3,329.7L431.8,330L433.3,330L434.8,329.7L436.3,329.1L437.8,328.5L439.3,328.1L440.8,328.1L442.3,328.3L443.8,328.8L445.3,329.3L446.8,329.9L448.3,330.5L449.8,330.9L451.3,331.1L452.8,330.8L454.3,330.2L455.8,330.1L457.3,330.3L458.8,330.7L460.3,331.3L461.8,332L463.3,332.8L464.8,333.5L466.3,334.2L467.8,334.7L469.3,335L470.8,335.1L472.3,335.1L473.8,335.1L475.3,335.1L476.8,335.1L478.3,335.1L479.8,335.1L481.3,335.3L482.8,335.6L484.3,336L485.8,336.6L487.3,337.2L488.8,337.8L490.3,338.4L491.8,338.9L493.3,339.4L494.8,339.9L496.3,340.3L497.8,340.7L499.3,341.1L500.8,341.5L502.3,342L503.8,342.5L505.3,343L506.8,343.6L508.3,344.3L509.8,345L511.3,345.8L512.8,346.6L514.3,347.7L515.8,349.3L517.3,350.8L518.8,351.8L520.3,351.9L521.8,351.5L523.3,350.9L524.8,350.7L526.3,351.2L527.8,352.1L529.3,353.4L530.8,354.9L532.3,356.2L533.8,357.3L535.3,358.3L536.8,359.5L538.3,360.4L539.8,361.1L541.3,361.3L542.8,360.8L544.3,360.1L545.8,359.3L547.3,359L548.8,359.2L550.3,359.6L551.8,360.1L553.3,360.8L554.8,361.5L556.3,362.1L557.8,363.1L559.3,364.2L560.8,365.1L562.3,365.4L563.8,365.5L565.3,365.5L566.8,365.6L568.3,365.6L569.8,365.7L571.3,365.8L572.8,366L574.3,366.6L575.8,367.5L577.3,368.4L578.8,369.5L580.3,370.8L581.8,372L583.3,373.1L584.8,374L586.3,374.8L587.8,375.6L589.3,376.4L590.8,377.2L592.3,377.9L593.8,378.5L595.3,379.2L596.8,379.7L598.3,380.2L599.8,380.6L601.3,380.9L602.8,381.2L604.3,381.4L605.8,381.7L607.3,382L608.8,382.2L610.3,382.4L611.8,382.7L613.3,382.9L614.8,383.1L616.3,383.4L617.8,383.6L619.3,383.8L620.8,384L622.3,384.2L623.8,384.4L625.3,384.6L626.8,384.8L628.3,385L629.8,385.2L631.3,385.4L632.8,385.6L634.3,385.7L635.8,385.9L637.3,386.1L638.8,386.3L640.3,386.4L641.8,386.6L643.3,386.7L644.8,386.9L646.3,387L647.8,387.2L649.3,387.3L650.8,387.4L652.3,387.6L653.8,387.7L655.3,387.8L656.8,387.9L658.3,388L659.8,388.2L661.3,388.3L662.8,388.4L664.3,388.5L665.8,388.6L667.3,388.7L668.8,388.8L670.3,388.9L671.8,388.9L673.3,389L674.8,389.1L676.3,389.2L677.8,389.3L679.3,389.3L680.8,389.4L682.3,389.5L683.8,389.5L685.3,389.6L686.8,389.6L688.3,389.7L689.8,389.7L691.3,389.8L692.8,389.8L694.3,389.9L695.8,389.9L697.3,389.9L698.8,390L700.3,390L701.8,390L703.3,390.1L704.8,390.1L706.3,390.1L707.8,390.2L709.3,390.2L710.8,390.2L712.3,390.2L713.8,390.3L715.3,390.3L716.8,390.3L718.3,390.3L719.8,390.4L721.3,390.4L722.8,390.4L724.3,390.5L725.8,390.5L727.3,390.5L728.8,390.5L730.3,390.6L731.8,390.6L733.3,390.6L734.8,390.6L736.3,390.7L737.8,390.7L739.3,390.7L740.8,390.7L742.3,390.8L743.8,390.8L745.3,390.8L746.8,390.8L748.3,390.8L749.8,390.9L751.3,390.9L752.8,390.9L754.3,390.9L755.8,391L757.3,391L758.8,391L760.3,391L761.8,391L763.3,391.1L764.8,391.1L766.3,391.1L767.8,391.1L769.3,391.1L770.8,391.2L772.3,391.2L773.8,391.2L775.3,391.2L776.8,391.2L778.3,391.3L779.8,391.3L781.3,391.3L782.8,391.3L784.3,391.3L785.8,391.3L787.3,391.4L788.8,391.4L790.3,391.4L791.8,391.4L793.3,391.4L794.8,391.4L796.3,391.5L797.8,391.5L799.3,391.5L800.8,391.5L802.3,391.5L803.8,391.5L805.3,391.5L806.8,391.6L808.3,391.6L809.8,391.6L811.3,391.6L812.8,391.6L814.3,391.6L815.8,391.6L817.3,391.7L818.8,391.7L820.3,391.7L821.8,391.7L823.3,391.7L824.8,391.7L826.3,391.7L827.8,391.7L829.3,391.7L830.8,391.8L832.3,391.8L833.8,391.8L835.3,391.8L836.8,391.8L838.3,391.8L839.8,391.8L841.3,391.8L842.8,391.8L844.3,391.8L845.8,391.9L847.3,391.9L848.8,391.9L850.3,391.9L851.8,391.9L853.3,391.9L854.8,391.9L856.3,391.9L857.8,391.9L859.3,391.9L860.8,391.9L862.3,391.9L863.8,391.9L865.3,391.9L866.8,391.9L868.3,391.9L869.8,392L871.3,392L872.8,392L874.3,392L875.8,392L877.3,392L878.8,392L880.3,392L881.8,392L883.3,392L884.8,392L886.3,392L887.8,392L889.3,392L890.8,392L892.3,392L893.8,392L895.3,392L896.8,392L898.3,392L899.8,392L901.3,392L902.8,392L904.3,392L905.8,391.9L907.3,391.9L908.8,391.9L910.3,391.8L911.8,391.7L913.3,391.7L914.8,391.6L916.3,391.5L917.8,391.4L919.3,391.3L920.8,391.2L922.3,391.1L923.8,390.9L925.3,390.8L926.8,390.6L928.3,390.5L929.8,390.3L931.3,390.1L932.8,389.9L934.3,389.8L935.8,389.5L937.3,389.3L938.8,389.1L940.3,388.9L941.8,388.6L943.3,388.4L944.8,388.1L946.3,387.9L947.8,387.6L949.3,387.3L950.8,387L952.3,386.7L953.8,386.4L955.3,386.1L956.8,385.7L958.3,385.4L959.8,385L961.3,384.6L962.8,383.7L964.3,382.7L965.8,381.4L967.3,380L968.8,378.4L970.3,376.9L971.8,375.4L973.3,373.9L974.8,372.7L976.3,371.6L977.8,370.7L979.3,369.7L980.8,368.9L982.3,368.2L983.8,367.7L985.3,367.4L986.8,367.1L988.3,366.9L989.8,366.7L991.3,366.5L992.8,366.4L994.3,366.2L995.8,366.1L997.3,366L998.8,365.9L1000.3,365.8L1001.8,365.6L1003.3,365.5L1004.8,365.4L1006.3,365.3L1007.8,365.2L1009.3,365.1L1010.8,365.1L1012.3,365.1L1013.8,365.2L1015.3,365.3L1016.8,365.6L1018.3,365.9L1019.8,366.1L1021.3,366.3L1022.8,366.5L1024.3,366.6L1025.8,366.5L1027.3,366.3L1028.8,366L1030.3,365.6L1031.8,365.2L1033.3,364.8L1034.8,364.4L1036.3,364L1037.8,363.7L1039.3,363.4L1040.8,363L1042.3,362.7L1043.8,362.3L1045.3,362L1046.8,361.7L1048.3,361.4L1049.8,361.2L1051.3,361L1052.8,360.9L1054.3,360.8L1055.8,360.8L1057.3,360.9L1058.8,361.1L1060.3,361.3L1061.8,361.5L1063.3,361.7L1064.8,361.9L1066.3,362L1067.8,362L1069.3,361.5L1070.8,360.6L1072.3,359.5L1073.8,358.6L1075.3,358.3L1076.8,358.5L1078.3,359L1079.8,359.6L1081.3,360.1L1082.8,360.3L1084.3,360.3L1085.8,360.2L1087.3,360.1L1088.8,359.9L1090.3,359.8L1091.8,359.6L1093.3,359.5L1094.8,359.3L1096.3,359L1097.8,358.8L1099.3,358.6L1100.8,358.4L1102.3,358.3L1103.8,358.3L1105.3,358.3L1106.8,358.4L1108.3,358.4L1109.8,358.5L1111.3,358.6L1112.8,358.6L1114.3,358.7L1115.8,358.8L1117.3,358.8L1118.8,358.8L1120.3,358.7L1121.8,358.5L1123.3,358.3L1124.8,358L1126.3,357.8L1127.8,357.5L1129.3,357.3L1130.8,357.1L1132.3,357L1133.8,357L1135.3,357.1L1136.8,357.1L1138.3,357.2L1139.8,357.3L1141.3,357.4L1142.8,357.6L1144.3,357.6L1145.8,357.7L1147.3,357.8L1148.8,357.8L1150.3,357.7L1151.8,357.5L1153.3,357.3L1154.8,357.1L1156.3,356.9L1157.8,356.7L1159.3,356.6L1160.8,356.5L1162.3,356.5L1163.8,356.6L1165.3,356.6L1166.8,356.7L1168.3,356.8L1169.8,356.8L1171.3,356.9L1172.8,357L1174.3,357L1175.8,357L1177.3,356.9L1178.8,356.6L1180.3,356.2L1181.8,355.9L1183.3,355.8L1184.8,355.8L1186.3,356.1L1187.8,356.5L1189.3,356.9L1190.8,357.3L1192.3,357.6L1193.8,357.8L1195.3,357.9L1196.8,358L1198.3,358L1199.8,358.1L1201.3,358.1L1202.8,358.2L1204.3,358.2L1205.8,358.3L1207.3,358.3L1208.8,358.3L1210.3,358.2L1211.8,358.1L1213.3,358L1214.8,357.8L1216.3,357.6L1217.8,357.4L1219.3,357.2L1220.8,357.1L1222.3,356.9L1223.8,356.7L1225.3,356.5L1226.8,356.4L1228.3,356.2L1229.8,356L1231.3,355.8L1232.8,355.7L1234.3,355.6L1235.8,355.5L1237.3,355.5L1238.8,355.4L1240.3,355.4L1241.8,355.4L1243.3,355.4L1244.8,355.4L1246.3,355.3L1247.8,355.3L1249.3,355.3L1250.8,355.3L1252.3,355.2L1253.8,355.1L1255.3,355.1L1256.8,354.9L1258.3,354.8L1259.8,354.7L1261.3,354.6L1262.8,354.4L1264.3,354.3L1265.8,354.3L1267.3,354.2L1268.8,354.2L1270.3,354.1L1271.8,354.1L1273.3,354.1L1274.8,354.1L1276.3,354L1277.8,354L1279.3,354L1280.8,354L1282.3,354L1283.8,354L1285.3,354.1L1286.8,354.1L1288.3,354.2L1289.8,354.2L1291.3,354.2L1292.8,354.2L1294.3,354.1L1295.8,353.9L1297.3,353.6L1298.8,353.5L1299.2,353.5L1299.5,345L1320,345L1320,500L50,500Z"/>
<path fill="#85216b" d="M50,332.1L68.3,332.1L68.8,346.9L70.3,347.1L71.8,347.2L73.3,347.3L74.8,347.4L76.3,347.4L77.8,347.4L79.3,347.4L80.8,347.2L82.3,347L83.8,346.8L85.3,346.5L86.8,346.3L88.3,346L89.8,345.9L91.3,345.7L92.8,345.7L94.3,345.8L95.8,345.9L97.3,346.2L98.8,346.5L100.3,346.8L101.8,347.1L103.3,347.3L104.8,347.4L106.3,347.4L107.8,347L109.3,346.5L110.8,345.8L112.3,345.2L113.8,344.7L115.3,344.4L116.8,344.3L118.3,344.3L119.8,344.2L121.3,344.2L122.8,344.2L124.3,344.1L125.8,344.1L127.3,344.1L128.8,344.1L130.3,344L131.8,344L133.3,343.9L134.8,343.8L136.3,343.7L137.8,343.6L139.3,343.5L140.8,343.4L142.3,343.2L143.8,343.1L145.3,342.9L146.8,342.7L148.3,342.5L149.8,342.3L151.3,342.1L152.8,342L154.3,341.9L155.8,342L157.3,342.2L158.8,342.5L160.3,342.9L161.8,343.3L163.3,343.7L164.8,344L166.3,344.3L167.8,344.4L169.3,344.4L170.8,344.2L172.3,343.9L173.8,343.5L175.3,343.1L176.8,342.8L178.3,342.4L179.8,342.1L181.3,341.8L182.8,341.4L184.3,341.1L185.8,340.9L187.3,340.7L188.8,340.6L190.3,340.7L191.8,340.8L193.3,340.9L194.8,341.1L196.3,341.3L197.8,341.5L199.3,341.8L200.8,342.2L202.3,342.6L203.8,342.9L205.3,343.1L206.8,343.2L208.3,343.1L209.8,343.1L211.3,343.1L212.8,343.1L214.3,343L215.8,343L217.3,342.9L218.8,342.9L220.3,342.8L221.8,342.7L223.3,342.7L224.8,342.6L226.3,342.5L227.8,342.3L229.3,342.2L230.8,342L232.3,341.8L233.8,341.7L235.3,341.5L236.8,341.4L238.3,341.2L239.8,341.2L241.3,341.1L242.8,341.2L244.3,341.3L245.8,341.5L247.3,341.7L248.8,342L250.3,342.2L251.8,342.5L253.3,342.7L254.8,343L256.3,343.3L257.8,343.6L259.3,343.8L260.8,343.9L262.3,343.8L263.8,343.4L265.3,342.7L266.8,341.8L268.3,341L269.8,340.3L271.3,339.5L272.8,338.6L274.3,337.9L275.8,337.4L277.3,337.4L278.8,337.6L280.3,337.9L281.8,338.3L283.3,338.8L284.8,339.1L286.3,339.4L287.8,339.4L289.3,339.5L290.8,339.5L292.3,339.6L293.8,339.7L295.3,339.9L296.8,340L298.3,340.2L299.8,340.3L301.3,340.4L302.8,340.5L304.3,340.6L305.8,340.7L307.3,340.7L308.8,340.7L310.3,340.6L311.8,340.6L313.3,340.5L314.8,340.5L316.3,340.4L317.8,340.4L319.3,340.3L320.8,340.2L322.3,340L323.8,339.8L325.3,339.6L326.8,339.5L328.3,339.5L329.8,340L331.3,340.6L332.8,341.3L334.3,341.7L335.8,341.4L337.3,340.7L338.8,340L340.3,339.5L341.8,339.4L343.3,339.3L344.8,339.2L346.3,339.2L347.8,339.2L349.3,339.3L350.8,339.6L352.3,340.1L353.8,340.7L355.3,341.2L356.8,341.6L358.3,341.8L359.8,342L361.3,342.1L362.8,342.2L364.3,342.3L365.8,342.4L367.3,342.5L368.8,342.6L370.3,342.8L371.8,343.1L373.3,343.4L374.8,343.8L376.3,344.2L377.8,344.6L379.3,345.1L380.8,345.6L382.3,346.1L383.8,346.6L385.3,347L386.8,347.3L388.3,347.5L389.8,347.6L391.3,347.6L392.8,347.6L394.3,347.6L395.8,347.6L397.3,347.6L398.8,347.6L400.3,347.6L401.8,347.6L403.3,347.6L404.8,347.6L406.3,347.7L407.8,347.9L409.3,348.2L410.8,348.6L412.3,349L413.8,349.4L415.3,349.8L416.8,350.2L418.3,350.5L419.8,350.9L421.3,351.1L422.8,351.4L424.3,351.7L425.8,352L427.3,352.3L428.8,352.7L430.3,353.1L431.8,353.5L433.3,353.9L434.8,354.6L436.3,355.5L437.8,356.5L439.3,357.3L440.8,358.1L442.3,358.4L443.8,358.5L445.3,358.5L446.8,358.4L448.3,358.3L449.8,358.3L451.3,358.2L452.8,358.1L454.3,358.1L455.8,358L457.3,358L458.8,358L460.3,358L461.8,358.1L463.3,358.2L464.8,358.3L466.3,358.5L467.8,358.7L469.3,358.9L470.8,359.1L472.3,359.3L473.8,359.5L475.3,359.7L476.8,360L478.3,360.4L479.8,360.8L481.3,361.3L482.8,361.7L484.3,362L485.8,362.4L487.3,362.7L488.8,363L490.3,363.3L491.8,363.6L493.3,363.8L494.8,363.9L496.3,363.8L497.8,363.5L499.3,363.2L500.8,362.8L502.3,362.6L503.8,362.5L505.3,362.7L506.8,363L508.3,363.5L509.8,364.1L511.3,364.9L512.8,365.9L514.3,366.9L515.8,367.9L517.3,369.2L518.8,370.7L520.3,372.3L521.8,373.8L523.3,375.2L524.8,376.6L526.3,377.9L527.8,379.2L529.3,380.2L530.8,381L532.3,381.7L533.8,382.4L535.3,383.1L536.8,383.8L538.3,384.5L539.8,385.1L541.3,385.7L542.8,386.3L544.3,386.9L545.8,387.4L547.3,387.8L548.8,388.3L550.3,388.7L551.8,389L553.3,389.3L554.8,389.6L556.3,389.8L557.8,389.9L559.3,390L560.8,390L562.3,390L563.8,390L565.3,390.1L566.8,390.1L568.3,390.1L569.8,390.1L571.3,390.1L572.8,390.2L574.3,390.2L575.8,390.2L577.3,390.2L578.8,390.2L580.3,390.2L581.8,390.3L583.3,390.3L584.8,390.3L586.3,390.3L587.8,390.3L589.3,390.3L590.8,390.4L592.3,390.4L593.8,390.4L595.3,390.4L596.8,390.4L598.3,390.4L599.8,390.5L601.3,390.5L602.8,390.5L604.3,390.5L605.8,390.5L607.3,390.5L608.8,390.6L610.3,390.6L611.8,390.6L613.3,390.6L614.8,390.6L616.3,390.6L617.8,390.6L619.3,390.7L620.8,390.7L622.3,390.7L623.8,390.7L625.3,390.7L626.8,390.7L628.3,390.7L629.8,390.8L631.3,390.8L632.8,390.8L634.3,390.8L635.8,390.8L637.3,390.8L638.8,390.8L640.3,390.8L641.8,390.9L643.3,390.9L644.8,390.9L646.3,390.9L647.8,390.9L649.3,390.9L650.8,390.9L652.3,390.9L653.8,391L655.3,391L656.8,391L658.3,391L659.8,391L661.3,391L662.8,391L664.3,391L665.8,391.1L667.3,391.1L668.8,391.1L670.3,391.1L671.8,391.1L673.3,391.1L674.8,391.1L676.3,391.1L677.8,391.1L679.3,391.2L680.8,391.2L682.3,391.2L683.8,391.2L685.3,391.2L686.8,391.2L688.3,391.2L689.8,391.2L691.3,391.2L692.8,391.2L694.3,391.3L695.8,391.3L697.3,391.3L698.8,391.3L700.3,391.3L701.8,391.3L703.3,391.3L704.8,391.3L706.3,391.3L707.8,391.3L709.3,391.3L710.8,391.4L712.3,391.4L713.8,391.4L715.3,391.4L716.8,391.4L718.3,391.4L719.8,391.4L721.3,391.4L722.8,391.4L724.3,391.4L725.8,391.4L727.3,391.5L728.8,391.5L730.3,391.5L731.8,391.5L733.3,391.5L734.8,391.5L736.3,391.5L737.8,391.5L739.3,391.5L740.8,391.5L742.3,391.5L743.8,391.5L745.3,391.5L746.8,391.5L748.3,391.6L749.8,391.6L751.3,391.6L752.8,391.6L754.3,391.6L755.8,391.6L757.3,391.6L758.8,391.6L760.3,391.6L761.8,391.6L763.3,391.6L764.8,391.6L766.3,391.6L767.8,391.6L769.3,391.6L770.8,391.7L772.3,391.7L773.8,391.7L775.3,391.7L776.8,391.7L778.3,391.7L779.8,391.7L781.3,391.7L782.8,391.7L784.3,391.7L785.8,391.7L787.3,391.7L788.8,391.7L790.3,391.7L791.8,391.7L793.3,391.7L794.8,391.7L796.3,391.7L797.8,391.7L799.3,391.8L800.8,391.8L802.3,391.8L803.8,391.8L805.3,391.8L806.8,391.8L808.3,391.8L809.8,391.8L811.3,391.8L812.8,391.8L814.3,391.8L815.8,391.8L817.3,391.8L818.8,391.8L820.3,391.8L821.8,391.8L823.3,391.8L824.8,391.8L826.3,391.8L827.8,391.8L829.3,391.8L830.8,391.8L832.3,391.8L833.8,391.8L835.3,391.9L836.8,391.9L838.3,391.9L839.8,391.9L841.3,391.9L842.8,391.9L844.3,391.9L845.8,391.9L847.3,391.9L848.8,391.9L850.3,391.9L851.8,391.9L853.3,391.9L854.8,391.9L856.3,391.9L857.8,391.9L859.3,391.9L860.8,391.9L862.3,391.9L863.8,391.9L865.3,391.9L866.8,391.9L868.3,391.9L869.8,391.9L871.3,391.9L872.8,391.9L874.3,391.9L875.8,391.9L877.3,391.9L878.8,391.9L880.3,391.9L881.8,391.9L883.3,391.9L884.8,391.9L886.3,391.9L887.8,391.9L889.3,391.9L890.8,391.9L892.3,391.9L893.8,391.9L895.3,392L896.8,392L898.3,392L899.8,392L901.3,392L902.8,392L904.3,392L905.8,392L907.3,392L908.8,392L910.3,392L911.8,392L913.3,392L914.8,392L916.3,392L917.8,392L919.3,392L920.8,392L922.3,392L923.8,392L925.3,392L926.8,392L928.3,392L929.8,392L931.3,392L932.8,392L934.3,392L935.8,392L937.3,392L938.8,392L940.3,392L941.8,392L943.3,392L944.8,392L946.3,392L947.8,392L949.3,392L950.8,392L952.3,392L953.8,392L955.3,392L956.8,392L958.3,392L959.8,392L961.3,392L962.8,392L964.3,392L965.8,392L967.3,392L968.8,392L970.3,392L971.8,392L973.3,392L974.8,392L976.3,392L977.8,392L979.3,392L980.8,392L982.3,392L983.8,392L985.3,392L986.8,392L988.3,392L989.8,392L991.3,392L992.8,392L994.3,392L995.8,392L997.3,392L998.8,392L1000.3,392L1001.8,392L1003.3,392L1004.8,391.9L1006.3,391.9L1007.8,391.8L1009.3,391.7L1010.8,391.6L1012.3,391.5L1013.8,391.4L1015.3,391.2L1016.8,391.1L1018.3,390.9L1019.8,390.7L1021.3,390.5L1022.8,390.3L1024.3,390.1L1025.8,389.8L1027.3,389.6L1028.8,389.3L1030.3,389L1031.8,388.7L1033.3,388.3L1034.8,388L1036.3,387.7L1037.8,387.3L1039.3,386.9L1040.8,386.5L1042.3,386.1L1043.8,385.7L1045.3,385.2L1046.8,384.7L1048.3,384.3L1049.8,383.8L1051.3,383.3L1052.8,382.7L1054.3,382.2L1055.8,381.6L1057.3,381.1L1058.8,380.5L1060.3,379.9L1061.8,378.6L1063.3,376.8L1064.8,374.6L1066.3,372.4L1067.8,370.5L1069.3,369.2L1070.8,368.7L1072.3,368.3L1073.8,368L1075.3,367.9L1076.8,367.9L1078.3,368.1L1079.8,368.5L1081.3,368.9L1082.8,369.1L1084.3,369.2L1085.8,369.3L1087.3,369.4L1088.8,369.4L1090.3,369.5L1091.8,369.5L1093.3,369.6L1094.8,369.6L1096.3,369.6L1097.8,369.6L1099.3,369.6L1100.8,369.6L1102.3,369.6L1103.8,369.5L1105.3,369.5L1106.8,369.4L1108.3,369.3L1109.8,369.2L1111.3,369.1L1112.8,368.8L1114.3,368.3L1115.8,368.1L1117.3,368.4L1118.8,368.9L1120.3,369.1L1121.8,369L1123.3,368.7L1124.8,368.3L1126.3,367.9L1127.8,367.6L1129.3,367.4L1130.8,367.2L1132.3,367L1133.8,366.9L1135.3,366.8L1136.8,367.1L1138.3,367.7L1139.8,368.2L1141.3,368.3L1142.8,368.1L1144.3,367.9L1145.8,367.6L1147.3,367.4L1148.8,367.3L1150.3,367.3L1151.8,367.3L1153.3,367.3L1154.8,367.3L1156.3,367.3L1157.8,367.3L1159.3,367.3L1160.8,367.3L1162.3,367.6L1163.8,368.2L1165.3,368.6L1166.8,368.5L1168.3,368.2L1169.8,367.7L1171.3,367.2L1172.8,366.9L1174.3,366.8L1175.8,366.8L1177.3,366.7L1178.8,366.7L1180.3,366.6L1181.8,366.6L1183.3,366.6L1184.8,366.6L1186.3,366.6L1187.8,366.8L1189.3,367.1L1190.8,367.5L1192.3,367.9L1193.8,368.1L1195.3,368.3L1196.8,368.5L1198.3,368.7L1199.8,368.8L1201.3,369L1202.8,369.1L1204.3,369.1L1205.8,369.1L1207.3,369L1208.8,368.9L1210.3,368.7L1211.8,368.5L1213.3,368.2L1214.8,368L1216.3,367.8L1217.8,367.6L1219.3,367.4L1220.8,367.1L1222.3,366.9L1223.8,366.6L1225.3,366.4L1226.8,366.1L1228.3,366L1229.8,365.9L1231.3,365.8L1232.8,365.9L1234.3,365.9L1235.8,366L1237.3,366.1L1238.8,366.2L1240.3,366.3L1241.8,366.4L1243.3,366.5L1244.8,366.6L1246.3,366.6L1247.8,366.6L1249.3,366.6L1250.8,366.6L1252.3,366.6L1253.8,366.6L1255.3,366.6L1256.8,366.6L1258.3,366.6L1259.8,366.6L1261.3,366.6L1262.8,366.6L1264.3,366.6L1265.8,366.5L1267.3,366.5L1268.8,366.4L1270.3,366.4L1271.8,366.3L1273.3,366.2L1274.8,366.2L1276.3,366.1L1277.8,366L1279.3,365.9L1280.8,365.9L1282.3,365.8L1283.8,365.7L1285.3,365.5L1286.8,365.4L1288.3,365.3L1289.8,365.2L1291.3,365L1292.8,364.9L1294.3,364.7L1295.8,364.6L1297.3,364.4L1298.8,364.3L1299.2,364.3L1299.5,361.3L1320,361.3L1320,500L50,500Z"/>
<path fill="#781c6d" d="M50,360.8L68.3,360.8L68.8,365.8L70.3,365.8L71.8,365.8L73.3,365.8L74.8,365.8L76.3,365.8L77.8,365.8L79.3,365.7L80.8,365.5L82.3,365.3L83.8,365.1L85.3,365.1L86.8,365.1L88.3,365.2L89.8,365.3L91.3,365.4L92.8,365.6L94.3,365.7L95.8,365.8L97.3,365.8L98.8,365.8L100.3,365.8L101.8,365.8L103.3,365.8L104.8,365.8L106.3,365.8L107.8,365.8L109.3,365.7L110.8,365.3L112.3,364.8L113.8,364.4L115.3,364.1L116.8,364L118.3,363.9L119.8,363.8L121.3,363.7L122.8,363.6L124.3,363.5L125.8,363.5L127.3,363.4L128.8,363.4L130.3,363.3L131.8,363.3L133.3,363.3L134.8,363.4L136.3,363.5L137.8,363.7L139.3,363.9L140.8,364.2L142.3,364.4L143.8,364.5L145.3,364.6L146.8,364.6L148.3,364.5L149.8,364.5L151.3,364.5L152.8,364.4L154.3,364.3L155.8,364.2L157.3,364.1L158.8,364L160.3,363.9L161.8,363.6L163.3,363.1L164.8,362.5L166.3,362.1L167.8,362.1L169.3,362.1L170.8,362.2L172.3,362.4L173.8,362.5L175.3,362.7L176.8,362.8L178.3,362.8L179.8,362.7L181.3,362.5L182.8,362.2L184.3,361.9L185.8,361.6L187.3,361.4L188.8,361.3L190.3,361.4L191.8,361.5L193.3,361.6L194.8,361.8L196.3,362L197.8,362.1L199.3,362.3L200.8,362.4L202.3,362.6L203.8,362.7L205.3,362.8L206.8,362.8L208.3,362.8L209.8,362.7L211.3,362.7L212.8,362.6L214.3,362.6L215.8,362.5L217.3,362.4L218.8,362.3L220.3,362.2L221.8,362.1L223.3,362.1L224.8,362L226.3,361.9L227.8,361.8L229.3,361.8L230.8,361.7L232.3,361.6L233.8,361.5L235.3,361.4L236.8,361.4L238.3,361.3L239.8,361.3L241.3,361.3L242.8,361.3L244.3,361.4L245.8,361.5L247.3,361.7L248.8,361.8L250.3,362L251.8,362.1L253.3,362.2L254.8,362.3L256.3,362.4L257.8,362.5L259.3,362.5L260.8,362.6L262.3,362.5L263.8,362.5L265.3,362.4L266.8,362.2L268.3,362.1L269.8,361.9L271.3,361.7L272.8,361.5L274.3,361.3L275.8,361L277.3,360.7L278.8,360.3L280.3,360L281.8,359.7L283.3,359.6L284.8,359.6L286.3,360.1L287.8,360.8L289.3,361.3L290.8,361.3L292.3,361.1L293.8,360.6L295.3,360.2L296.8,359.7L298.3,359.3L299.8,359.2L301.3,359.2L302.8,359.2L304.3,359.2L305.8,359.3L307.3,359.3L308.8,359.4L310.3,359.5L311.8,359.5L313.3,359.6L314.8,359.6L316.3,359.6L317.8,359.7L319.3,359.7L320.8,359.6L322.3,359.6L323.8,359.6L325.3,359.5L326.8,359.5L328.3,359.4L329.8,359.4L331.3,359.3L332.8,359.3L334.3,359.2L335.8,359.2L337.3,359.2L338.8,359.2L340.3,359.2L341.8,359.2L343.3,359.2L344.8,359.2L346.3,359.2L347.8,359.3L349.3,359.3L350.8,359.4L352.3,359.4L353.8,359.5L355.3,359.6L356.8,359.6L358.3,359.8L359.8,360.1L361.3,360.5L362.8,361L364.3,361.5L365.8,362L367.3,362.4L368.8,362.8L370.3,363L371.8,363.1L373.3,363.1L374.8,363.2L376.3,363.2L377.8,363.2L379.3,363.3L380.8,363.3L382.3,363.3L383.8,363.3L385.3,363.4L386.8,363.4L388.3,363.4L389.8,363.5L391.3,363.6L392.8,363.7L394.3,363.8L395.8,364L397.3,364.2L398.8,364.3L400.3,364.5L401.8,364.6L403.3,364.7L404.8,364.7L406.3,364.2L407.8,363.9L409.3,363.9L410.8,364L412.3,364.2L413.8,364.4L415.3,364.6L416.8,364.8L418.3,365L419.8,365.2L421.3,365.4L422.8,365.5L424.3,365.5L425.8,365.5L427.3,365.5L428.8,365.5L430.3,365.5L431.8,365.5L433.3,365.6L434.8,366.3L436.3,367.5L437.8,368.7L439.3,370.2L440.8,371.8L442.3,373.3L443.8,375L445.3,376.6L446.8,378.2L448.3,379.6L449.8,380.8L451.3,381.8L452.8,382.8L454.3,383.9L455.8,384.9L457.3,385.9L458.8,386.9L460.3,387.8L461.8,388.7L463.3,389.6L464.8,390.4L466.3,391.2L467.8,391.9L469.3,392.6L470.8,393.2L472.3,393.7L473.8,394.1L475.3,394.5L476.8,394.8L478.3,394.9L479.8,395L481.3,395L482.8,395L484.3,395L485.8,395L487.3,395L488.8,395L490.3,395L491.8,395L493.3,395L494.8,395L496.3,395L497.8,395L499.3,395L500.8,395L502.3,395L503.8,395L505.3,395L506.8,395L508.3,395L509.8,395L511.3,395L512.8,395L514.3,395L515.8,395L517.3,395L518.8,395L520.3,395L521.8,395L523.3,395L524.8,395L526.3,395L527.8,395L529.3,395L530.8,395L532.3,395L533.8,395L535.3,395L536.8,395L538.3,395L539.8,395L541.3,395L542.8,395L544.3,395L545.8,395L547.3,395L548.8,395L550.3,395L551.8,395L553.3,395L554.8,395L556.3,395L557.8,395L559.3,395L560.8,395L562.3,395L563.8,395L565.3,395L566.8,395L568.3,395L569.8,395L571.3,395L572.8,395L574.3,395L575.8,395L577.3,395L578.8,395L580.3,395L581.8,395L583.3,395L584.8,395L586.3,395L587.8,395L589.3,395L590.8,395L592.3,395L593.8,395L595.3,395L596.8,395L598.3,395L599.8,395L601.3,395L602.8,395L604.3,395L605.8,395L607.3,395L608.8,395L610.3,395L611.8,395L613.3,395L614.8,395L616.3,395L617.8,395L619.3,395L620.8,395L622.3,395L623.8,395L625.3,395L626.8,395L628.3,395L629.8,395L631.3,395L632.8,395L634.3,395L635.8,395L637.3,395L638.8,395L640.3,395L641.8,395L643.3,395L644.8,395L646.3,395L647.8,395L649.3,395L650.8,395L652.3,395L653.8,395L655.3,395L656.8,395L658.3,395L659.8,395L661.3,395L662.8,395L664.3,395L665.8,395L667.3,395L668.8,395L670.3,395L671.8,395L673.3,395L674.8,395L676.3,395L677.8,395L679.3,395L680.8,395L682.3,395L683.8,395L685.3,395L686.8,395L688.3,395L689.8,395L691.3,395L692.8,395L694.3,395L695.8,395L697.3,395L698.8,395L700.3,395L701.8,395L703.3,395L704.8,395L706.3,395L707.8,395L709.3,395L710.8,395L712.3,395L713.8,395L715.3,395L716.8,395L718.3,395L719.8,395L721.3,395L722.8,395L724.3,395L725.8,395L727.3,395L728.8,395L730.3,395L731.8,395L733.3,395L734.8,395L736.3,395L737.8,395L739.3,395L740.8,395L742.3,395L743.8,395L745.3,395L746.8,395L748.3,395L749.8,395L751.3,395L752.8,395L754.3,395L755.8,395L757.3,395L758.8,395L760.3,395L761.8,395L763.3,395L764.8,395L766.3,395L767.8,395L769.3,395L770.8,395L772.3,395L773.8,395L775.3,395L776.8,395L778.3,395L779.8,395L781.3,395L782.8,395L784.3,395L785.8,395L787.3,395L788.8,395L790.3,395L791.8,395L793.3,395L794.8,395L796.3,395L797.8,395L799.3,395L800.8,395L802.3,395L803.8,395L805.3,395L806.8,395L808.3,395L809.8,395L811.3,395L812.8,395L814.3,395L815.8,395L817.3,395L818.8,395L820.3,395L821.8,395L823.3,395L824.8,395L826.3,395L827.8,395L829.3,395L830.8,395L832.3,395L833.8,395L835.3,395L836.8,395L838.3,395L839.8,395L841.3,395L842.8,395L844.3,395L845.8,395L847.3,395L848.8,395L850.3,395L851.8,395L853.3,395L854.8,395L856.3,395L857.8,395L859.3,395L860.8,395L862.3,395L863.8,395L865.3,395L866.8,395L868.3,395L869.8,395L871.3,395L872.8,395L874.3,395L875.8,395L877.3,395L878.8,395L880.3,395L881.8,395L883.3,395L884.8,395L886.3,395L887.8,395L889.3,395L890.8,395L892.3,395L893.8,395L895.3,395L896.8,395L898.3,395L899.8,395L901.3,395L902.8,395L904.3,395L905.8,395L907.3,395L908.8,395L910.3,395L911.8,395L913.3,395L914.8,395L916.3,395L917.8,395L919.3,395L920.8,395L922.3,395L923.8,395L925.3,395L926.8,395L928.3,395L929.8,395L931.3,395L932.8,395L934.3,395L935.8,395L937.3,395L938.8,395L940.3,395L941.8,395L943.3,394.9L944.8,394.9L946.3,394.9L947.8,394.9L949.3,394.9L950.8,394.9L952.3,394.9L953.8,394.9L955.3,394.9L956.8,394.9L958.3,394.9L959.8,394.9L961.3,394.9L962.8,394.9L964.3,394.9L965.8,394.9L967.3,394.9L968.8,394.9L970.3,394.9L971.8,394.9L973.3,394.9L974.8,394.9L976.3,394.8L977.8,394.8L979.3,394.8L980.8,394.8L982.3,394.8L983.8,394.8L985.3,394.8L986.8,394.8L988.3,394.8L989.8,394.8L991.3,394.8L992.8,394.8L994.3,394.8L995.8,394.8L997.3,394.8L998.8,394.7L1000.3,394.7L1001.8,394.7L1003.3,394.7L1004.8,394.7L1006.3,394.7L1007.8,394.7L1009.3,394.7L1010.8,394.7L1012.3,394.7L1013.8,394.7L1015.3,394.7L1016.8,394.6L1018.3,394.6L1019.8,394.6L1021.3,394.6L1022.8,394.6L1024.3,394.6L1025.8,394.6L1027.3,394.6L1028.8,394.6L1030.3,394.6L1031.8,394.6L1033.3,394.6L1034.8,394.5L1036.3,394.5L1037.8,394.5L1039.3,394.5L1040.8,394.5L1042.3,394.5L1043.8,394.5L1045.3,394.5L1046.8,394.5L1048.3,394.5L1049.8,394.4L1051.3,394.4L1052.8,394.4L1054.3,394.4L1055.8,394.4L1057.3,394.4L1058.8,394.4L1060.3,394.4L1061.8,394.4L1063.3,394.3L1064.8,394.3L1066.3,394.3L1067.8,394.3L1069.3,394.3L1070.8,394.3L1072.3,394.3L1073.8,394.3L1075.3,394.3L1076.8,394.2L1078.3,394.2L1079.8,394.2L1081.3,394.2L1082.8,394.2L1084.3,394.2L1085.8,394.2L1087.3,394.2L1088.8,394.1L1090.3,394.1L1091.8,394.1L1093.3,394.1L1094.8,394.1L1096.3,394.1L1097.8,394.1L1099.3,394.1L1100.8,394L1102.3,394L1103.8,394L1105.3,394L1106.8,394L1108.3,394L1109.8,394L1111.3,394L1112.8,393.9L1114.3,393.9L1115.8,393.9L1117.3,393.9L1118.8,393.9L1120.3,393.9L1121.8,393.9L1123.3,393.8L1124.8,393.8L1126.3,393.8L1127.8,393.8L1129.3,393.8L1130.8,393.8L1132.3,393.8L1133.8,393.8L1135.3,393.7L1136.8,393.7L1138.3,393.7L1139.8,393.7L1141.3,393.7L1142.8,393.7L1144.3,393.7L1145.8,393.6L1147.3,393.6L1148.8,393.6L1150.3,393.6L1151.8,393.6L1153.3,393.6L1154.8,393.5L1156.3,393.5L1157.8,393.5L1159.3,393.5L1160.8,393.5L1162.3,393.5L1163.8,393.5L1165.3,393.4L1166.8,393.4L1168.3,393.4L1169.8,393.4L1171.3,393.4L1172.8,393.4L1174.3,393.4L1175.8,393.3L1177.3,393.3L1178.8,393.3L1180.3,393.3L1181.8,393.3L1183.3,393.3L1184.8,393.2L1186.3,393.2L1187.8,393.2L1189.3,393.2L1190.8,393.2L1192.3,393.2L1193.8,393.2L1195.3,393.1L1196.8,393.1L1198.3,393.1L1199.8,393.1L1201.3,393.1L1202.8,393.1L1204.3,393L1205.8,393L1207.3,393L1208.8,393L1210.3,393L1211.8,393L1213.3,392.9L1214.8,392.9L1216.3,392.9L1217.8,392.9L1219.3,392.9L1220.8,392.9L1222.3,392.8L1223.8,392.8L1225.3,392.8L1226.8,392.8L1228.3,392.8L1229.8,392.8L1231.3,392.8L1232.8,392.7L1234.3,392.7L1235.8,392.7L1237.3,392.7L1238.8,392.7L1240.3,392.7L1241.8,392.6L1243.3,392.6L1244.8,392.6L1246.3,392.6L1247.8,392.6L1249.3,392.6L1250.8,392.5L1252.3,392.5L1253.8,392.5L1255.3,392.5L1256.8,392.5L1258.3,392.5L1259.8,392.4L1261.3,392.4L1262.8,392.4L1264.3,392.4L1265.8,392.4L1267.3,392.4L1268.8,392.3L1270.3,392.3L1271.8,392.3L1273.3,392.3L1274.8,392.3L1276.3,392.3L1277.8,392.2L1279.3,392.2L1280.8,392.2L1282.3,392.2L1283.8,392.2L1285.3,392.2L1286.8,392.1L1288.3,392.1L1289.8,392.1L1291.3,392.1L1292.8,392.1L1294.3,392.1L1295.8,392L1297.3,392L1298.8,392L1299.2,392L1299.5,377.2L1320,377.2L1320,500L50,500Z"/>
<path fill="none" d="M314.5,369.2Q318.5,366.6 322.8,369.2"/><path fill="none" d="M523.6,369.2Q526.3,366.8 529,369.2"/>
</g></g>
<g stroke="#000" stroke-width="1.33" fill="none">
<rect x="61.9" y="39.4" width="1243.5" height="370.0"/>
<path d="M61.9,409.4v5.83"/>
<path d="M269.1,409.4v5.83"/>
<path d="M476.4,409.4v5.83"/>
<path d="M683.6,409.4v5.83"/>
<path d="M890.9,409.4v5.83"/>
<path d="M1098.2,409.4v5.83"/>
<path d="M1305.4,409.4v5.83"/>
<path d="M61.9,409.4h-5.83"/>
<path d="M61.9,335.4h-5.83"/>
<path d="M61.9,261.4h-5.83"/>
<path d="M61.9,187.4h-5.83"/>
<path d="M61.9,113.4h-5.83"/>
<path d="M61.9,39.4h-5.83"/>
</g>
<g>
<rect x="1334.9" y="380.2" width="12.6" height="13" fill="#000004"/>
<rect x="1334.9" y="369" width="12.6" height="11.8" fill="#040312"/>
<rect x="1334.9" y="357.8" width="12.6" height="11.8" fill="#0c0826"/>
<rect x="1334.9" y="346.6" width="12.6" height="11.8" fill="#160b39"/>
<rect x="1334.9" y="335.4" width="12.6" height="11.8" fill="#240c4f"/>
<rect x="1334.9" y="324.2" width="12.6" height="11.8" fill="#320a5e"/>
<rect x="1334.9" y="313" width="12.6" height="11.8" fill="#420a68"/>
<rect x="1334.9" y="301.8" width="12.6" height="11.8" fill="#4f0d6c"/>
<rect x="1334.9" y="290.6" width="12.6" height="11.8" fill="#5d126e"/>
<rect x="1334.9" y="279.4" width="12.6" height="11.8" fill="#6a176e"/>
<rect x="1334.9" y="268.2" width="12.6" height="11.8" fill="#781c6d"/>
<rect x="1334.9" y="257" width="12.6" height="11.8" fill="#85216b"/>
<rect x="1334.9" y="245.8" width="12.6" height="11.8" fill="#932667"/>
<rect x="1334.9" y="234.6" width="12.6" height="11.8" fill="#a02a63"/>
<rect x="1334.9" y="223.3" width="12.6" height="11.8" fill="#ae305c"/>
<rect x="1334.9" y="212.1" width="12.6" height="11.8" fill="#c73e4c"/>
<rect x="1334.9" y="200.9" width="12.6" height="11.8" fill="#d34743"/>
<rect x="1334.9" y="189.7" width="12.6" height="11.8" fill="#dd513a"/>
<rect x="1334.9" y="178.5" width="12.6" height="11.8" fill="#e65d2f"/>
<rect x="1334.9" y="167.3" width="12.6" height="11.8" fill="#ed6925"/>
<rect x="1334.9" y="156.1" width="12.6" height="11.8" fill="#f37819"/>
<rect x="1334.9" y="144.9" width="12.6" height="11.8" fill="#f8850f"/>
<rect x="1334.9" y="133.7" width="12.6" height="11.8" fill="#fb9606"/>
<rect x="1334.9" y="122.5" width="12.6" height="11.8" fill="#fca50a"/>
<rect x="1334.9" y="111.3" width="12.6" height="11.8" fill="#fbb61a"/>
<rect x="1334.9" y="100.1" width="12.6" height="11.8" fill="#fac62d"/>
<rect x="1334.9" y="88.9" width="12.6" height="11.8" fill="#f6d746"/>
<rect x="1334.9" y="77.7" width="12.6" height="11.8" fill="#f2e661"/>
<rect x="1334.9" y="66.5" width="12.6" height="11.8" fill="#f3f586"/>
<rect x="1334.9" y="55.5" width="12.6" height="11.6" fill="#fcffa4"/>
</g>
<path d="M1334.9,392.4L1341.2,409.3L1347.5,392.4Z" fill="#000004"/>
<path d="M1334.9,56.3L1341.2,39.4L1347.5,56.3Z" fill="#fcffa4"/>
<path d="M1334.9,56.3L1341.2,39.4L1347.5,56.3L1347.5,392.4L1341.2,409.3L1334.9,392.4Z" fill="none" stroke="#000" stroke-width="1.33" stroke-linejoin="miter"/>
<g stroke="#000" stroke-width="1.33">
<path d="M1347.5,392.4h5.83"/>
<path d="M1347.5,336.4h5.83"/>
<path d="M1347.5,280.4h5.83"/>
<path d="M1347.5,224.3h5.83"/>
<path d="M1347.5,168.3h5.83"/>
<path d="M1347.5,112.3h5.83"/>
<path d="M1347.5,56.3h5.83"/>
</g>
<g font-family="Liberation Sans, sans-serif" fill="#000">
<text x="80" y="34.2" font-size="22.2" text-anchor="start" textLength="213.2" lengthAdjust="spacingAndGlyphs">munich, 2 Apr 2025</text>
<text x="555" y="29.7" font-size="23.8" text-anchor="start" textLength="256.6" lengthAdjust="spacingAndGlyphs">Potential temperature</text>
<text x="622.5" y="462.8" font-size="22.2" text-anchor="start" textLength="119.5" lengthAdjust="spacingAndGlyphs">Time (UTC)</text>
<text x="240.1" y="436.4" font-size="20.6" text-anchor="start" textLength="56.6" lengthAdjust="spacingAndGlyphs">04:00</text>
<text x="447.4" y="436.4" font-size="20.6" text-anchor="start" textLength="56.6" lengthAdjust="spacingAndGlyphs">08:00</text>
<text x="654.6" y="436.4" font-size="20.6" text-anchor="start" textLength="56.6" lengthAdjust="spacingAndGlyphs">12:00</text>
<text x="861.9" y="436.4" font-size="20.6" text-anchor="start" textLength="56.6" lengthAdjust="spacingAndGlyphs">16:00</text>
<text x="1069.2" y="436.4" font-size="20.6" text-anchor="start" textLength="56.6" lengthAdjust="spacingAndGlyphs">20:00</text>
<text x="39" y="416.5" font-size="17.5" text-anchor="start" textLength="10.2" lengthAdjust="spacingAndGlyphs">0</text>
<text x="39" y="342.5" font-size="17.5" text-anchor="start" textLength="10.2" lengthAdjust="spacingAndGlyphs">1</text>
<text x="39" y="268.5" font-size="17.5" text-anchor="start" textLength="10.2" lengthAdjust="spacingAndGlyphs">2</text>
<text x="39" y="194.5" font-size="17.5" text-anchor="start" textLength="10.2" lengthAdjust="spacingAndGlyphs">3</text>
<text x="39" y="120.5" font-size="17.5" text-anchor="start" textLength="10.2" lengthAdjust="spacingAndGlyphs">4</text>
<text x="39" y="46.5" font-size="17.5" text-anchor="start" textLength="10.2" lengthAdjust="spacingAndGlyphs">5</text>
<text x="1359.3" y="399.3" font-size="17.3" text-anchor="start" textLength="30.6" lengthAdjust="spacingAndGlyphs">260</text>
<text x="1359.3" y="343.3" font-size="17.3" text-anchor="start" textLength="30.6" lengthAdjust="spacingAndGlyphs">270</text>
<text x="1359.3" y="287.3" font-size="17.3" text-anchor="start" textLength="30.6" lengthAdjust="spacingAndGlyphs">280</text>
<text x="1359.3" y="231.2" font-size="17.3" text-anchor="start" textLength="30.6" lengthAdjust="spacingAndGlyphs">290</text>
<text x="1359.3" y="175.2" font-size="17.3" text-anchor="start" textLength="30.6" lengthAdjust="spacingAndGlyphs">300</text>
<text x="1359.3" y="119.2" font-size="17.3" text-anchor="start" textLength="30.6" lengthAdjust="spacingAndGlyphs">310</text>
<text x="1359.3" y="63.2" font-size="17.3" text-anchor="start" textLength="30.6" lengthAdjust="spacingAndGlyphs">320</text>
<text transform="translate(28.3,317.5) rotate(-90)" font-size="22.2" textLength="185.5" lengthAdjust="spacingAndGlyphs">Height a.s.l. (km)</text>
<text transform="translate(1415.2,233.3) rotate(-90)" font-size="22.5" textLength="13.3" lengthAdjust="spacingAndGlyphs">K</text>
</g>
<g font-family="Liberation Sans, sans-serif" font-weight="bold" font-size="13.6" fill="#000" text-anchor="middle">
<text transform="translate(144,360.9) rotate(0)" textLength="27.6" lengthAdjust="spacingAndGlyphs">282</text>
<text transform="translate(319,365.2) rotate(0)" textLength="27.6" lengthAdjust="spacingAndGlyphs">280</text>
<text transform="translate(297,282.4) rotate(5)" textLength="27.6" lengthAdjust="spacingAndGlyphs">288</text>
<text transform="translate(347.3,201.6) rotate(3)" textLength="27.6" lengthAdjust="spacingAndGlyphs">294</text>
<text transform="translate(524,366.1) rotate(0)" textLength="27.6" lengthAdjust="spacingAndGlyphs">284</text>
<text transform="translate(700,180.5) rotate(4)" textLength="27.6" lengthAdjust="spacingAndGlyphs">296</text>
<text transform="translate(787.2,125.4) rotate(8)" textLength="27.6" lengthAdjust="spacingAndGlyphs">300</text>
<text transform="translate(966.3,301.8) rotate(-32)" textLength="27.6" lengthAdjust="spacingAndGlyphs">290</text>
<text transform="translate(1042.7,359) rotate(-12)" textLength="27.6" lengthAdjust="spacingAndGlyphs">286</text>
<text transform="translate(1161.8,275.3) rotate(0)" textLength="27.6" lengthAdjust="spacingAndGlyphs">292</text>
<text transform="translate(1171.8,180.2) rotate(0)" textLength="27.6" lengthAdjust="spacingAndGlyphs">298</text>
<text transform="translate(1210.4,115.8) rotate(0)" textLength="27.6" lengthAdjust="spacingAndGlyphs">302</text>
</g>
</svg>
</body></html>
